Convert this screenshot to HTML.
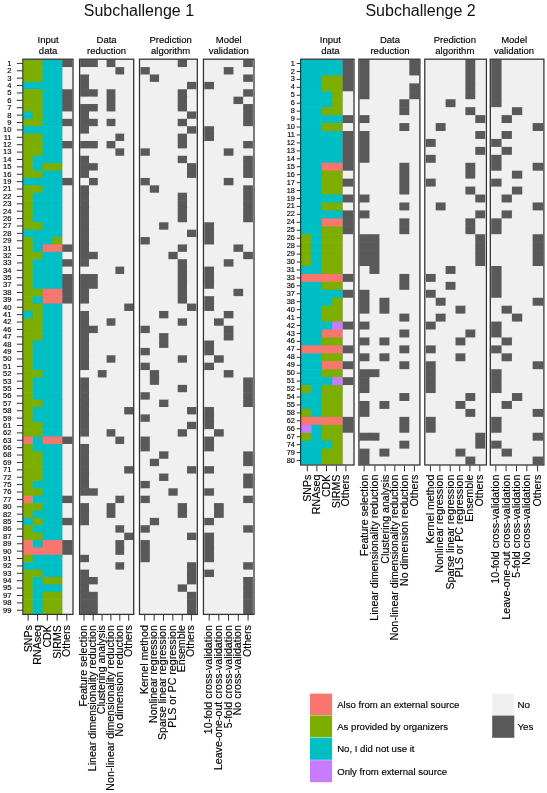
<!DOCTYPE html>
<html><head><meta charset="utf-8"><style>
html,body{margin:0;padding:0;background:#fff;}
svg{display:block;font-family:"Liberation Sans", sans-serif;will-change:transform;}
text{fill:#000;stroke:#000;stroke-width:0.15px;}
text.t{fill:#111;stroke:none;}
</style></head><body>
<svg width="547" height="793" viewBox="0 0 547 793">
<line x1="16.85" y1="63.40" x2="22.85" y2="63.40" stroke="#333333" stroke-width="1"/>
<text x="11.55" y="65.80" font-size="7.6" text-anchor="end">1</text>
<line x1="16.85" y1="70.78" x2="22.85" y2="70.78" stroke="#333333" stroke-width="1"/>
<text x="11.55" y="73.19" font-size="7.6" text-anchor="end">2</text>
<line x1="16.85" y1="78.17" x2="22.85" y2="78.17" stroke="#333333" stroke-width="1"/>
<text x="11.55" y="80.58" font-size="7.6" text-anchor="end">3</text>
<line x1="16.85" y1="85.56" x2="22.85" y2="85.56" stroke="#333333" stroke-width="1"/>
<text x="11.55" y="87.97" font-size="7.6" text-anchor="end">4</text>
<line x1="16.85" y1="92.95" x2="22.85" y2="92.95" stroke="#333333" stroke-width="1"/>
<text x="11.55" y="95.36" font-size="7.6" text-anchor="end">5</text>
<line x1="16.85" y1="100.34" x2="22.85" y2="100.34" stroke="#333333" stroke-width="1"/>
<text x="11.55" y="102.75" font-size="7.6" text-anchor="end">6</text>
<line x1="16.85" y1="107.73" x2="22.85" y2="107.73" stroke="#333333" stroke-width="1"/>
<text x="11.55" y="110.14" font-size="7.6" text-anchor="end">7</text>
<line x1="16.85" y1="115.12" x2="22.85" y2="115.12" stroke="#333333" stroke-width="1"/>
<text x="11.55" y="117.53" font-size="7.6" text-anchor="end">8</text>
<line x1="16.85" y1="122.52" x2="22.85" y2="122.52" stroke="#333333" stroke-width="1"/>
<text x="11.55" y="124.92" font-size="7.6" text-anchor="end">9</text>
<line x1="16.85" y1="129.91" x2="22.85" y2="129.91" stroke="#333333" stroke-width="1"/>
<text x="11.55" y="132.31" font-size="7.6" text-anchor="end">10</text>
<line x1="16.85" y1="137.30" x2="22.85" y2="137.30" stroke="#333333" stroke-width="1"/>
<text x="11.55" y="139.70" font-size="7.6" text-anchor="end">11</text>
<line x1="16.85" y1="144.69" x2="22.85" y2="144.69" stroke="#333333" stroke-width="1"/>
<text x="11.55" y="147.09" font-size="7.6" text-anchor="end">12</text>
<line x1="16.85" y1="152.07" x2="22.85" y2="152.07" stroke="#333333" stroke-width="1"/>
<text x="11.55" y="154.47" font-size="7.6" text-anchor="end">13</text>
<line x1="16.85" y1="159.47" x2="22.85" y2="159.47" stroke="#333333" stroke-width="1"/>
<text x="11.55" y="161.87" font-size="7.6" text-anchor="end">14</text>
<line x1="16.85" y1="166.86" x2="22.85" y2="166.86" stroke="#333333" stroke-width="1"/>
<text x="11.55" y="169.26" font-size="7.6" text-anchor="end">15</text>
<line x1="16.85" y1="174.25" x2="22.85" y2="174.25" stroke="#333333" stroke-width="1"/>
<text x="11.55" y="176.65" font-size="7.6" text-anchor="end">16</text>
<line x1="16.85" y1="181.63" x2="22.85" y2="181.63" stroke="#333333" stroke-width="1"/>
<text x="11.55" y="184.03" font-size="7.6" text-anchor="end">19</text>
<line x1="16.85" y1="189.02" x2="22.85" y2="189.02" stroke="#333333" stroke-width="1"/>
<text x="11.55" y="191.42" font-size="7.6" text-anchor="end">21</text>
<line x1="16.85" y1="196.42" x2="22.85" y2="196.42" stroke="#333333" stroke-width="1"/>
<text x="11.55" y="198.82" font-size="7.6" text-anchor="end">22</text>
<line x1="16.85" y1="203.81" x2="22.85" y2="203.81" stroke="#333333" stroke-width="1"/>
<text x="11.55" y="206.21" font-size="7.6" text-anchor="end">23</text>
<line x1="16.85" y1="211.19" x2="22.85" y2="211.19" stroke="#333333" stroke-width="1"/>
<text x="11.55" y="213.59" font-size="7.6" text-anchor="end">24</text>
<line x1="16.85" y1="218.58" x2="22.85" y2="218.58" stroke="#333333" stroke-width="1"/>
<text x="11.55" y="220.98" font-size="7.6" text-anchor="end">26</text>
<line x1="16.85" y1="225.98" x2="22.85" y2="225.98" stroke="#333333" stroke-width="1"/>
<text x="11.55" y="228.38" font-size="7.6" text-anchor="end">27</text>
<line x1="16.85" y1="233.37" x2="22.85" y2="233.37" stroke="#333333" stroke-width="1"/>
<text x="11.55" y="235.77" font-size="7.6" text-anchor="end">28</text>
<line x1="16.85" y1="240.75" x2="22.85" y2="240.75" stroke="#333333" stroke-width="1"/>
<text x="11.55" y="243.16" font-size="7.6" text-anchor="end">29</text>
<line x1="16.85" y1="248.14" x2="22.85" y2="248.14" stroke="#333333" stroke-width="1"/>
<text x="11.55" y="250.54" font-size="7.6" text-anchor="end">31</text>
<line x1="16.85" y1="255.53" x2="22.85" y2="255.53" stroke="#333333" stroke-width="1"/>
<text x="11.55" y="257.93" font-size="7.6" text-anchor="end">32</text>
<line x1="16.85" y1="262.93" x2="22.85" y2="262.93" stroke="#333333" stroke-width="1"/>
<text x="11.55" y="265.32" font-size="7.6" text-anchor="end">33</text>
<line x1="16.85" y1="270.31" x2="22.85" y2="270.31" stroke="#333333" stroke-width="1"/>
<text x="11.55" y="272.71" font-size="7.6" text-anchor="end">34</text>
<line x1="16.85" y1="277.70" x2="22.85" y2="277.70" stroke="#333333" stroke-width="1"/>
<text x="11.55" y="280.10" font-size="7.6" text-anchor="end">35</text>
<line x1="16.85" y1="285.09" x2="22.85" y2="285.09" stroke="#333333" stroke-width="1"/>
<text x="11.55" y="287.49" font-size="7.6" text-anchor="end">37</text>
<line x1="16.85" y1="292.49" x2="22.85" y2="292.49" stroke="#333333" stroke-width="1"/>
<text x="11.55" y="294.88" font-size="7.6" text-anchor="end">38</text>
<line x1="16.85" y1="299.88" x2="22.85" y2="299.88" stroke="#333333" stroke-width="1"/>
<text x="11.55" y="302.27" font-size="7.6" text-anchor="end">39</text>
<line x1="16.85" y1="307.26" x2="22.85" y2="307.26" stroke="#333333" stroke-width="1"/>
<text x="11.55" y="309.66" font-size="7.6" text-anchor="end">40</text>
<line x1="16.85" y1="314.65" x2="22.85" y2="314.65" stroke="#333333" stroke-width="1"/>
<text x="11.55" y="317.05" font-size="7.6" text-anchor="end">41</text>
<line x1="16.85" y1="322.04" x2="22.85" y2="322.04" stroke="#333333" stroke-width="1"/>
<text x="11.55" y="324.44" font-size="7.6" text-anchor="end">42</text>
<line x1="16.85" y1="329.44" x2="22.85" y2="329.44" stroke="#333333" stroke-width="1"/>
<text x="11.55" y="331.83" font-size="7.6" text-anchor="end">46</text>
<line x1="16.85" y1="336.82" x2="22.85" y2="336.82" stroke="#333333" stroke-width="1"/>
<text x="11.55" y="339.22" font-size="7.6" text-anchor="end">47</text>
<line x1="16.85" y1="344.21" x2="22.85" y2="344.21" stroke="#333333" stroke-width="1"/>
<text x="11.55" y="346.61" font-size="7.6" text-anchor="end">48</text>
<line x1="16.85" y1="351.60" x2="22.85" y2="351.60" stroke="#333333" stroke-width="1"/>
<text x="11.55" y="354.00" font-size="7.6" text-anchor="end">49</text>
<line x1="16.85" y1="358.99" x2="22.85" y2="358.99" stroke="#333333" stroke-width="1"/>
<text x="11.55" y="361.39" font-size="7.6" text-anchor="end">50</text>
<line x1="16.85" y1="366.38" x2="22.85" y2="366.38" stroke="#333333" stroke-width="1"/>
<text x="11.55" y="368.78" font-size="7.6" text-anchor="end">51</text>
<line x1="16.85" y1="373.77" x2="22.85" y2="373.77" stroke="#333333" stroke-width="1"/>
<text x="11.55" y="376.17" font-size="7.6" text-anchor="end">52</text>
<line x1="16.85" y1="381.16" x2="22.85" y2="381.16" stroke="#333333" stroke-width="1"/>
<text x="11.55" y="383.56" font-size="7.6" text-anchor="end">53</text>
<line x1="16.85" y1="388.55" x2="22.85" y2="388.55" stroke="#333333" stroke-width="1"/>
<text x="11.55" y="390.95" font-size="7.6" text-anchor="end">55</text>
<line x1="16.85" y1="395.94" x2="22.85" y2="395.94" stroke="#333333" stroke-width="1"/>
<text x="11.55" y="398.34" font-size="7.6" text-anchor="end">56</text>
<line x1="16.85" y1="403.33" x2="22.85" y2="403.33" stroke="#333333" stroke-width="1"/>
<text x="11.55" y="405.73" font-size="7.6" text-anchor="end">57</text>
<line x1="16.85" y1="410.72" x2="22.85" y2="410.72" stroke="#333333" stroke-width="1"/>
<text x="11.55" y="413.12" font-size="7.6" text-anchor="end">58</text>
<line x1="16.85" y1="418.11" x2="22.85" y2="418.11" stroke="#333333" stroke-width="1"/>
<text x="11.55" y="420.51" font-size="7.6" text-anchor="end">59</text>
<line x1="16.85" y1="425.50" x2="22.85" y2="425.50" stroke="#333333" stroke-width="1"/>
<text x="11.55" y="427.90" font-size="7.6" text-anchor="end">61</text>
<line x1="16.85" y1="432.89" x2="22.85" y2="432.89" stroke="#333333" stroke-width="1"/>
<text x="11.55" y="435.29" font-size="7.6" text-anchor="end">62</text>
<line x1="16.85" y1="440.28" x2="22.85" y2="440.28" stroke="#333333" stroke-width="1"/>
<text x="11.55" y="442.68" font-size="7.6" text-anchor="end">63</text>
<line x1="16.85" y1="447.67" x2="22.85" y2="447.67" stroke="#333333" stroke-width="1"/>
<text x="11.55" y="450.07" font-size="7.6" text-anchor="end">66</text>
<line x1="16.85" y1="455.06" x2="22.85" y2="455.06" stroke="#333333" stroke-width="1"/>
<text x="11.55" y="457.46" font-size="7.6" text-anchor="end">68</text>
<line x1="16.85" y1="462.45" x2="22.85" y2="462.45" stroke="#333333" stroke-width="1"/>
<text x="11.55" y="464.85" font-size="7.6" text-anchor="end">69</text>
<line x1="16.85" y1="469.84" x2="22.85" y2="469.84" stroke="#333333" stroke-width="1"/>
<text x="11.55" y="472.24" font-size="7.6" text-anchor="end">71</text>
<line x1="16.85" y1="477.23" x2="22.85" y2="477.23" stroke="#333333" stroke-width="1"/>
<text x="11.55" y="479.63" font-size="7.6" text-anchor="end">72</text>
<line x1="16.85" y1="484.62" x2="22.85" y2="484.62" stroke="#333333" stroke-width="1"/>
<text x="11.55" y="487.02" font-size="7.6" text-anchor="end">75</text>
<line x1="16.85" y1="492.01" x2="22.85" y2="492.01" stroke="#333333" stroke-width="1"/>
<text x="11.55" y="494.41" font-size="7.6" text-anchor="end">76</text>
<line x1="16.85" y1="499.40" x2="22.85" y2="499.40" stroke="#333333" stroke-width="1"/>
<text x="11.55" y="501.80" font-size="7.6" text-anchor="end">77</text>
<line x1="16.85" y1="506.79" x2="22.85" y2="506.79" stroke="#333333" stroke-width="1"/>
<text x="11.55" y="509.19" font-size="7.6" text-anchor="end">80</text>
<line x1="16.85" y1="514.18" x2="22.85" y2="514.18" stroke="#333333" stroke-width="1"/>
<text x="11.55" y="516.58" font-size="7.6" text-anchor="end">82</text>
<line x1="16.85" y1="521.58" x2="22.85" y2="521.58" stroke="#333333" stroke-width="1"/>
<text x="11.55" y="523.98" font-size="7.6" text-anchor="end">85</text>
<line x1="16.85" y1="528.97" x2="22.85" y2="528.97" stroke="#333333" stroke-width="1"/>
<text x="11.55" y="531.37" font-size="7.6" text-anchor="end">86</text>
<line x1="16.85" y1="536.36" x2="22.85" y2="536.36" stroke="#333333" stroke-width="1"/>
<text x="11.55" y="538.75" font-size="7.6" text-anchor="end">87</text>
<line x1="16.85" y1="543.75" x2="22.85" y2="543.75" stroke="#333333" stroke-width="1"/>
<text x="11.55" y="546.14" font-size="7.6" text-anchor="end">89</text>
<line x1="16.85" y1="551.13" x2="22.85" y2="551.13" stroke="#333333" stroke-width="1"/>
<text x="11.55" y="553.53" font-size="7.6" text-anchor="end">90</text>
<line x1="16.85" y1="558.52" x2="22.85" y2="558.52" stroke="#333333" stroke-width="1"/>
<text x="11.55" y="560.92" font-size="7.6" text-anchor="end">91</text>
<line x1="16.85" y1="565.91" x2="22.85" y2="565.91" stroke="#333333" stroke-width="1"/>
<text x="11.55" y="568.31" font-size="7.6" text-anchor="end">92</text>
<line x1="16.85" y1="573.31" x2="22.85" y2="573.31" stroke="#333333" stroke-width="1"/>
<text x="11.55" y="575.71" font-size="7.6" text-anchor="end">93</text>
<line x1="16.85" y1="580.70" x2="22.85" y2="580.70" stroke="#333333" stroke-width="1"/>
<text x="11.55" y="583.10" font-size="7.6" text-anchor="end">94</text>
<line x1="16.85" y1="588.09" x2="22.85" y2="588.09" stroke="#333333" stroke-width="1"/>
<text x="11.55" y="590.49" font-size="7.6" text-anchor="end">95</text>
<line x1="16.85" y1="595.48" x2="22.85" y2="595.48" stroke="#333333" stroke-width="1"/>
<text x="11.55" y="597.88" font-size="7.6" text-anchor="end">97</text>
<line x1="16.85" y1="602.87" x2="22.85" y2="602.87" stroke="#333333" stroke-width="1"/>
<text x="11.55" y="605.26" font-size="7.6" text-anchor="end">98</text>
<line x1="16.85" y1="610.25" x2="22.85" y2="610.25" stroke="#333333" stroke-width="1"/>
<text x="11.55" y="612.65" font-size="7.6" text-anchor="end">99</text>
<rect x="23.30" y="59.70" width="10.38" height="7.99" fill="#7CAE00"/>
<rect x="33.08" y="59.70" width="10.38" height="7.99" fill="#7CAE00"/>
<rect x="42.86" y="59.70" width="10.38" height="7.99" fill="#00BFC4"/>
<rect x="52.64" y="59.70" width="10.38" height="7.99" fill="#00BFC4"/>
<rect x="62.42" y="59.70" width="9.78" height="7.99" fill="#595959"/>
<rect x="23.30" y="67.09" width="10.38" height="7.99" fill="#7CAE00"/>
<rect x="33.08" y="67.09" width="10.38" height="7.99" fill="#7CAE00"/>
<rect x="42.86" y="67.09" width="10.38" height="7.99" fill="#00BFC4"/>
<rect x="52.64" y="67.09" width="10.38" height="7.99" fill="#00BFC4"/>
<rect x="62.42" y="67.09" width="9.78" height="7.99" fill="#F0F0F0"/>
<rect x="23.30" y="74.48" width="10.38" height="7.99" fill="#7CAE00"/>
<rect x="33.08" y="74.48" width="10.38" height="7.99" fill="#7CAE00"/>
<rect x="42.86" y="74.48" width="10.38" height="7.99" fill="#00BFC4"/>
<rect x="52.64" y="74.48" width="10.38" height="7.99" fill="#00BFC4"/>
<rect x="62.42" y="74.48" width="9.78" height="7.99" fill="#F0F0F0"/>
<rect x="23.30" y="81.87" width="10.38" height="7.99" fill="#00BFC4"/>
<rect x="33.08" y="81.87" width="10.38" height="7.99" fill="#00BFC4"/>
<rect x="42.86" y="81.87" width="10.38" height="7.99" fill="#00BFC4"/>
<rect x="52.64" y="81.87" width="10.38" height="7.99" fill="#00BFC4"/>
<rect x="62.42" y="81.87" width="9.78" height="7.99" fill="#F0F0F0"/>
<rect x="23.30" y="89.26" width="10.38" height="7.99" fill="#7CAE00"/>
<rect x="33.08" y="89.26" width="10.38" height="7.99" fill="#7CAE00"/>
<rect x="42.86" y="89.26" width="10.38" height="7.99" fill="#00BFC4"/>
<rect x="52.64" y="89.26" width="10.38" height="7.99" fill="#00BFC4"/>
<rect x="62.42" y="89.26" width="9.78" height="7.99" fill="#595959"/>
<rect x="23.30" y="96.65" width="10.38" height="7.99" fill="#7CAE00"/>
<rect x="33.08" y="96.65" width="10.38" height="7.99" fill="#7CAE00"/>
<rect x="42.86" y="96.65" width="10.38" height="7.99" fill="#00BFC4"/>
<rect x="52.64" y="96.65" width="10.38" height="7.99" fill="#00BFC4"/>
<rect x="62.42" y="96.65" width="9.78" height="7.99" fill="#595959"/>
<rect x="23.30" y="104.04" width="10.38" height="7.99" fill="#7CAE00"/>
<rect x="33.08" y="104.04" width="10.38" height="7.99" fill="#7CAE00"/>
<rect x="42.86" y="104.04" width="10.38" height="7.99" fill="#00BFC4"/>
<rect x="52.64" y="104.04" width="10.38" height="7.99" fill="#00BFC4"/>
<rect x="62.42" y="104.04" width="9.78" height="7.99" fill="#595959"/>
<rect x="23.30" y="111.43" width="10.38" height="7.99" fill="#00BFC4"/>
<rect x="33.08" y="111.43" width="10.38" height="7.99" fill="#7CAE00"/>
<rect x="42.86" y="111.43" width="10.38" height="7.99" fill="#00BFC4"/>
<rect x="52.64" y="111.43" width="10.38" height="7.99" fill="#00BFC4"/>
<rect x="62.42" y="111.43" width="9.78" height="7.99" fill="#F0F0F0"/>
<rect x="23.30" y="118.82" width="10.38" height="7.99" fill="#7CAE00"/>
<rect x="33.08" y="118.82" width="10.38" height="7.99" fill="#7CAE00"/>
<rect x="42.86" y="118.82" width="10.38" height="7.99" fill="#00BFC4"/>
<rect x="52.64" y="118.82" width="10.38" height="7.99" fill="#00BFC4"/>
<rect x="62.42" y="118.82" width="9.78" height="7.99" fill="#595959"/>
<rect x="23.30" y="126.21" width="10.38" height="7.99" fill="#00BFC4"/>
<rect x="33.08" y="126.21" width="10.38" height="7.99" fill="#00BFC4"/>
<rect x="42.86" y="126.21" width="10.38" height="7.99" fill="#00BFC4"/>
<rect x="52.64" y="126.21" width="10.38" height="7.99" fill="#00BFC4"/>
<rect x="62.42" y="126.21" width="9.78" height="7.99" fill="#F0F0F0"/>
<rect x="23.30" y="133.60" width="10.38" height="7.99" fill="#7CAE00"/>
<rect x="33.08" y="133.60" width="10.38" height="7.99" fill="#7CAE00"/>
<rect x="42.86" y="133.60" width="10.38" height="7.99" fill="#00BFC4"/>
<rect x="52.64" y="133.60" width="10.38" height="7.99" fill="#00BFC4"/>
<rect x="62.42" y="133.60" width="9.78" height="7.99" fill="#F0F0F0"/>
<rect x="23.30" y="140.99" width="10.38" height="7.99" fill="#7CAE00"/>
<rect x="33.08" y="140.99" width="10.38" height="7.99" fill="#7CAE00"/>
<rect x="42.86" y="140.99" width="10.38" height="7.99" fill="#00BFC4"/>
<rect x="52.64" y="140.99" width="10.38" height="7.99" fill="#00BFC4"/>
<rect x="62.42" y="140.99" width="9.78" height="7.99" fill="#595959"/>
<rect x="23.30" y="148.38" width="10.38" height="7.99" fill="#7CAE00"/>
<rect x="33.08" y="148.38" width="10.38" height="7.99" fill="#7CAE00"/>
<rect x="42.86" y="148.38" width="10.38" height="7.99" fill="#00BFC4"/>
<rect x="52.64" y="148.38" width="10.38" height="7.99" fill="#00BFC4"/>
<rect x="62.42" y="148.38" width="9.78" height="7.99" fill="#F0F0F0"/>
<rect x="23.30" y="155.77" width="10.38" height="7.99" fill="#7CAE00"/>
<rect x="33.08" y="155.77" width="10.38" height="7.99" fill="#00BFC4"/>
<rect x="42.86" y="155.77" width="10.38" height="7.99" fill="#00BFC4"/>
<rect x="52.64" y="155.77" width="10.38" height="7.99" fill="#00BFC4"/>
<rect x="62.42" y="155.77" width="9.78" height="7.99" fill="#F0F0F0"/>
<rect x="23.30" y="163.16" width="10.38" height="7.99" fill="#7CAE00"/>
<rect x="33.08" y="163.16" width="10.38" height="7.99" fill="#00BFC4"/>
<rect x="42.86" y="163.16" width="10.38" height="7.99" fill="#7CAE00"/>
<rect x="52.64" y="163.16" width="10.38" height="7.99" fill="#7CAE00"/>
<rect x="62.42" y="163.16" width="9.78" height="7.99" fill="#F0F0F0"/>
<rect x="23.30" y="170.55" width="10.38" height="7.99" fill="#7CAE00"/>
<rect x="33.08" y="170.55" width="10.38" height="7.99" fill="#7CAE00"/>
<rect x="42.86" y="170.55" width="10.38" height="7.99" fill="#00BFC4"/>
<rect x="52.64" y="170.55" width="10.38" height="7.99" fill="#00BFC4"/>
<rect x="62.42" y="170.55" width="9.78" height="7.99" fill="#F0F0F0"/>
<rect x="23.30" y="177.94" width="10.38" height="7.99" fill="#00BFC4"/>
<rect x="33.08" y="177.94" width="10.38" height="7.99" fill="#00BFC4"/>
<rect x="42.86" y="177.94" width="10.38" height="7.99" fill="#00BFC4"/>
<rect x="52.64" y="177.94" width="10.38" height="7.99" fill="#00BFC4"/>
<rect x="62.42" y="177.94" width="9.78" height="7.99" fill="#595959"/>
<rect x="23.30" y="185.33" width="10.38" height="7.99" fill="#7CAE00"/>
<rect x="33.08" y="185.33" width="10.38" height="7.99" fill="#7CAE00"/>
<rect x="42.86" y="185.33" width="10.38" height="7.99" fill="#00BFC4"/>
<rect x="52.64" y="185.33" width="10.38" height="7.99" fill="#00BFC4"/>
<rect x="62.42" y="185.33" width="9.78" height="7.99" fill="#F0F0F0"/>
<rect x="23.30" y="192.72" width="10.38" height="7.99" fill="#7CAE00"/>
<rect x="33.08" y="192.72" width="10.38" height="7.99" fill="#00BFC4"/>
<rect x="42.86" y="192.72" width="10.38" height="7.99" fill="#00BFC4"/>
<rect x="52.64" y="192.72" width="10.38" height="7.99" fill="#00BFC4"/>
<rect x="62.42" y="192.72" width="9.78" height="7.99" fill="#F0F0F0"/>
<rect x="23.30" y="200.11" width="10.38" height="7.99" fill="#7CAE00"/>
<rect x="33.08" y="200.11" width="10.38" height="7.99" fill="#00BFC4"/>
<rect x="42.86" y="200.11" width="10.38" height="7.99" fill="#00BFC4"/>
<rect x="52.64" y="200.11" width="10.38" height="7.99" fill="#00BFC4"/>
<rect x="62.42" y="200.11" width="9.78" height="7.99" fill="#F0F0F0"/>
<rect x="23.30" y="207.50" width="10.38" height="7.99" fill="#7CAE00"/>
<rect x="33.08" y="207.50" width="10.38" height="7.99" fill="#00BFC4"/>
<rect x="42.86" y="207.50" width="10.38" height="7.99" fill="#00BFC4"/>
<rect x="52.64" y="207.50" width="10.38" height="7.99" fill="#00BFC4"/>
<rect x="62.42" y="207.50" width="9.78" height="7.99" fill="#F0F0F0"/>
<rect x="23.30" y="214.89" width="10.38" height="7.99" fill="#7CAE00"/>
<rect x="33.08" y="214.89" width="10.38" height="7.99" fill="#00BFC4"/>
<rect x="42.86" y="214.89" width="10.38" height="7.99" fill="#00BFC4"/>
<rect x="52.64" y="214.89" width="10.38" height="7.99" fill="#00BFC4"/>
<rect x="62.42" y="214.89" width="9.78" height="7.99" fill="#F0F0F0"/>
<rect x="23.30" y="222.28" width="10.38" height="7.99" fill="#7CAE00"/>
<rect x="33.08" y="222.28" width="10.38" height="7.99" fill="#7CAE00"/>
<rect x="42.86" y="222.28" width="10.38" height="7.99" fill="#00BFC4"/>
<rect x="52.64" y="222.28" width="10.38" height="7.99" fill="#00BFC4"/>
<rect x="62.42" y="222.28" width="9.78" height="7.99" fill="#F0F0F0"/>
<rect x="23.30" y="229.67" width="10.38" height="7.99" fill="#00BFC4"/>
<rect x="33.08" y="229.67" width="10.38" height="7.99" fill="#00BFC4"/>
<rect x="42.86" y="229.67" width="10.38" height="7.99" fill="#00BFC4"/>
<rect x="52.64" y="229.67" width="10.38" height="7.99" fill="#00BFC4"/>
<rect x="62.42" y="229.67" width="9.78" height="7.99" fill="#F0F0F0"/>
<rect x="23.30" y="237.06" width="10.38" height="7.99" fill="#7CAE00"/>
<rect x="33.08" y="237.06" width="10.38" height="7.99" fill="#00BFC4"/>
<rect x="42.86" y="237.06" width="10.38" height="7.99" fill="#00BFC4"/>
<rect x="52.64" y="237.06" width="10.38" height="7.99" fill="#7CAE00"/>
<rect x="62.42" y="237.06" width="9.78" height="7.99" fill="#F0F0F0"/>
<rect x="23.30" y="244.45" width="10.38" height="7.99" fill="#7CAE00"/>
<rect x="33.08" y="244.45" width="10.38" height="7.99" fill="#00BFC4"/>
<rect x="42.86" y="244.45" width="10.38" height="7.99" fill="#F8766D"/>
<rect x="52.64" y="244.45" width="10.38" height="7.99" fill="#F8766D"/>
<rect x="62.42" y="244.45" width="9.78" height="7.99" fill="#595959"/>
<rect x="23.30" y="251.84" width="10.38" height="7.99" fill="#7CAE00"/>
<rect x="33.08" y="251.84" width="10.38" height="7.99" fill="#7CAE00"/>
<rect x="42.86" y="251.84" width="10.38" height="7.99" fill="#00BFC4"/>
<rect x="52.64" y="251.84" width="10.38" height="7.99" fill="#00BFC4"/>
<rect x="62.42" y="251.84" width="9.78" height="7.99" fill="#F0F0F0"/>
<rect x="23.30" y="259.23" width="10.38" height="7.99" fill="#7CAE00"/>
<rect x="33.08" y="259.23" width="10.38" height="7.99" fill="#00BFC4"/>
<rect x="42.86" y="259.23" width="10.38" height="7.99" fill="#00BFC4"/>
<rect x="52.64" y="259.23" width="10.38" height="7.99" fill="#00BFC4"/>
<rect x="62.42" y="259.23" width="9.78" height="7.99" fill="#595959"/>
<rect x="23.30" y="266.62" width="10.38" height="7.99" fill="#7CAE00"/>
<rect x="33.08" y="266.62" width="10.38" height="7.99" fill="#00BFC4"/>
<rect x="42.86" y="266.62" width="10.38" height="7.99" fill="#00BFC4"/>
<rect x="52.64" y="266.62" width="10.38" height="7.99" fill="#00BFC4"/>
<rect x="62.42" y="266.62" width="9.78" height="7.99" fill="#F0F0F0"/>
<rect x="23.30" y="274.01" width="10.38" height="7.99" fill="#7CAE00"/>
<rect x="33.08" y="274.01" width="10.38" height="7.99" fill="#00BFC4"/>
<rect x="42.86" y="274.01" width="10.38" height="7.99" fill="#00BFC4"/>
<rect x="52.64" y="274.01" width="10.38" height="7.99" fill="#00BFC4"/>
<rect x="62.42" y="274.01" width="9.78" height="7.99" fill="#595959"/>
<rect x="23.30" y="281.40" width="10.38" height="7.99" fill="#7CAE00"/>
<rect x="33.08" y="281.40" width="10.38" height="7.99" fill="#00BFC4"/>
<rect x="42.86" y="281.40" width="10.38" height="7.99" fill="#00BFC4"/>
<rect x="52.64" y="281.40" width="10.38" height="7.99" fill="#00BFC4"/>
<rect x="62.42" y="281.40" width="9.78" height="7.99" fill="#595959"/>
<rect x="23.30" y="288.79" width="10.38" height="7.99" fill="#7CAE00"/>
<rect x="33.08" y="288.79" width="10.38" height="7.99" fill="#7CAE00"/>
<rect x="42.86" y="288.79" width="10.38" height="7.99" fill="#F8766D"/>
<rect x="52.64" y="288.79" width="10.38" height="7.99" fill="#F8766D"/>
<rect x="62.42" y="288.79" width="9.78" height="7.99" fill="#595959"/>
<rect x="23.30" y="296.18" width="10.38" height="7.99" fill="#7CAE00"/>
<rect x="33.08" y="296.18" width="10.38" height="7.99" fill="#00BFC4"/>
<rect x="42.86" y="296.18" width="10.38" height="7.99" fill="#F8766D"/>
<rect x="52.64" y="296.18" width="10.38" height="7.99" fill="#F8766D"/>
<rect x="62.42" y="296.18" width="9.78" height="7.99" fill="#595959"/>
<rect x="23.30" y="303.57" width="10.38" height="7.99" fill="#7CAE00"/>
<rect x="33.08" y="303.57" width="10.38" height="7.99" fill="#7CAE00"/>
<rect x="42.86" y="303.57" width="10.38" height="7.99" fill="#00BFC4"/>
<rect x="52.64" y="303.57" width="10.38" height="7.99" fill="#00BFC4"/>
<rect x="62.42" y="303.57" width="9.78" height="7.99" fill="#F0F0F0"/>
<rect x="23.30" y="310.96" width="10.38" height="7.99" fill="#00BFC4"/>
<rect x="33.08" y="310.96" width="10.38" height="7.99" fill="#7CAE00"/>
<rect x="42.86" y="310.96" width="10.38" height="7.99" fill="#00BFC4"/>
<rect x="52.64" y="310.96" width="10.38" height="7.99" fill="#00BFC4"/>
<rect x="62.42" y="310.96" width="9.78" height="7.99" fill="#F0F0F0"/>
<rect x="23.30" y="318.35" width="10.38" height="7.99" fill="#7CAE00"/>
<rect x="33.08" y="318.35" width="10.38" height="7.99" fill="#7CAE00"/>
<rect x="42.86" y="318.35" width="10.38" height="7.99" fill="#00BFC4"/>
<rect x="52.64" y="318.35" width="10.38" height="7.99" fill="#00BFC4"/>
<rect x="62.42" y="318.35" width="9.78" height="7.99" fill="#F0F0F0"/>
<rect x="23.30" y="325.74" width="10.38" height="7.99" fill="#7CAE00"/>
<rect x="33.08" y="325.74" width="10.38" height="7.99" fill="#7CAE00"/>
<rect x="42.86" y="325.74" width="10.38" height="7.99" fill="#00BFC4"/>
<rect x="52.64" y="325.74" width="10.38" height="7.99" fill="#00BFC4"/>
<rect x="62.42" y="325.74" width="9.78" height="7.99" fill="#F0F0F0"/>
<rect x="23.30" y="333.13" width="10.38" height="7.99" fill="#7CAE00"/>
<rect x="33.08" y="333.13" width="10.38" height="7.99" fill="#7CAE00"/>
<rect x="42.86" y="333.13" width="10.38" height="7.99" fill="#00BFC4"/>
<rect x="52.64" y="333.13" width="10.38" height="7.99" fill="#00BFC4"/>
<rect x="62.42" y="333.13" width="9.78" height="7.99" fill="#F0F0F0"/>
<rect x="23.30" y="340.52" width="10.38" height="7.99" fill="#7CAE00"/>
<rect x="33.08" y="340.52" width="10.38" height="7.99" fill="#00BFC4"/>
<rect x="42.86" y="340.52" width="10.38" height="7.99" fill="#00BFC4"/>
<rect x="52.64" y="340.52" width="10.38" height="7.99" fill="#00BFC4"/>
<rect x="62.42" y="340.52" width="9.78" height="7.99" fill="#F0F0F0"/>
<rect x="23.30" y="347.91" width="10.38" height="7.99" fill="#7CAE00"/>
<rect x="33.08" y="347.91" width="10.38" height="7.99" fill="#00BFC4"/>
<rect x="42.86" y="347.91" width="10.38" height="7.99" fill="#00BFC4"/>
<rect x="52.64" y="347.91" width="10.38" height="7.99" fill="#00BFC4"/>
<rect x="62.42" y="347.91" width="9.78" height="7.99" fill="#F0F0F0"/>
<rect x="23.30" y="355.30" width="10.38" height="7.99" fill="#7CAE00"/>
<rect x="33.08" y="355.30" width="10.38" height="7.99" fill="#00BFC4"/>
<rect x="42.86" y="355.30" width="10.38" height="7.99" fill="#00BFC4"/>
<rect x="52.64" y="355.30" width="10.38" height="7.99" fill="#00BFC4"/>
<rect x="62.42" y="355.30" width="9.78" height="7.99" fill="#F0F0F0"/>
<rect x="23.30" y="362.69" width="10.38" height="7.99" fill="#7CAE00"/>
<rect x="33.08" y="362.69" width="10.38" height="7.99" fill="#00BFC4"/>
<rect x="42.86" y="362.69" width="10.38" height="7.99" fill="#00BFC4"/>
<rect x="52.64" y="362.69" width="10.38" height="7.99" fill="#00BFC4"/>
<rect x="62.42" y="362.69" width="9.78" height="7.99" fill="#F0F0F0"/>
<rect x="23.30" y="370.08" width="10.38" height="7.99" fill="#7CAE00"/>
<rect x="33.08" y="370.08" width="10.38" height="7.99" fill="#7CAE00"/>
<rect x="42.86" y="370.08" width="10.38" height="7.99" fill="#00BFC4"/>
<rect x="52.64" y="370.08" width="10.38" height="7.99" fill="#00BFC4"/>
<rect x="62.42" y="370.08" width="9.78" height="7.99" fill="#F0F0F0"/>
<rect x="23.30" y="377.47" width="10.38" height="7.99" fill="#7CAE00"/>
<rect x="33.08" y="377.47" width="10.38" height="7.99" fill="#00BFC4"/>
<rect x="42.86" y="377.47" width="10.38" height="7.99" fill="#00BFC4"/>
<rect x="52.64" y="377.47" width="10.38" height="7.99" fill="#00BFC4"/>
<rect x="62.42" y="377.47" width="9.78" height="7.99" fill="#F0F0F0"/>
<rect x="23.30" y="384.86" width="10.38" height="7.99" fill="#7CAE00"/>
<rect x="33.08" y="384.86" width="10.38" height="7.99" fill="#00BFC4"/>
<rect x="42.86" y="384.86" width="10.38" height="7.99" fill="#00BFC4"/>
<rect x="52.64" y="384.86" width="10.38" height="7.99" fill="#00BFC4"/>
<rect x="62.42" y="384.86" width="9.78" height="7.99" fill="#F0F0F0"/>
<rect x="23.30" y="392.25" width="10.38" height="7.99" fill="#7CAE00"/>
<rect x="33.08" y="392.25" width="10.38" height="7.99" fill="#00BFC4"/>
<rect x="42.86" y="392.25" width="10.38" height="7.99" fill="#00BFC4"/>
<rect x="52.64" y="392.25" width="10.38" height="7.99" fill="#00BFC4"/>
<rect x="62.42" y="392.25" width="9.78" height="7.99" fill="#F0F0F0"/>
<rect x="23.30" y="399.64" width="10.38" height="7.99" fill="#7CAE00"/>
<rect x="33.08" y="399.64" width="10.38" height="7.99" fill="#7CAE00"/>
<rect x="42.86" y="399.64" width="10.38" height="7.99" fill="#00BFC4"/>
<rect x="52.64" y="399.64" width="10.38" height="7.99" fill="#00BFC4"/>
<rect x="62.42" y="399.64" width="9.78" height="7.99" fill="#F0F0F0"/>
<rect x="23.30" y="407.03" width="10.38" height="7.99" fill="#7CAE00"/>
<rect x="33.08" y="407.03" width="10.38" height="7.99" fill="#00BFC4"/>
<rect x="42.86" y="407.03" width="10.38" height="7.99" fill="#00BFC4"/>
<rect x="52.64" y="407.03" width="10.38" height="7.99" fill="#00BFC4"/>
<rect x="62.42" y="407.03" width="9.78" height="7.99" fill="#F0F0F0"/>
<rect x="23.30" y="414.42" width="10.38" height="7.99" fill="#7CAE00"/>
<rect x="33.08" y="414.42" width="10.38" height="7.99" fill="#00BFC4"/>
<rect x="42.86" y="414.42" width="10.38" height="7.99" fill="#00BFC4"/>
<rect x="52.64" y="414.42" width="10.38" height="7.99" fill="#00BFC4"/>
<rect x="62.42" y="414.42" width="9.78" height="7.99" fill="#F0F0F0"/>
<rect x="23.30" y="421.81" width="10.38" height="7.99" fill="#7CAE00"/>
<rect x="33.08" y="421.81" width="10.38" height="7.99" fill="#7CAE00"/>
<rect x="42.86" y="421.81" width="10.38" height="7.99" fill="#00BFC4"/>
<rect x="52.64" y="421.81" width="10.38" height="7.99" fill="#00BFC4"/>
<rect x="62.42" y="421.81" width="9.78" height="7.99" fill="#F0F0F0"/>
<rect x="23.30" y="429.20" width="10.38" height="7.99" fill="#7CAE00"/>
<rect x="33.08" y="429.20" width="10.38" height="7.99" fill="#7CAE00"/>
<rect x="42.86" y="429.20" width="10.38" height="7.99" fill="#00BFC4"/>
<rect x="52.64" y="429.20" width="10.38" height="7.99" fill="#00BFC4"/>
<rect x="62.42" y="429.20" width="9.78" height="7.99" fill="#F0F0F0"/>
<rect x="23.30" y="436.59" width="10.38" height="7.99" fill="#F8766D"/>
<rect x="33.08" y="436.59" width="10.38" height="7.99" fill="#00BFC4"/>
<rect x="42.86" y="436.59" width="10.38" height="7.99" fill="#F8766D"/>
<rect x="52.64" y="436.59" width="10.38" height="7.99" fill="#F8766D"/>
<rect x="62.42" y="436.59" width="9.78" height="7.99" fill="#595959"/>
<rect x="23.30" y="443.98" width="10.38" height="7.99" fill="#7CAE00"/>
<rect x="33.08" y="443.98" width="10.38" height="7.99" fill="#00BFC4"/>
<rect x="42.86" y="443.98" width="10.38" height="7.99" fill="#00BFC4"/>
<rect x="52.64" y="443.98" width="10.38" height="7.99" fill="#00BFC4"/>
<rect x="62.42" y="443.98" width="9.78" height="7.99" fill="#F0F0F0"/>
<rect x="23.30" y="451.37" width="10.38" height="7.99" fill="#7CAE00"/>
<rect x="33.08" y="451.37" width="10.38" height="7.99" fill="#7CAE00"/>
<rect x="42.86" y="451.37" width="10.38" height="7.99" fill="#00BFC4"/>
<rect x="52.64" y="451.37" width="10.38" height="7.99" fill="#00BFC4"/>
<rect x="62.42" y="451.37" width="9.78" height="7.99" fill="#F0F0F0"/>
<rect x="23.30" y="458.76" width="10.38" height="7.99" fill="#7CAE00"/>
<rect x="33.08" y="458.76" width="10.38" height="7.99" fill="#7CAE00"/>
<rect x="42.86" y="458.76" width="10.38" height="7.99" fill="#00BFC4"/>
<rect x="52.64" y="458.76" width="10.38" height="7.99" fill="#00BFC4"/>
<rect x="62.42" y="458.76" width="9.78" height="7.99" fill="#F0F0F0"/>
<rect x="23.30" y="466.15" width="10.38" height="7.99" fill="#7CAE00"/>
<rect x="33.08" y="466.15" width="10.38" height="7.99" fill="#7CAE00"/>
<rect x="42.86" y="466.15" width="10.38" height="7.99" fill="#00BFC4"/>
<rect x="52.64" y="466.15" width="10.38" height="7.99" fill="#00BFC4"/>
<rect x="62.42" y="466.15" width="9.78" height="7.99" fill="#F0F0F0"/>
<rect x="23.30" y="473.54" width="10.38" height="7.99" fill="#7CAE00"/>
<rect x="33.08" y="473.54" width="10.38" height="7.99" fill="#7CAE00"/>
<rect x="42.86" y="473.54" width="10.38" height="7.99" fill="#00BFC4"/>
<rect x="52.64" y="473.54" width="10.38" height="7.99" fill="#00BFC4"/>
<rect x="62.42" y="473.54" width="9.78" height="7.99" fill="#F0F0F0"/>
<rect x="23.30" y="480.93" width="10.38" height="7.99" fill="#7CAE00"/>
<rect x="33.08" y="480.93" width="10.38" height="7.99" fill="#00BFC4"/>
<rect x="42.86" y="480.93" width="10.38" height="7.99" fill="#00BFC4"/>
<rect x="52.64" y="480.93" width="10.38" height="7.99" fill="#00BFC4"/>
<rect x="62.42" y="480.93" width="9.78" height="7.99" fill="#F0F0F0"/>
<rect x="23.30" y="488.32" width="10.38" height="7.99" fill="#7CAE00"/>
<rect x="33.08" y="488.32" width="10.38" height="7.99" fill="#7CAE00"/>
<rect x="42.86" y="488.32" width="10.38" height="7.99" fill="#00BFC4"/>
<rect x="52.64" y="488.32" width="10.38" height="7.99" fill="#00BFC4"/>
<rect x="62.42" y="488.32" width="9.78" height="7.99" fill="#F0F0F0"/>
<rect x="23.30" y="495.71" width="10.38" height="7.99" fill="#F8766D"/>
<rect x="33.08" y="495.71" width="10.38" height="7.99" fill="#00BFC4"/>
<rect x="42.86" y="495.71" width="10.38" height="7.99" fill="#00BFC4"/>
<rect x="52.64" y="495.71" width="10.38" height="7.99" fill="#00BFC4"/>
<rect x="62.42" y="495.71" width="9.78" height="7.99" fill="#595959"/>
<rect x="23.30" y="503.10" width="10.38" height="7.99" fill="#7CAE00"/>
<rect x="33.08" y="503.10" width="10.38" height="7.99" fill="#7CAE00"/>
<rect x="42.86" y="503.10" width="10.38" height="7.99" fill="#00BFC4"/>
<rect x="52.64" y="503.10" width="10.38" height="7.99" fill="#00BFC4"/>
<rect x="62.42" y="503.10" width="9.78" height="7.99" fill="#F0F0F0"/>
<rect x="23.30" y="510.49" width="10.38" height="7.99" fill="#7CAE00"/>
<rect x="33.08" y="510.49" width="10.38" height="7.99" fill="#00BFC4"/>
<rect x="42.86" y="510.49" width="10.38" height="7.99" fill="#00BFC4"/>
<rect x="52.64" y="510.49" width="10.38" height="7.99" fill="#00BFC4"/>
<rect x="62.42" y="510.49" width="9.78" height="7.99" fill="#F0F0F0"/>
<rect x="23.30" y="517.88" width="10.38" height="7.99" fill="#00BFC4"/>
<rect x="33.08" y="517.88" width="10.38" height="7.99" fill="#7CAE00"/>
<rect x="42.86" y="517.88" width="10.38" height="7.99" fill="#00BFC4"/>
<rect x="52.64" y="517.88" width="10.38" height="7.99" fill="#00BFC4"/>
<rect x="62.42" y="517.88" width="9.78" height="7.99" fill="#595959"/>
<rect x="23.30" y="525.27" width="10.38" height="7.99" fill="#7CAE00"/>
<rect x="33.08" y="525.27" width="10.38" height="7.99" fill="#00BFC4"/>
<rect x="42.86" y="525.27" width="10.38" height="7.99" fill="#00BFC4"/>
<rect x="52.64" y="525.27" width="10.38" height="7.99" fill="#00BFC4"/>
<rect x="62.42" y="525.27" width="9.78" height="7.99" fill="#F0F0F0"/>
<rect x="23.30" y="532.66" width="10.38" height="7.99" fill="#7CAE00"/>
<rect x="33.08" y="532.66" width="10.38" height="7.99" fill="#7CAE00"/>
<rect x="42.86" y="532.66" width="10.38" height="7.99" fill="#00BFC4"/>
<rect x="52.64" y="532.66" width="10.38" height="7.99" fill="#00BFC4"/>
<rect x="62.42" y="532.66" width="9.78" height="7.99" fill="#F0F0F0"/>
<rect x="23.30" y="540.05" width="10.38" height="7.99" fill="#F8766D"/>
<rect x="33.08" y="540.05" width="10.38" height="7.99" fill="#00BFC4"/>
<rect x="42.86" y="540.05" width="10.38" height="7.99" fill="#F8766D"/>
<rect x="52.64" y="540.05" width="10.38" height="7.99" fill="#F8766D"/>
<rect x="62.42" y="540.05" width="9.78" height="7.99" fill="#595959"/>
<rect x="23.30" y="547.44" width="10.38" height="7.99" fill="#F8766D"/>
<rect x="33.08" y="547.44" width="10.38" height="7.99" fill="#F8766D"/>
<rect x="42.86" y="547.44" width="10.38" height="7.99" fill="#F8766D"/>
<rect x="52.64" y="547.44" width="10.38" height="7.99" fill="#F8766D"/>
<rect x="62.42" y="547.44" width="9.78" height="7.99" fill="#595959"/>
<rect x="23.30" y="554.83" width="10.38" height="7.99" fill="#7CAE00"/>
<rect x="33.08" y="554.83" width="10.38" height="7.99" fill="#00BFC4"/>
<rect x="42.86" y="554.83" width="10.38" height="7.99" fill="#00BFC4"/>
<rect x="52.64" y="554.83" width="10.38" height="7.99" fill="#00BFC4"/>
<rect x="62.42" y="554.83" width="9.78" height="7.99" fill="#F0F0F0"/>
<rect x="23.30" y="562.22" width="10.38" height="7.99" fill="#00BFC4"/>
<rect x="33.08" y="562.22" width="10.38" height="7.99" fill="#00BFC4"/>
<rect x="42.86" y="562.22" width="10.38" height="7.99" fill="#00BFC4"/>
<rect x="52.64" y="562.22" width="10.38" height="7.99" fill="#00BFC4"/>
<rect x="62.42" y="562.22" width="9.78" height="7.99" fill="#F0F0F0"/>
<rect x="23.30" y="569.61" width="10.38" height="7.99" fill="#7CAE00"/>
<rect x="33.08" y="569.61" width="10.38" height="7.99" fill="#7CAE00"/>
<rect x="42.86" y="569.61" width="10.38" height="7.99" fill="#00BFC4"/>
<rect x="52.64" y="569.61" width="10.38" height="7.99" fill="#00BFC4"/>
<rect x="62.42" y="569.61" width="9.78" height="7.99" fill="#F0F0F0"/>
<rect x="23.30" y="577.00" width="10.38" height="7.99" fill="#7CAE00"/>
<rect x="33.08" y="577.00" width="10.38" height="7.99" fill="#00BFC4"/>
<rect x="42.86" y="577.00" width="10.38" height="7.99" fill="#7CAE00"/>
<rect x="52.64" y="577.00" width="10.38" height="7.99" fill="#7CAE00"/>
<rect x="62.42" y="577.00" width="9.78" height="7.99" fill="#F0F0F0"/>
<rect x="23.30" y="584.39" width="10.38" height="7.99" fill="#7CAE00"/>
<rect x="33.08" y="584.39" width="10.38" height="7.99" fill="#00BFC4"/>
<rect x="42.86" y="584.39" width="10.38" height="7.99" fill="#00BFC4"/>
<rect x="52.64" y="584.39" width="10.38" height="7.99" fill="#00BFC4"/>
<rect x="62.42" y="584.39" width="9.78" height="7.99" fill="#F0F0F0"/>
<rect x="23.30" y="591.78" width="10.38" height="7.99" fill="#7CAE00"/>
<rect x="33.08" y="591.78" width="10.38" height="7.99" fill="#00BFC4"/>
<rect x="42.86" y="591.78" width="10.38" height="7.99" fill="#7CAE00"/>
<rect x="52.64" y="591.78" width="10.38" height="7.99" fill="#7CAE00"/>
<rect x="62.42" y="591.78" width="9.78" height="7.99" fill="#F0F0F0"/>
<rect x="23.30" y="599.17" width="10.38" height="7.99" fill="#7CAE00"/>
<rect x="33.08" y="599.17" width="10.38" height="7.99" fill="#00BFC4"/>
<rect x="42.86" y="599.17" width="10.38" height="7.99" fill="#7CAE00"/>
<rect x="52.64" y="599.17" width="10.38" height="7.99" fill="#7CAE00"/>
<rect x="62.42" y="599.17" width="9.78" height="7.99" fill="#F0F0F0"/>
<rect x="23.30" y="606.56" width="10.38" height="7.39" fill="#7CAE00"/>
<rect x="33.08" y="606.56" width="10.38" height="7.39" fill="#00BFC4"/>
<rect x="42.86" y="606.56" width="10.38" height="7.39" fill="#7CAE00"/>
<rect x="52.64" y="606.56" width="10.38" height="7.39" fill="#7CAE00"/>
<rect x="62.42" y="606.56" width="9.78" height="7.39" fill="#F0F0F0"/>
<rect x="22.85" y="59.20" width="50.15" height="555.20" fill="none" stroke="#333333" stroke-width="1.3"/>
<line x1="28.10" y1="614.90" x2="28.10" y2="620.70" stroke="#333333" stroke-width="1"/>
<text x="31.80" y="625.20" font-size="10.6" text-anchor="end" transform="rotate(-90 31.80 625.20)">SNPs</text>
<line x1="37.60" y1="614.90" x2="37.60" y2="620.70" stroke="#333333" stroke-width="1"/>
<text x="41.30" y="625.20" font-size="10.6" text-anchor="end" transform="rotate(-90 41.30 625.20)">RNAseq</text>
<line x1="47.30" y1="614.90" x2="47.30" y2="620.70" stroke="#333333" stroke-width="1"/>
<text x="51.00" y="625.20" font-size="10.6" text-anchor="end" transform="rotate(-90 51.00 625.20)">CDK</text>
<line x1="57.20" y1="614.90" x2="57.20" y2="620.70" stroke="#333333" stroke-width="1"/>
<text x="60.90" y="625.20" font-size="10.6" text-anchor="end" transform="rotate(-90 60.90 625.20)">SIRMS</text>
<line x1="66.80" y1="614.90" x2="66.80" y2="620.70" stroke="#333333" stroke-width="1"/>
<text x="70.50" y="625.20" font-size="10.6" text-anchor="end" transform="rotate(-90 70.50 625.20)">Others</text>
<text x="48.10" y="43.00" font-size="9.5" text-anchor="middle">Input</text>
<text x="48.10" y="54.30" font-size="9.5" text-anchor="middle">data</text>
<rect x="80.20" y="59.70" width="9.40" height="7.99" fill="#595959"/>
<rect x="89.00" y="59.70" width="9.40" height="7.99" fill="#595959"/>
<rect x="97.80" y="59.70" width="9.40" height="7.99" fill="#F0F0F0"/>
<rect x="106.60" y="59.70" width="9.40" height="7.99" fill="#595959"/>
<rect x="115.40" y="59.70" width="9.40" height="7.99" fill="#F0F0F0"/>
<rect x="124.20" y="59.70" width="8.80" height="7.99" fill="#F0F0F0"/>
<rect x="80.20" y="67.09" width="9.40" height="7.99" fill="#F0F0F0"/>
<rect x="89.00" y="67.09" width="9.40" height="7.99" fill="#F0F0F0"/>
<rect x="97.80" y="67.09" width="9.40" height="7.99" fill="#F0F0F0"/>
<rect x="106.60" y="67.09" width="9.40" height="7.99" fill="#F0F0F0"/>
<rect x="115.40" y="67.09" width="9.40" height="7.99" fill="#595959"/>
<rect x="124.20" y="67.09" width="8.80" height="7.99" fill="#F0F0F0"/>
<rect x="80.20" y="74.48" width="9.40" height="7.99" fill="#595959"/>
<rect x="89.00" y="74.48" width="9.40" height="7.99" fill="#F0F0F0"/>
<rect x="97.80" y="74.48" width="9.40" height="7.99" fill="#F0F0F0"/>
<rect x="106.60" y="74.48" width="9.40" height="7.99" fill="#F0F0F0"/>
<rect x="115.40" y="74.48" width="9.40" height="7.99" fill="#F0F0F0"/>
<rect x="124.20" y="74.48" width="8.80" height="7.99" fill="#F0F0F0"/>
<rect x="80.20" y="81.87" width="9.40" height="7.99" fill="#595959"/>
<rect x="89.00" y="81.87" width="9.40" height="7.99" fill="#F0F0F0"/>
<rect x="97.80" y="81.87" width="9.40" height="7.99" fill="#F0F0F0"/>
<rect x="106.60" y="81.87" width="9.40" height="7.99" fill="#F0F0F0"/>
<rect x="115.40" y="81.87" width="9.40" height="7.99" fill="#F0F0F0"/>
<rect x="124.20" y="81.87" width="8.80" height="7.99" fill="#F0F0F0"/>
<rect x="80.20" y="89.26" width="9.40" height="7.99" fill="#595959"/>
<rect x="89.00" y="89.26" width="9.40" height="7.99" fill="#595959"/>
<rect x="97.80" y="89.26" width="9.40" height="7.99" fill="#F0F0F0"/>
<rect x="106.60" y="89.26" width="9.40" height="7.99" fill="#595959"/>
<rect x="115.40" y="89.26" width="9.40" height="7.99" fill="#F0F0F0"/>
<rect x="124.20" y="89.26" width="8.80" height="7.99" fill="#F0F0F0"/>
<rect x="80.20" y="96.65" width="9.40" height="7.99" fill="#F0F0F0"/>
<rect x="89.00" y="96.65" width="9.40" height="7.99" fill="#F0F0F0"/>
<rect x="97.80" y="96.65" width="9.40" height="7.99" fill="#F0F0F0"/>
<rect x="106.60" y="96.65" width="9.40" height="7.99" fill="#595959"/>
<rect x="115.40" y="96.65" width="9.40" height="7.99" fill="#F0F0F0"/>
<rect x="124.20" y="96.65" width="8.80" height="7.99" fill="#F0F0F0"/>
<rect x="80.20" y="104.04" width="9.40" height="7.99" fill="#595959"/>
<rect x="89.00" y="104.04" width="9.40" height="7.99" fill="#595959"/>
<rect x="97.80" y="104.04" width="9.40" height="7.99" fill="#F0F0F0"/>
<rect x="106.60" y="104.04" width="9.40" height="7.99" fill="#595959"/>
<rect x="115.40" y="104.04" width="9.40" height="7.99" fill="#F0F0F0"/>
<rect x="124.20" y="104.04" width="8.80" height="7.99" fill="#F0F0F0"/>
<rect x="80.20" y="111.43" width="9.40" height="7.99" fill="#595959"/>
<rect x="89.00" y="111.43" width="9.40" height="7.99" fill="#F0F0F0"/>
<rect x="97.80" y="111.43" width="9.40" height="7.99" fill="#F0F0F0"/>
<rect x="106.60" y="111.43" width="9.40" height="7.99" fill="#F0F0F0"/>
<rect x="115.40" y="111.43" width="9.40" height="7.99" fill="#F0F0F0"/>
<rect x="124.20" y="111.43" width="8.80" height="7.99" fill="#F0F0F0"/>
<rect x="80.20" y="118.82" width="9.40" height="7.99" fill="#595959"/>
<rect x="89.00" y="118.82" width="9.40" height="7.99" fill="#595959"/>
<rect x="97.80" y="118.82" width="9.40" height="7.99" fill="#F0F0F0"/>
<rect x="106.60" y="118.82" width="9.40" height="7.99" fill="#595959"/>
<rect x="115.40" y="118.82" width="9.40" height="7.99" fill="#F0F0F0"/>
<rect x="124.20" y="118.82" width="8.80" height="7.99" fill="#F0F0F0"/>
<rect x="80.20" y="126.21" width="9.40" height="7.99" fill="#595959"/>
<rect x="89.00" y="126.21" width="9.40" height="7.99" fill="#F0F0F0"/>
<rect x="97.80" y="126.21" width="9.40" height="7.99" fill="#F0F0F0"/>
<rect x="106.60" y="126.21" width="9.40" height="7.99" fill="#F0F0F0"/>
<rect x="115.40" y="126.21" width="9.40" height="7.99" fill="#F0F0F0"/>
<rect x="124.20" y="126.21" width="8.80" height="7.99" fill="#F0F0F0"/>
<rect x="80.20" y="133.60" width="9.40" height="7.99" fill="#F0F0F0"/>
<rect x="89.00" y="133.60" width="9.40" height="7.99" fill="#F0F0F0"/>
<rect x="97.80" y="133.60" width="9.40" height="7.99" fill="#F0F0F0"/>
<rect x="106.60" y="133.60" width="9.40" height="7.99" fill="#F0F0F0"/>
<rect x="115.40" y="133.60" width="9.40" height="7.99" fill="#595959"/>
<rect x="124.20" y="133.60" width="8.80" height="7.99" fill="#F0F0F0"/>
<rect x="80.20" y="140.99" width="9.40" height="7.99" fill="#595959"/>
<rect x="89.00" y="140.99" width="9.40" height="7.99" fill="#595959"/>
<rect x="97.80" y="140.99" width="9.40" height="7.99" fill="#F0F0F0"/>
<rect x="106.60" y="140.99" width="9.40" height="7.99" fill="#595959"/>
<rect x="115.40" y="140.99" width="9.40" height="7.99" fill="#F0F0F0"/>
<rect x="124.20" y="140.99" width="8.80" height="7.99" fill="#F0F0F0"/>
<rect x="80.20" y="148.38" width="9.40" height="7.99" fill="#F0F0F0"/>
<rect x="89.00" y="148.38" width="9.40" height="7.99" fill="#F0F0F0"/>
<rect x="97.80" y="148.38" width="9.40" height="7.99" fill="#F0F0F0"/>
<rect x="106.60" y="148.38" width="9.40" height="7.99" fill="#F0F0F0"/>
<rect x="115.40" y="148.38" width="9.40" height="7.99" fill="#595959"/>
<rect x="124.20" y="148.38" width="8.80" height="7.99" fill="#F0F0F0"/>
<rect x="80.20" y="155.77" width="9.40" height="7.99" fill="#595959"/>
<rect x="89.00" y="155.77" width="9.40" height="7.99" fill="#F0F0F0"/>
<rect x="97.80" y="155.77" width="9.40" height="7.99" fill="#F0F0F0"/>
<rect x="106.60" y="155.77" width="9.40" height="7.99" fill="#F0F0F0"/>
<rect x="115.40" y="155.77" width="9.40" height="7.99" fill="#F0F0F0"/>
<rect x="124.20" y="155.77" width="8.80" height="7.99" fill="#F0F0F0"/>
<rect x="80.20" y="163.16" width="9.40" height="7.99" fill="#595959"/>
<rect x="89.00" y="163.16" width="9.40" height="7.99" fill="#595959"/>
<rect x="97.80" y="163.16" width="9.40" height="7.99" fill="#F0F0F0"/>
<rect x="106.60" y="163.16" width="9.40" height="7.99" fill="#F0F0F0"/>
<rect x="115.40" y="163.16" width="9.40" height="7.99" fill="#F0F0F0"/>
<rect x="124.20" y="163.16" width="8.80" height="7.99" fill="#F0F0F0"/>
<rect x="80.20" y="170.55" width="9.40" height="7.99" fill="#595959"/>
<rect x="89.00" y="170.55" width="9.40" height="7.99" fill="#F0F0F0"/>
<rect x="97.80" y="170.55" width="9.40" height="7.99" fill="#F0F0F0"/>
<rect x="106.60" y="170.55" width="9.40" height="7.99" fill="#F0F0F0"/>
<rect x="115.40" y="170.55" width="9.40" height="7.99" fill="#F0F0F0"/>
<rect x="124.20" y="170.55" width="8.80" height="7.99" fill="#F0F0F0"/>
<rect x="80.20" y="177.94" width="9.40" height="7.99" fill="#F0F0F0"/>
<rect x="89.00" y="177.94" width="9.40" height="7.99" fill="#595959"/>
<rect x="97.80" y="177.94" width="9.40" height="7.99" fill="#F0F0F0"/>
<rect x="106.60" y="177.94" width="9.40" height="7.99" fill="#F0F0F0"/>
<rect x="115.40" y="177.94" width="9.40" height="7.99" fill="#F0F0F0"/>
<rect x="124.20" y="177.94" width="8.80" height="7.99" fill="#F0F0F0"/>
<rect x="80.20" y="185.33" width="9.40" height="7.99" fill="#595959"/>
<rect x="89.00" y="185.33" width="9.40" height="7.99" fill="#F0F0F0"/>
<rect x="97.80" y="185.33" width="9.40" height="7.99" fill="#F0F0F0"/>
<rect x="106.60" y="185.33" width="9.40" height="7.99" fill="#F0F0F0"/>
<rect x="115.40" y="185.33" width="9.40" height="7.99" fill="#F0F0F0"/>
<rect x="124.20" y="185.33" width="8.80" height="7.99" fill="#F0F0F0"/>
<rect x="80.20" y="192.72" width="9.40" height="7.99" fill="#595959"/>
<rect x="89.00" y="192.72" width="9.40" height="7.99" fill="#F0F0F0"/>
<rect x="97.80" y="192.72" width="9.40" height="7.99" fill="#F0F0F0"/>
<rect x="106.60" y="192.72" width="9.40" height="7.99" fill="#F0F0F0"/>
<rect x="115.40" y="192.72" width="9.40" height="7.99" fill="#F0F0F0"/>
<rect x="124.20" y="192.72" width="8.80" height="7.99" fill="#F0F0F0"/>
<rect x="80.20" y="200.11" width="9.40" height="7.99" fill="#595959"/>
<rect x="89.00" y="200.11" width="9.40" height="7.99" fill="#F0F0F0"/>
<rect x="97.80" y="200.11" width="9.40" height="7.99" fill="#F0F0F0"/>
<rect x="106.60" y="200.11" width="9.40" height="7.99" fill="#F0F0F0"/>
<rect x="115.40" y="200.11" width="9.40" height="7.99" fill="#F0F0F0"/>
<rect x="124.20" y="200.11" width="8.80" height="7.99" fill="#F0F0F0"/>
<rect x="80.20" y="207.50" width="9.40" height="7.99" fill="#595959"/>
<rect x="89.00" y="207.50" width="9.40" height="7.99" fill="#F0F0F0"/>
<rect x="97.80" y="207.50" width="9.40" height="7.99" fill="#F0F0F0"/>
<rect x="106.60" y="207.50" width="9.40" height="7.99" fill="#F0F0F0"/>
<rect x="115.40" y="207.50" width="9.40" height="7.99" fill="#F0F0F0"/>
<rect x="124.20" y="207.50" width="8.80" height="7.99" fill="#F0F0F0"/>
<rect x="80.20" y="214.89" width="9.40" height="7.99" fill="#595959"/>
<rect x="89.00" y="214.89" width="9.40" height="7.99" fill="#F0F0F0"/>
<rect x="97.80" y="214.89" width="9.40" height="7.99" fill="#F0F0F0"/>
<rect x="106.60" y="214.89" width="9.40" height="7.99" fill="#F0F0F0"/>
<rect x="115.40" y="214.89" width="9.40" height="7.99" fill="#F0F0F0"/>
<rect x="124.20" y="214.89" width="8.80" height="7.99" fill="#F0F0F0"/>
<rect x="80.20" y="222.28" width="9.40" height="7.99" fill="#595959"/>
<rect x="89.00" y="222.28" width="9.40" height="7.99" fill="#F0F0F0"/>
<rect x="97.80" y="222.28" width="9.40" height="7.99" fill="#F0F0F0"/>
<rect x="106.60" y="222.28" width="9.40" height="7.99" fill="#F0F0F0"/>
<rect x="115.40" y="222.28" width="9.40" height="7.99" fill="#F0F0F0"/>
<rect x="124.20" y="222.28" width="8.80" height="7.99" fill="#F0F0F0"/>
<rect x="80.20" y="229.67" width="9.40" height="7.99" fill="#595959"/>
<rect x="89.00" y="229.67" width="9.40" height="7.99" fill="#F0F0F0"/>
<rect x="97.80" y="229.67" width="9.40" height="7.99" fill="#F0F0F0"/>
<rect x="106.60" y="229.67" width="9.40" height="7.99" fill="#F0F0F0"/>
<rect x="115.40" y="229.67" width="9.40" height="7.99" fill="#F0F0F0"/>
<rect x="124.20" y="229.67" width="8.80" height="7.99" fill="#F0F0F0"/>
<rect x="80.20" y="237.06" width="9.40" height="7.99" fill="#595959"/>
<rect x="89.00" y="237.06" width="9.40" height="7.99" fill="#F0F0F0"/>
<rect x="97.80" y="237.06" width="9.40" height="7.99" fill="#F0F0F0"/>
<rect x="106.60" y="237.06" width="9.40" height="7.99" fill="#F0F0F0"/>
<rect x="115.40" y="237.06" width="9.40" height="7.99" fill="#F0F0F0"/>
<rect x="124.20" y="237.06" width="8.80" height="7.99" fill="#F0F0F0"/>
<rect x="80.20" y="244.45" width="9.40" height="7.99" fill="#595959"/>
<rect x="89.00" y="244.45" width="9.40" height="7.99" fill="#F0F0F0"/>
<rect x="97.80" y="244.45" width="9.40" height="7.99" fill="#F0F0F0"/>
<rect x="106.60" y="244.45" width="9.40" height="7.99" fill="#F0F0F0"/>
<rect x="115.40" y="244.45" width="9.40" height="7.99" fill="#F0F0F0"/>
<rect x="124.20" y="244.45" width="8.80" height="7.99" fill="#F0F0F0"/>
<rect x="80.20" y="251.84" width="9.40" height="7.99" fill="#595959"/>
<rect x="89.00" y="251.84" width="9.40" height="7.99" fill="#595959"/>
<rect x="97.80" y="251.84" width="9.40" height="7.99" fill="#F0F0F0"/>
<rect x="106.60" y="251.84" width="9.40" height="7.99" fill="#F0F0F0"/>
<rect x="115.40" y="251.84" width="9.40" height="7.99" fill="#F0F0F0"/>
<rect x="124.20" y="251.84" width="8.80" height="7.99" fill="#F0F0F0"/>
<rect x="80.20" y="259.23" width="9.40" height="7.99" fill="#595959"/>
<rect x="89.00" y="259.23" width="9.40" height="7.99" fill="#F0F0F0"/>
<rect x="97.80" y="259.23" width="9.40" height="7.99" fill="#F0F0F0"/>
<rect x="106.60" y="259.23" width="9.40" height="7.99" fill="#F0F0F0"/>
<rect x="115.40" y="259.23" width="9.40" height="7.99" fill="#F0F0F0"/>
<rect x="124.20" y="259.23" width="8.80" height="7.99" fill="#F0F0F0"/>
<rect x="80.20" y="266.62" width="9.40" height="7.99" fill="#F0F0F0"/>
<rect x="89.00" y="266.62" width="9.40" height="7.99" fill="#F0F0F0"/>
<rect x="97.80" y="266.62" width="9.40" height="7.99" fill="#F0F0F0"/>
<rect x="106.60" y="266.62" width="9.40" height="7.99" fill="#F0F0F0"/>
<rect x="115.40" y="266.62" width="9.40" height="7.99" fill="#595959"/>
<rect x="124.20" y="266.62" width="8.80" height="7.99" fill="#F0F0F0"/>
<rect x="80.20" y="274.01" width="9.40" height="7.99" fill="#595959"/>
<rect x="89.00" y="274.01" width="9.40" height="7.99" fill="#595959"/>
<rect x="97.80" y="274.01" width="9.40" height="7.99" fill="#F0F0F0"/>
<rect x="106.60" y="274.01" width="9.40" height="7.99" fill="#F0F0F0"/>
<rect x="115.40" y="274.01" width="9.40" height="7.99" fill="#F0F0F0"/>
<rect x="124.20" y="274.01" width="8.80" height="7.99" fill="#F0F0F0"/>
<rect x="80.20" y="281.40" width="9.40" height="7.99" fill="#595959"/>
<rect x="89.00" y="281.40" width="9.40" height="7.99" fill="#595959"/>
<rect x="97.80" y="281.40" width="9.40" height="7.99" fill="#F0F0F0"/>
<rect x="106.60" y="281.40" width="9.40" height="7.99" fill="#F0F0F0"/>
<rect x="115.40" y="281.40" width="9.40" height="7.99" fill="#F0F0F0"/>
<rect x="124.20" y="281.40" width="8.80" height="7.99" fill="#F0F0F0"/>
<rect x="80.20" y="288.79" width="9.40" height="7.99" fill="#595959"/>
<rect x="89.00" y="288.79" width="9.40" height="7.99" fill="#F0F0F0"/>
<rect x="97.80" y="288.79" width="9.40" height="7.99" fill="#F0F0F0"/>
<rect x="106.60" y="288.79" width="9.40" height="7.99" fill="#F0F0F0"/>
<rect x="115.40" y="288.79" width="9.40" height="7.99" fill="#F0F0F0"/>
<rect x="124.20" y="288.79" width="8.80" height="7.99" fill="#F0F0F0"/>
<rect x="80.20" y="296.18" width="9.40" height="7.99" fill="#595959"/>
<rect x="89.00" y="296.18" width="9.40" height="7.99" fill="#F0F0F0"/>
<rect x="97.80" y="296.18" width="9.40" height="7.99" fill="#F0F0F0"/>
<rect x="106.60" y="296.18" width="9.40" height="7.99" fill="#F0F0F0"/>
<rect x="115.40" y="296.18" width="9.40" height="7.99" fill="#F0F0F0"/>
<rect x="124.20" y="296.18" width="8.80" height="7.99" fill="#F0F0F0"/>
<rect x="80.20" y="303.57" width="9.40" height="7.99" fill="#F0F0F0"/>
<rect x="89.00" y="303.57" width="9.40" height="7.99" fill="#F0F0F0"/>
<rect x="97.80" y="303.57" width="9.40" height="7.99" fill="#F0F0F0"/>
<rect x="106.60" y="303.57" width="9.40" height="7.99" fill="#F0F0F0"/>
<rect x="115.40" y="303.57" width="9.40" height="7.99" fill="#F0F0F0"/>
<rect x="124.20" y="303.57" width="8.80" height="7.99" fill="#595959"/>
<rect x="80.20" y="310.96" width="9.40" height="7.99" fill="#595959"/>
<rect x="89.00" y="310.96" width="9.40" height="7.99" fill="#F0F0F0"/>
<rect x="97.80" y="310.96" width="9.40" height="7.99" fill="#F0F0F0"/>
<rect x="106.60" y="310.96" width="9.40" height="7.99" fill="#F0F0F0"/>
<rect x="115.40" y="310.96" width="9.40" height="7.99" fill="#F0F0F0"/>
<rect x="124.20" y="310.96" width="8.80" height="7.99" fill="#F0F0F0"/>
<rect x="80.20" y="318.35" width="9.40" height="7.99" fill="#595959"/>
<rect x="89.00" y="318.35" width="9.40" height="7.99" fill="#F0F0F0"/>
<rect x="97.80" y="318.35" width="9.40" height="7.99" fill="#F0F0F0"/>
<rect x="106.60" y="318.35" width="9.40" height="7.99" fill="#595959"/>
<rect x="115.40" y="318.35" width="9.40" height="7.99" fill="#F0F0F0"/>
<rect x="124.20" y="318.35" width="8.80" height="7.99" fill="#F0F0F0"/>
<rect x="80.20" y="325.74" width="9.40" height="7.99" fill="#595959"/>
<rect x="89.00" y="325.74" width="9.40" height="7.99" fill="#595959"/>
<rect x="97.80" y="325.74" width="9.40" height="7.99" fill="#F0F0F0"/>
<rect x="106.60" y="325.74" width="9.40" height="7.99" fill="#F0F0F0"/>
<rect x="115.40" y="325.74" width="9.40" height="7.99" fill="#F0F0F0"/>
<rect x="124.20" y="325.74" width="8.80" height="7.99" fill="#F0F0F0"/>
<rect x="80.20" y="333.13" width="9.40" height="7.99" fill="#595959"/>
<rect x="89.00" y="333.13" width="9.40" height="7.99" fill="#F0F0F0"/>
<rect x="97.80" y="333.13" width="9.40" height="7.99" fill="#F0F0F0"/>
<rect x="106.60" y="333.13" width="9.40" height="7.99" fill="#F0F0F0"/>
<rect x="115.40" y="333.13" width="9.40" height="7.99" fill="#F0F0F0"/>
<rect x="124.20" y="333.13" width="8.80" height="7.99" fill="#F0F0F0"/>
<rect x="80.20" y="340.52" width="9.40" height="7.99" fill="#595959"/>
<rect x="89.00" y="340.52" width="9.40" height="7.99" fill="#F0F0F0"/>
<rect x="97.80" y="340.52" width="9.40" height="7.99" fill="#F0F0F0"/>
<rect x="106.60" y="340.52" width="9.40" height="7.99" fill="#F0F0F0"/>
<rect x="115.40" y="340.52" width="9.40" height="7.99" fill="#F0F0F0"/>
<rect x="124.20" y="340.52" width="8.80" height="7.99" fill="#F0F0F0"/>
<rect x="80.20" y="347.91" width="9.40" height="7.99" fill="#595959"/>
<rect x="89.00" y="347.91" width="9.40" height="7.99" fill="#F0F0F0"/>
<rect x="97.80" y="347.91" width="9.40" height="7.99" fill="#F0F0F0"/>
<rect x="106.60" y="347.91" width="9.40" height="7.99" fill="#F0F0F0"/>
<rect x="115.40" y="347.91" width="9.40" height="7.99" fill="#F0F0F0"/>
<rect x="124.20" y="347.91" width="8.80" height="7.99" fill="#F0F0F0"/>
<rect x="80.20" y="355.30" width="9.40" height="7.99" fill="#595959"/>
<rect x="89.00" y="355.30" width="9.40" height="7.99" fill="#F0F0F0"/>
<rect x="97.80" y="355.30" width="9.40" height="7.99" fill="#F0F0F0"/>
<rect x="106.60" y="355.30" width="9.40" height="7.99" fill="#595959"/>
<rect x="115.40" y="355.30" width="9.40" height="7.99" fill="#F0F0F0"/>
<rect x="124.20" y="355.30" width="8.80" height="7.99" fill="#F0F0F0"/>
<rect x="80.20" y="362.69" width="9.40" height="7.99" fill="#595959"/>
<rect x="89.00" y="362.69" width="9.40" height="7.99" fill="#F0F0F0"/>
<rect x="97.80" y="362.69" width="9.40" height="7.99" fill="#F0F0F0"/>
<rect x="106.60" y="362.69" width="9.40" height="7.99" fill="#F0F0F0"/>
<rect x="115.40" y="362.69" width="9.40" height="7.99" fill="#F0F0F0"/>
<rect x="124.20" y="362.69" width="8.80" height="7.99" fill="#F0F0F0"/>
<rect x="80.20" y="370.08" width="9.40" height="7.99" fill="#F0F0F0"/>
<rect x="89.00" y="370.08" width="9.40" height="7.99" fill="#F0F0F0"/>
<rect x="97.80" y="370.08" width="9.40" height="7.99" fill="#595959"/>
<rect x="106.60" y="370.08" width="9.40" height="7.99" fill="#F0F0F0"/>
<rect x="115.40" y="370.08" width="9.40" height="7.99" fill="#F0F0F0"/>
<rect x="124.20" y="370.08" width="8.80" height="7.99" fill="#F0F0F0"/>
<rect x="80.20" y="377.47" width="9.40" height="7.99" fill="#595959"/>
<rect x="89.00" y="377.47" width="9.40" height="7.99" fill="#F0F0F0"/>
<rect x="97.80" y="377.47" width="9.40" height="7.99" fill="#F0F0F0"/>
<rect x="106.60" y="377.47" width="9.40" height="7.99" fill="#F0F0F0"/>
<rect x="115.40" y="377.47" width="9.40" height="7.99" fill="#F0F0F0"/>
<rect x="124.20" y="377.47" width="8.80" height="7.99" fill="#F0F0F0"/>
<rect x="80.20" y="384.86" width="9.40" height="7.99" fill="#595959"/>
<rect x="89.00" y="384.86" width="9.40" height="7.99" fill="#F0F0F0"/>
<rect x="97.80" y="384.86" width="9.40" height="7.99" fill="#F0F0F0"/>
<rect x="106.60" y="384.86" width="9.40" height="7.99" fill="#F0F0F0"/>
<rect x="115.40" y="384.86" width="9.40" height="7.99" fill="#F0F0F0"/>
<rect x="124.20" y="384.86" width="8.80" height="7.99" fill="#F0F0F0"/>
<rect x="80.20" y="392.25" width="9.40" height="7.99" fill="#595959"/>
<rect x="89.00" y="392.25" width="9.40" height="7.99" fill="#F0F0F0"/>
<rect x="97.80" y="392.25" width="9.40" height="7.99" fill="#F0F0F0"/>
<rect x="106.60" y="392.25" width="9.40" height="7.99" fill="#F0F0F0"/>
<rect x="115.40" y="392.25" width="9.40" height="7.99" fill="#F0F0F0"/>
<rect x="124.20" y="392.25" width="8.80" height="7.99" fill="#F0F0F0"/>
<rect x="80.20" y="399.64" width="9.40" height="7.99" fill="#595959"/>
<rect x="89.00" y="399.64" width="9.40" height="7.99" fill="#F0F0F0"/>
<rect x="97.80" y="399.64" width="9.40" height="7.99" fill="#F0F0F0"/>
<rect x="106.60" y="399.64" width="9.40" height="7.99" fill="#F0F0F0"/>
<rect x="115.40" y="399.64" width="9.40" height="7.99" fill="#F0F0F0"/>
<rect x="124.20" y="399.64" width="8.80" height="7.99" fill="#F0F0F0"/>
<rect x="80.20" y="407.03" width="9.40" height="7.99" fill="#595959"/>
<rect x="89.00" y="407.03" width="9.40" height="7.99" fill="#F0F0F0"/>
<rect x="97.80" y="407.03" width="9.40" height="7.99" fill="#F0F0F0"/>
<rect x="106.60" y="407.03" width="9.40" height="7.99" fill="#F0F0F0"/>
<rect x="115.40" y="407.03" width="9.40" height="7.99" fill="#F0F0F0"/>
<rect x="124.20" y="407.03" width="8.80" height="7.99" fill="#595959"/>
<rect x="80.20" y="414.42" width="9.40" height="7.99" fill="#595959"/>
<rect x="89.00" y="414.42" width="9.40" height="7.99" fill="#F0F0F0"/>
<rect x="97.80" y="414.42" width="9.40" height="7.99" fill="#F0F0F0"/>
<rect x="106.60" y="414.42" width="9.40" height="7.99" fill="#F0F0F0"/>
<rect x="115.40" y="414.42" width="9.40" height="7.99" fill="#F0F0F0"/>
<rect x="124.20" y="414.42" width="8.80" height="7.99" fill="#F0F0F0"/>
<rect x="80.20" y="421.81" width="9.40" height="7.99" fill="#595959"/>
<rect x="89.00" y="421.81" width="9.40" height="7.99" fill="#F0F0F0"/>
<rect x="97.80" y="421.81" width="9.40" height="7.99" fill="#F0F0F0"/>
<rect x="106.60" y="421.81" width="9.40" height="7.99" fill="#F0F0F0"/>
<rect x="115.40" y="421.81" width="9.40" height="7.99" fill="#F0F0F0"/>
<rect x="124.20" y="421.81" width="8.80" height="7.99" fill="#F0F0F0"/>
<rect x="80.20" y="429.20" width="9.40" height="7.99" fill="#595959"/>
<rect x="89.00" y="429.20" width="9.40" height="7.99" fill="#F0F0F0"/>
<rect x="97.80" y="429.20" width="9.40" height="7.99" fill="#F0F0F0"/>
<rect x="106.60" y="429.20" width="9.40" height="7.99" fill="#595959"/>
<rect x="115.40" y="429.20" width="9.40" height="7.99" fill="#F0F0F0"/>
<rect x="124.20" y="429.20" width="8.80" height="7.99" fill="#F0F0F0"/>
<rect x="80.20" y="436.59" width="9.40" height="7.99" fill="#F0F0F0"/>
<rect x="89.00" y="436.59" width="9.40" height="7.99" fill="#F0F0F0"/>
<rect x="97.80" y="436.59" width="9.40" height="7.99" fill="#F0F0F0"/>
<rect x="106.60" y="436.59" width="9.40" height="7.99" fill="#F0F0F0"/>
<rect x="115.40" y="436.59" width="9.40" height="7.99" fill="#595959"/>
<rect x="124.20" y="436.59" width="8.80" height="7.99" fill="#F0F0F0"/>
<rect x="80.20" y="443.98" width="9.40" height="7.99" fill="#595959"/>
<rect x="89.00" y="443.98" width="9.40" height="7.99" fill="#F0F0F0"/>
<rect x="97.80" y="443.98" width="9.40" height="7.99" fill="#F0F0F0"/>
<rect x="106.60" y="443.98" width="9.40" height="7.99" fill="#F0F0F0"/>
<rect x="115.40" y="443.98" width="9.40" height="7.99" fill="#F0F0F0"/>
<rect x="124.20" y="443.98" width="8.80" height="7.99" fill="#F0F0F0"/>
<rect x="80.20" y="451.37" width="9.40" height="7.99" fill="#595959"/>
<rect x="89.00" y="451.37" width="9.40" height="7.99" fill="#F0F0F0"/>
<rect x="97.80" y="451.37" width="9.40" height="7.99" fill="#F0F0F0"/>
<rect x="106.60" y="451.37" width="9.40" height="7.99" fill="#F0F0F0"/>
<rect x="115.40" y="451.37" width="9.40" height="7.99" fill="#F0F0F0"/>
<rect x="124.20" y="451.37" width="8.80" height="7.99" fill="#F0F0F0"/>
<rect x="80.20" y="458.76" width="9.40" height="7.99" fill="#595959"/>
<rect x="89.00" y="458.76" width="9.40" height="7.99" fill="#F0F0F0"/>
<rect x="97.80" y="458.76" width="9.40" height="7.99" fill="#F0F0F0"/>
<rect x="106.60" y="458.76" width="9.40" height="7.99" fill="#F0F0F0"/>
<rect x="115.40" y="458.76" width="9.40" height="7.99" fill="#F0F0F0"/>
<rect x="124.20" y="458.76" width="8.80" height="7.99" fill="#F0F0F0"/>
<rect x="80.20" y="466.15" width="9.40" height="7.99" fill="#595959"/>
<rect x="89.00" y="466.15" width="9.40" height="7.99" fill="#F0F0F0"/>
<rect x="97.80" y="466.15" width="9.40" height="7.99" fill="#F0F0F0"/>
<rect x="106.60" y="466.15" width="9.40" height="7.99" fill="#F0F0F0"/>
<rect x="115.40" y="466.15" width="9.40" height="7.99" fill="#F0F0F0"/>
<rect x="124.20" y="466.15" width="8.80" height="7.99" fill="#595959"/>
<rect x="80.20" y="473.54" width="9.40" height="7.99" fill="#595959"/>
<rect x="89.00" y="473.54" width="9.40" height="7.99" fill="#F0F0F0"/>
<rect x="97.80" y="473.54" width="9.40" height="7.99" fill="#F0F0F0"/>
<rect x="106.60" y="473.54" width="9.40" height="7.99" fill="#F0F0F0"/>
<rect x="115.40" y="473.54" width="9.40" height="7.99" fill="#F0F0F0"/>
<rect x="124.20" y="473.54" width="8.80" height="7.99" fill="#F0F0F0"/>
<rect x="80.20" y="480.93" width="9.40" height="7.99" fill="#595959"/>
<rect x="89.00" y="480.93" width="9.40" height="7.99" fill="#F0F0F0"/>
<rect x="97.80" y="480.93" width="9.40" height="7.99" fill="#F0F0F0"/>
<rect x="106.60" y="480.93" width="9.40" height="7.99" fill="#F0F0F0"/>
<rect x="115.40" y="480.93" width="9.40" height="7.99" fill="#F0F0F0"/>
<rect x="124.20" y="480.93" width="8.80" height="7.99" fill="#F0F0F0"/>
<rect x="80.20" y="488.32" width="9.40" height="7.99" fill="#595959"/>
<rect x="89.00" y="488.32" width="9.40" height="7.99" fill="#595959"/>
<rect x="97.80" y="488.32" width="9.40" height="7.99" fill="#F0F0F0"/>
<rect x="106.60" y="488.32" width="9.40" height="7.99" fill="#F0F0F0"/>
<rect x="115.40" y="488.32" width="9.40" height="7.99" fill="#F0F0F0"/>
<rect x="124.20" y="488.32" width="8.80" height="7.99" fill="#F0F0F0"/>
<rect x="80.20" y="495.71" width="9.40" height="7.99" fill="#F0F0F0"/>
<rect x="89.00" y="495.71" width="9.40" height="7.99" fill="#F0F0F0"/>
<rect x="97.80" y="495.71" width="9.40" height="7.99" fill="#F0F0F0"/>
<rect x="106.60" y="495.71" width="9.40" height="7.99" fill="#F0F0F0"/>
<rect x="115.40" y="495.71" width="9.40" height="7.99" fill="#595959"/>
<rect x="124.20" y="495.71" width="8.80" height="7.99" fill="#F0F0F0"/>
<rect x="80.20" y="503.10" width="9.40" height="7.99" fill="#595959"/>
<rect x="89.00" y="503.10" width="9.40" height="7.99" fill="#F0F0F0"/>
<rect x="97.80" y="503.10" width="9.40" height="7.99" fill="#F0F0F0"/>
<rect x="106.60" y="503.10" width="9.40" height="7.99" fill="#595959"/>
<rect x="115.40" y="503.10" width="9.40" height="7.99" fill="#F0F0F0"/>
<rect x="124.20" y="503.10" width="8.80" height="7.99" fill="#F0F0F0"/>
<rect x="80.20" y="510.49" width="9.40" height="7.99" fill="#595959"/>
<rect x="89.00" y="510.49" width="9.40" height="7.99" fill="#F0F0F0"/>
<rect x="97.80" y="510.49" width="9.40" height="7.99" fill="#F0F0F0"/>
<rect x="106.60" y="510.49" width="9.40" height="7.99" fill="#595959"/>
<rect x="115.40" y="510.49" width="9.40" height="7.99" fill="#F0F0F0"/>
<rect x="124.20" y="510.49" width="8.80" height="7.99" fill="#F0F0F0"/>
<rect x="80.20" y="517.88" width="9.40" height="7.99" fill="#595959"/>
<rect x="89.00" y="517.88" width="9.40" height="7.99" fill="#F0F0F0"/>
<rect x="97.80" y="517.88" width="9.40" height="7.99" fill="#F0F0F0"/>
<rect x="106.60" y="517.88" width="9.40" height="7.99" fill="#F0F0F0"/>
<rect x="115.40" y="517.88" width="9.40" height="7.99" fill="#F0F0F0"/>
<rect x="124.20" y="517.88" width="8.80" height="7.99" fill="#F0F0F0"/>
<rect x="80.20" y="525.27" width="9.40" height="7.99" fill="#F0F0F0"/>
<rect x="89.00" y="525.27" width="9.40" height="7.99" fill="#F0F0F0"/>
<rect x="97.80" y="525.27" width="9.40" height="7.99" fill="#F0F0F0"/>
<rect x="106.60" y="525.27" width="9.40" height="7.99" fill="#F0F0F0"/>
<rect x="115.40" y="525.27" width="9.40" height="7.99" fill="#595959"/>
<rect x="124.20" y="525.27" width="8.80" height="7.99" fill="#F0F0F0"/>
<rect x="80.20" y="532.66" width="9.40" height="7.99" fill="#F0F0F0"/>
<rect x="89.00" y="532.66" width="9.40" height="7.99" fill="#F0F0F0"/>
<rect x="97.80" y="532.66" width="9.40" height="7.99" fill="#F0F0F0"/>
<rect x="106.60" y="532.66" width="9.40" height="7.99" fill="#F0F0F0"/>
<rect x="115.40" y="532.66" width="9.40" height="7.99" fill="#F0F0F0"/>
<rect x="124.20" y="532.66" width="8.80" height="7.99" fill="#595959"/>
<rect x="80.20" y="540.05" width="9.40" height="7.99" fill="#F0F0F0"/>
<rect x="89.00" y="540.05" width="9.40" height="7.99" fill="#F0F0F0"/>
<rect x="97.80" y="540.05" width="9.40" height="7.99" fill="#F0F0F0"/>
<rect x="106.60" y="540.05" width="9.40" height="7.99" fill="#F0F0F0"/>
<rect x="115.40" y="540.05" width="9.40" height="7.99" fill="#595959"/>
<rect x="124.20" y="540.05" width="8.80" height="7.99" fill="#F0F0F0"/>
<rect x="80.20" y="547.44" width="9.40" height="7.99" fill="#F0F0F0"/>
<rect x="89.00" y="547.44" width="9.40" height="7.99" fill="#F0F0F0"/>
<rect x="97.80" y="547.44" width="9.40" height="7.99" fill="#F0F0F0"/>
<rect x="106.60" y="547.44" width="9.40" height="7.99" fill="#F0F0F0"/>
<rect x="115.40" y="547.44" width="9.40" height="7.99" fill="#595959"/>
<rect x="124.20" y="547.44" width="8.80" height="7.99" fill="#F0F0F0"/>
<rect x="80.20" y="554.83" width="9.40" height="7.99" fill="#595959"/>
<rect x="89.00" y="554.83" width="9.40" height="7.99" fill="#F0F0F0"/>
<rect x="97.80" y="554.83" width="9.40" height="7.99" fill="#F0F0F0"/>
<rect x="106.60" y="554.83" width="9.40" height="7.99" fill="#F0F0F0"/>
<rect x="115.40" y="554.83" width="9.40" height="7.99" fill="#F0F0F0"/>
<rect x="124.20" y="554.83" width="8.80" height="7.99" fill="#F0F0F0"/>
<rect x="80.20" y="562.22" width="9.40" height="7.99" fill="#F0F0F0"/>
<rect x="89.00" y="562.22" width="9.40" height="7.99" fill="#F0F0F0"/>
<rect x="97.80" y="562.22" width="9.40" height="7.99" fill="#F0F0F0"/>
<rect x="106.60" y="562.22" width="9.40" height="7.99" fill="#F0F0F0"/>
<rect x="115.40" y="562.22" width="9.40" height="7.99" fill="#595959"/>
<rect x="124.20" y="562.22" width="8.80" height="7.99" fill="#F0F0F0"/>
<rect x="80.20" y="569.61" width="9.40" height="7.99" fill="#595959"/>
<rect x="89.00" y="569.61" width="9.40" height="7.99" fill="#F0F0F0"/>
<rect x="97.80" y="569.61" width="9.40" height="7.99" fill="#F0F0F0"/>
<rect x="106.60" y="569.61" width="9.40" height="7.99" fill="#F0F0F0"/>
<rect x="115.40" y="569.61" width="9.40" height="7.99" fill="#F0F0F0"/>
<rect x="124.20" y="569.61" width="8.80" height="7.99" fill="#F0F0F0"/>
<rect x="80.20" y="577.00" width="9.40" height="7.99" fill="#595959"/>
<rect x="89.00" y="577.00" width="9.40" height="7.99" fill="#595959"/>
<rect x="97.80" y="577.00" width="9.40" height="7.99" fill="#F0F0F0"/>
<rect x="106.60" y="577.00" width="9.40" height="7.99" fill="#F0F0F0"/>
<rect x="115.40" y="577.00" width="9.40" height="7.99" fill="#F0F0F0"/>
<rect x="124.20" y="577.00" width="8.80" height="7.99" fill="#F0F0F0"/>
<rect x="80.20" y="584.39" width="9.40" height="7.99" fill="#595959"/>
<rect x="89.00" y="584.39" width="9.40" height="7.99" fill="#F0F0F0"/>
<rect x="97.80" y="584.39" width="9.40" height="7.99" fill="#F0F0F0"/>
<rect x="106.60" y="584.39" width="9.40" height="7.99" fill="#F0F0F0"/>
<rect x="115.40" y="584.39" width="9.40" height="7.99" fill="#F0F0F0"/>
<rect x="124.20" y="584.39" width="8.80" height="7.99" fill="#F0F0F0"/>
<rect x="80.20" y="591.78" width="9.40" height="7.99" fill="#595959"/>
<rect x="89.00" y="591.78" width="9.40" height="7.99" fill="#595959"/>
<rect x="97.80" y="591.78" width="9.40" height="7.99" fill="#F0F0F0"/>
<rect x="106.60" y="591.78" width="9.40" height="7.99" fill="#F0F0F0"/>
<rect x="115.40" y="591.78" width="9.40" height="7.99" fill="#F0F0F0"/>
<rect x="124.20" y="591.78" width="8.80" height="7.99" fill="#F0F0F0"/>
<rect x="80.20" y="599.17" width="9.40" height="7.99" fill="#595959"/>
<rect x="89.00" y="599.17" width="9.40" height="7.99" fill="#595959"/>
<rect x="97.80" y="599.17" width="9.40" height="7.99" fill="#F0F0F0"/>
<rect x="106.60" y="599.17" width="9.40" height="7.99" fill="#F0F0F0"/>
<rect x="115.40" y="599.17" width="9.40" height="7.99" fill="#F0F0F0"/>
<rect x="124.20" y="599.17" width="8.80" height="7.99" fill="#F0F0F0"/>
<rect x="80.20" y="606.56" width="9.40" height="7.39" fill="#595959"/>
<rect x="89.00" y="606.56" width="9.40" height="7.39" fill="#595959"/>
<rect x="97.80" y="606.56" width="9.40" height="7.39" fill="#F0F0F0"/>
<rect x="106.60" y="606.56" width="9.40" height="7.39" fill="#F0F0F0"/>
<rect x="115.40" y="606.56" width="9.40" height="7.39" fill="#F0F0F0"/>
<rect x="124.20" y="606.56" width="8.80" height="7.39" fill="#F0F0F0"/>
<rect x="79.60" y="59.20" width="54.10" height="555.20" fill="none" stroke="#333333" stroke-width="1.3"/>
<line x1="84.00" y1="614.90" x2="84.00" y2="620.70" stroke="#333333" stroke-width="1"/>
<text x="87.00" y="625.20" font-size="10.6" text-anchor="end" transform="rotate(-90 87.00 625.20)">Feature selection</text>
<line x1="93.20" y1="614.90" x2="93.20" y2="620.70" stroke="#333333" stroke-width="1"/>
<text x="96.20" y="625.20" font-size="10.6" text-anchor="end" transform="rotate(-90 96.20 625.20)">Linear dimensionality reduction</text>
<line x1="102.10" y1="614.90" x2="102.10" y2="620.70" stroke="#333333" stroke-width="1"/>
<text x="105.10" y="625.20" font-size="10.6" text-anchor="end" transform="rotate(-90 105.10 625.20)">Clustering analysis</text>
<line x1="110.90" y1="614.90" x2="110.90" y2="620.70" stroke="#333333" stroke-width="1"/>
<text x="113.90" y="625.20" font-size="10.6" text-anchor="end" transform="rotate(-90 113.90 625.20)">Non-linear dimensionality reduction</text>
<line x1="119.80" y1="614.90" x2="119.80" y2="620.70" stroke="#333333" stroke-width="1"/>
<text x="122.80" y="625.20" font-size="10.6" text-anchor="end" transform="rotate(-90 122.80 625.20)">No dimension reduction</text>
<line x1="128.70" y1="614.90" x2="128.70" y2="620.70" stroke="#333333" stroke-width="1"/>
<text x="131.70" y="625.20" font-size="10.6" text-anchor="end" transform="rotate(-90 131.70 625.20)">Others</text>
<text x="106.60" y="43.00" font-size="9.5" text-anchor="middle">Data</text>
<text x="106.60" y="54.30" font-size="9.5" text-anchor="middle">reduction</text>
<rect x="140.50" y="59.70" width="9.90" height="7.99" fill="#F0F0F0"/>
<rect x="149.80" y="59.70" width="9.90" height="7.99" fill="#F0F0F0"/>
<rect x="159.10" y="59.70" width="9.90" height="7.99" fill="#F0F0F0"/>
<rect x="168.40" y="59.70" width="9.90" height="7.99" fill="#F0F0F0"/>
<rect x="177.70" y="59.70" width="9.90" height="7.99" fill="#595959"/>
<rect x="187.00" y="59.70" width="9.30" height="7.99" fill="#F0F0F0"/>
<rect x="140.50" y="67.09" width="9.90" height="7.99" fill="#595959"/>
<rect x="149.80" y="67.09" width="9.90" height="7.99" fill="#F0F0F0"/>
<rect x="159.10" y="67.09" width="9.90" height="7.99" fill="#F0F0F0"/>
<rect x="168.40" y="67.09" width="9.90" height="7.99" fill="#F0F0F0"/>
<rect x="177.70" y="67.09" width="9.90" height="7.99" fill="#F0F0F0"/>
<rect x="187.00" y="67.09" width="9.30" height="7.99" fill="#F0F0F0"/>
<rect x="140.50" y="74.48" width="9.90" height="7.99" fill="#F0F0F0"/>
<rect x="149.80" y="74.48" width="9.90" height="7.99" fill="#595959"/>
<rect x="159.10" y="74.48" width="9.90" height="7.99" fill="#F0F0F0"/>
<rect x="168.40" y="74.48" width="9.90" height="7.99" fill="#F0F0F0"/>
<rect x="177.70" y="74.48" width="9.90" height="7.99" fill="#F0F0F0"/>
<rect x="187.00" y="74.48" width="9.30" height="7.99" fill="#F0F0F0"/>
<rect x="140.50" y="81.87" width="9.90" height="7.99" fill="#F0F0F0"/>
<rect x="149.80" y="81.87" width="9.90" height="7.99" fill="#F0F0F0"/>
<rect x="159.10" y="81.87" width="9.90" height="7.99" fill="#F0F0F0"/>
<rect x="168.40" y="81.87" width="9.90" height="7.99" fill="#F0F0F0"/>
<rect x="177.70" y="81.87" width="9.90" height="7.99" fill="#F0F0F0"/>
<rect x="187.00" y="81.87" width="9.30" height="7.99" fill="#595959"/>
<rect x="140.50" y="89.26" width="9.90" height="7.99" fill="#F0F0F0"/>
<rect x="149.80" y="89.26" width="9.90" height="7.99" fill="#F0F0F0"/>
<rect x="159.10" y="89.26" width="9.90" height="7.99" fill="#F0F0F0"/>
<rect x="168.40" y="89.26" width="9.90" height="7.99" fill="#F0F0F0"/>
<rect x="177.70" y="89.26" width="9.90" height="7.99" fill="#595959"/>
<rect x="187.00" y="89.26" width="9.30" height="7.99" fill="#F0F0F0"/>
<rect x="140.50" y="96.65" width="9.90" height="7.99" fill="#F0F0F0"/>
<rect x="149.80" y="96.65" width="9.90" height="7.99" fill="#F0F0F0"/>
<rect x="159.10" y="96.65" width="9.90" height="7.99" fill="#F0F0F0"/>
<rect x="168.40" y="96.65" width="9.90" height="7.99" fill="#F0F0F0"/>
<rect x="177.70" y="96.65" width="9.90" height="7.99" fill="#595959"/>
<rect x="187.00" y="96.65" width="9.30" height="7.99" fill="#F0F0F0"/>
<rect x="140.50" y="104.04" width="9.90" height="7.99" fill="#F0F0F0"/>
<rect x="149.80" y="104.04" width="9.90" height="7.99" fill="#F0F0F0"/>
<rect x="159.10" y="104.04" width="9.90" height="7.99" fill="#F0F0F0"/>
<rect x="168.40" y="104.04" width="9.90" height="7.99" fill="#F0F0F0"/>
<rect x="177.70" y="104.04" width="9.90" height="7.99" fill="#595959"/>
<rect x="187.00" y="104.04" width="9.30" height="7.99" fill="#F0F0F0"/>
<rect x="140.50" y="111.43" width="9.90" height="7.99" fill="#F0F0F0"/>
<rect x="149.80" y="111.43" width="9.90" height="7.99" fill="#F0F0F0"/>
<rect x="159.10" y="111.43" width="9.90" height="7.99" fill="#F0F0F0"/>
<rect x="168.40" y="111.43" width="9.90" height="7.99" fill="#F0F0F0"/>
<rect x="177.70" y="111.43" width="9.90" height="7.99" fill="#F0F0F0"/>
<rect x="187.00" y="111.43" width="9.30" height="7.99" fill="#595959"/>
<rect x="140.50" y="118.82" width="9.90" height="7.99" fill="#F0F0F0"/>
<rect x="149.80" y="118.82" width="9.90" height="7.99" fill="#F0F0F0"/>
<rect x="159.10" y="118.82" width="9.90" height="7.99" fill="#F0F0F0"/>
<rect x="168.40" y="118.82" width="9.90" height="7.99" fill="#F0F0F0"/>
<rect x="177.70" y="118.82" width="9.90" height="7.99" fill="#595959"/>
<rect x="187.00" y="118.82" width="9.30" height="7.99" fill="#F0F0F0"/>
<rect x="140.50" y="126.21" width="9.90" height="7.99" fill="#F0F0F0"/>
<rect x="149.80" y="126.21" width="9.90" height="7.99" fill="#F0F0F0"/>
<rect x="159.10" y="126.21" width="9.90" height="7.99" fill="#F0F0F0"/>
<rect x="168.40" y="126.21" width="9.90" height="7.99" fill="#F0F0F0"/>
<rect x="177.70" y="126.21" width="9.90" height="7.99" fill="#F0F0F0"/>
<rect x="187.00" y="126.21" width="9.30" height="7.99" fill="#595959"/>
<rect x="140.50" y="133.60" width="9.90" height="7.99" fill="#F0F0F0"/>
<rect x="149.80" y="133.60" width="9.90" height="7.99" fill="#F0F0F0"/>
<rect x="159.10" y="133.60" width="9.90" height="7.99" fill="#F0F0F0"/>
<rect x="168.40" y="133.60" width="9.90" height="7.99" fill="#F0F0F0"/>
<rect x="177.70" y="133.60" width="9.90" height="7.99" fill="#595959"/>
<rect x="187.00" y="133.60" width="9.30" height="7.99" fill="#F0F0F0"/>
<rect x="140.50" y="140.99" width="9.90" height="7.99" fill="#F0F0F0"/>
<rect x="149.80" y="140.99" width="9.90" height="7.99" fill="#F0F0F0"/>
<rect x="159.10" y="140.99" width="9.90" height="7.99" fill="#F0F0F0"/>
<rect x="168.40" y="140.99" width="9.90" height="7.99" fill="#F0F0F0"/>
<rect x="177.70" y="140.99" width="9.90" height="7.99" fill="#595959"/>
<rect x="187.00" y="140.99" width="9.30" height="7.99" fill="#F0F0F0"/>
<rect x="140.50" y="148.38" width="9.90" height="7.99" fill="#595959"/>
<rect x="149.80" y="148.38" width="9.90" height="7.99" fill="#F0F0F0"/>
<rect x="159.10" y="148.38" width="9.90" height="7.99" fill="#F0F0F0"/>
<rect x="168.40" y="148.38" width="9.90" height="7.99" fill="#F0F0F0"/>
<rect x="177.70" y="148.38" width="9.90" height="7.99" fill="#F0F0F0"/>
<rect x="187.00" y="148.38" width="9.30" height="7.99" fill="#F0F0F0"/>
<rect x="140.50" y="155.77" width="9.90" height="7.99" fill="#F0F0F0"/>
<rect x="149.80" y="155.77" width="9.90" height="7.99" fill="#F0F0F0"/>
<rect x="159.10" y="155.77" width="9.90" height="7.99" fill="#F0F0F0"/>
<rect x="168.40" y="155.77" width="9.90" height="7.99" fill="#F0F0F0"/>
<rect x="177.70" y="155.77" width="9.90" height="7.99" fill="#595959"/>
<rect x="187.00" y="155.77" width="9.30" height="7.99" fill="#F0F0F0"/>
<rect x="140.50" y="163.16" width="9.90" height="7.99" fill="#F0F0F0"/>
<rect x="149.80" y="163.16" width="9.90" height="7.99" fill="#F0F0F0"/>
<rect x="159.10" y="163.16" width="9.90" height="7.99" fill="#F0F0F0"/>
<rect x="168.40" y="163.16" width="9.90" height="7.99" fill="#F0F0F0"/>
<rect x="177.70" y="163.16" width="9.90" height="7.99" fill="#F0F0F0"/>
<rect x="187.00" y="163.16" width="9.30" height="7.99" fill="#595959"/>
<rect x="140.50" y="170.55" width="9.90" height="7.99" fill="#F0F0F0"/>
<rect x="149.80" y="170.55" width="9.90" height="7.99" fill="#F0F0F0"/>
<rect x="159.10" y="170.55" width="9.90" height="7.99" fill="#F0F0F0"/>
<rect x="168.40" y="170.55" width="9.90" height="7.99" fill="#F0F0F0"/>
<rect x="177.70" y="170.55" width="9.90" height="7.99" fill="#F0F0F0"/>
<rect x="187.00" y="170.55" width="9.30" height="7.99" fill="#595959"/>
<rect x="140.50" y="177.94" width="9.90" height="7.99" fill="#595959"/>
<rect x="149.80" y="177.94" width="9.90" height="7.99" fill="#F0F0F0"/>
<rect x="159.10" y="177.94" width="9.90" height="7.99" fill="#F0F0F0"/>
<rect x="168.40" y="177.94" width="9.90" height="7.99" fill="#F0F0F0"/>
<rect x="177.70" y="177.94" width="9.90" height="7.99" fill="#F0F0F0"/>
<rect x="187.00" y="177.94" width="9.30" height="7.99" fill="#F0F0F0"/>
<rect x="140.50" y="185.33" width="9.90" height="7.99" fill="#F0F0F0"/>
<rect x="149.80" y="185.33" width="9.90" height="7.99" fill="#595959"/>
<rect x="159.10" y="185.33" width="9.90" height="7.99" fill="#F0F0F0"/>
<rect x="168.40" y="185.33" width="9.90" height="7.99" fill="#F0F0F0"/>
<rect x="177.70" y="185.33" width="9.90" height="7.99" fill="#F0F0F0"/>
<rect x="187.00" y="185.33" width="9.30" height="7.99" fill="#F0F0F0"/>
<rect x="140.50" y="192.72" width="9.90" height="7.99" fill="#F0F0F0"/>
<rect x="149.80" y="192.72" width="9.90" height="7.99" fill="#F0F0F0"/>
<rect x="159.10" y="192.72" width="9.90" height="7.99" fill="#F0F0F0"/>
<rect x="168.40" y="192.72" width="9.90" height="7.99" fill="#F0F0F0"/>
<rect x="177.70" y="192.72" width="9.90" height="7.99" fill="#595959"/>
<rect x="187.00" y="192.72" width="9.30" height="7.99" fill="#F0F0F0"/>
<rect x="140.50" y="200.11" width="9.90" height="7.99" fill="#F0F0F0"/>
<rect x="149.80" y="200.11" width="9.90" height="7.99" fill="#F0F0F0"/>
<rect x="159.10" y="200.11" width="9.90" height="7.99" fill="#F0F0F0"/>
<rect x="168.40" y="200.11" width="9.90" height="7.99" fill="#F0F0F0"/>
<rect x="177.70" y="200.11" width="9.90" height="7.99" fill="#595959"/>
<rect x="187.00" y="200.11" width="9.30" height="7.99" fill="#F0F0F0"/>
<rect x="140.50" y="207.50" width="9.90" height="7.99" fill="#F0F0F0"/>
<rect x="149.80" y="207.50" width="9.90" height="7.99" fill="#F0F0F0"/>
<rect x="159.10" y="207.50" width="9.90" height="7.99" fill="#F0F0F0"/>
<rect x="168.40" y="207.50" width="9.90" height="7.99" fill="#F0F0F0"/>
<rect x="177.70" y="207.50" width="9.90" height="7.99" fill="#595959"/>
<rect x="187.00" y="207.50" width="9.30" height="7.99" fill="#F0F0F0"/>
<rect x="140.50" y="214.89" width="9.90" height="7.99" fill="#F0F0F0"/>
<rect x="149.80" y="214.89" width="9.90" height="7.99" fill="#F0F0F0"/>
<rect x="159.10" y="214.89" width="9.90" height="7.99" fill="#F0F0F0"/>
<rect x="168.40" y="214.89" width="9.90" height="7.99" fill="#F0F0F0"/>
<rect x="177.70" y="214.89" width="9.90" height="7.99" fill="#595959"/>
<rect x="187.00" y="214.89" width="9.30" height="7.99" fill="#F0F0F0"/>
<rect x="140.50" y="222.28" width="9.90" height="7.99" fill="#F0F0F0"/>
<rect x="149.80" y="222.28" width="9.90" height="7.99" fill="#F0F0F0"/>
<rect x="159.10" y="222.28" width="9.90" height="7.99" fill="#595959"/>
<rect x="168.40" y="222.28" width="9.90" height="7.99" fill="#F0F0F0"/>
<rect x="177.70" y="222.28" width="9.90" height="7.99" fill="#F0F0F0"/>
<rect x="187.00" y="222.28" width="9.30" height="7.99" fill="#F0F0F0"/>
<rect x="140.50" y="229.67" width="9.90" height="7.99" fill="#F0F0F0"/>
<rect x="149.80" y="229.67" width="9.90" height="7.99" fill="#F0F0F0"/>
<rect x="159.10" y="229.67" width="9.90" height="7.99" fill="#F0F0F0"/>
<rect x="168.40" y="229.67" width="9.90" height="7.99" fill="#F0F0F0"/>
<rect x="177.70" y="229.67" width="9.90" height="7.99" fill="#F0F0F0"/>
<rect x="187.00" y="229.67" width="9.30" height="7.99" fill="#595959"/>
<rect x="140.50" y="237.06" width="9.90" height="7.99" fill="#595959"/>
<rect x="149.80" y="237.06" width="9.90" height="7.99" fill="#F0F0F0"/>
<rect x="159.10" y="237.06" width="9.90" height="7.99" fill="#F0F0F0"/>
<rect x="168.40" y="237.06" width="9.90" height="7.99" fill="#F0F0F0"/>
<rect x="177.70" y="237.06" width="9.90" height="7.99" fill="#F0F0F0"/>
<rect x="187.00" y="237.06" width="9.30" height="7.99" fill="#F0F0F0"/>
<rect x="140.50" y="244.45" width="9.90" height="7.99" fill="#F0F0F0"/>
<rect x="149.80" y="244.45" width="9.90" height="7.99" fill="#F0F0F0"/>
<rect x="159.10" y="244.45" width="9.90" height="7.99" fill="#F0F0F0"/>
<rect x="168.40" y="244.45" width="9.90" height="7.99" fill="#F0F0F0"/>
<rect x="177.70" y="244.45" width="9.90" height="7.99" fill="#595959"/>
<rect x="187.00" y="244.45" width="9.30" height="7.99" fill="#F0F0F0"/>
<rect x="140.50" y="251.84" width="9.90" height="7.99" fill="#F0F0F0"/>
<rect x="149.80" y="251.84" width="9.90" height="7.99" fill="#F0F0F0"/>
<rect x="159.10" y="251.84" width="9.90" height="7.99" fill="#F0F0F0"/>
<rect x="168.40" y="251.84" width="9.90" height="7.99" fill="#595959"/>
<rect x="177.70" y="251.84" width="9.90" height="7.99" fill="#F0F0F0"/>
<rect x="187.00" y="251.84" width="9.30" height="7.99" fill="#F0F0F0"/>
<rect x="140.50" y="259.23" width="9.90" height="7.99" fill="#F0F0F0"/>
<rect x="149.80" y="259.23" width="9.90" height="7.99" fill="#F0F0F0"/>
<rect x="159.10" y="259.23" width="9.90" height="7.99" fill="#F0F0F0"/>
<rect x="168.40" y="259.23" width="9.90" height="7.99" fill="#F0F0F0"/>
<rect x="177.70" y="259.23" width="9.90" height="7.99" fill="#595959"/>
<rect x="187.00" y="259.23" width="9.30" height="7.99" fill="#F0F0F0"/>
<rect x="140.50" y="266.62" width="9.90" height="7.99" fill="#F0F0F0"/>
<rect x="149.80" y="266.62" width="9.90" height="7.99" fill="#F0F0F0"/>
<rect x="159.10" y="266.62" width="9.90" height="7.99" fill="#F0F0F0"/>
<rect x="168.40" y="266.62" width="9.90" height="7.99" fill="#F0F0F0"/>
<rect x="177.70" y="266.62" width="9.90" height="7.99" fill="#595959"/>
<rect x="187.00" y="266.62" width="9.30" height="7.99" fill="#F0F0F0"/>
<rect x="140.50" y="274.01" width="9.90" height="7.99" fill="#F0F0F0"/>
<rect x="149.80" y="274.01" width="9.90" height="7.99" fill="#F0F0F0"/>
<rect x="159.10" y="274.01" width="9.90" height="7.99" fill="#F0F0F0"/>
<rect x="168.40" y="274.01" width="9.90" height="7.99" fill="#F0F0F0"/>
<rect x="177.70" y="274.01" width="9.90" height="7.99" fill="#595959"/>
<rect x="187.00" y="274.01" width="9.30" height="7.99" fill="#F0F0F0"/>
<rect x="140.50" y="281.40" width="9.90" height="7.99" fill="#F0F0F0"/>
<rect x="149.80" y="281.40" width="9.90" height="7.99" fill="#F0F0F0"/>
<rect x="159.10" y="281.40" width="9.90" height="7.99" fill="#F0F0F0"/>
<rect x="168.40" y="281.40" width="9.90" height="7.99" fill="#F0F0F0"/>
<rect x="177.70" y="281.40" width="9.90" height="7.99" fill="#595959"/>
<rect x="187.00" y="281.40" width="9.30" height="7.99" fill="#F0F0F0"/>
<rect x="140.50" y="288.79" width="9.90" height="7.99" fill="#F0F0F0"/>
<rect x="149.80" y="288.79" width="9.90" height="7.99" fill="#F0F0F0"/>
<rect x="159.10" y="288.79" width="9.90" height="7.99" fill="#F0F0F0"/>
<rect x="168.40" y="288.79" width="9.90" height="7.99" fill="#F0F0F0"/>
<rect x="177.70" y="288.79" width="9.90" height="7.99" fill="#595959"/>
<rect x="187.00" y="288.79" width="9.30" height="7.99" fill="#F0F0F0"/>
<rect x="140.50" y="296.18" width="9.90" height="7.99" fill="#F0F0F0"/>
<rect x="149.80" y="296.18" width="9.90" height="7.99" fill="#F0F0F0"/>
<rect x="159.10" y="296.18" width="9.90" height="7.99" fill="#F0F0F0"/>
<rect x="168.40" y="296.18" width="9.90" height="7.99" fill="#F0F0F0"/>
<rect x="177.70" y="296.18" width="9.90" height="7.99" fill="#595959"/>
<rect x="187.00" y="296.18" width="9.30" height="7.99" fill="#F0F0F0"/>
<rect x="140.50" y="303.57" width="9.90" height="7.99" fill="#F0F0F0"/>
<rect x="149.80" y="303.57" width="9.90" height="7.99" fill="#F0F0F0"/>
<rect x="159.10" y="303.57" width="9.90" height="7.99" fill="#F0F0F0"/>
<rect x="168.40" y="303.57" width="9.90" height="7.99" fill="#F0F0F0"/>
<rect x="177.70" y="303.57" width="9.90" height="7.99" fill="#F0F0F0"/>
<rect x="187.00" y="303.57" width="9.30" height="7.99" fill="#595959"/>
<rect x="140.50" y="310.96" width="9.90" height="7.99" fill="#F0F0F0"/>
<rect x="149.80" y="310.96" width="9.90" height="7.99" fill="#F0F0F0"/>
<rect x="159.10" y="310.96" width="9.90" height="7.99" fill="#595959"/>
<rect x="168.40" y="310.96" width="9.90" height="7.99" fill="#F0F0F0"/>
<rect x="177.70" y="310.96" width="9.90" height="7.99" fill="#F0F0F0"/>
<rect x="187.00" y="310.96" width="9.30" height="7.99" fill="#F0F0F0"/>
<rect x="140.50" y="318.35" width="9.90" height="7.99" fill="#F0F0F0"/>
<rect x="149.80" y="318.35" width="9.90" height="7.99" fill="#F0F0F0"/>
<rect x="159.10" y="318.35" width="9.90" height="7.99" fill="#F0F0F0"/>
<rect x="168.40" y="318.35" width="9.90" height="7.99" fill="#F0F0F0"/>
<rect x="177.70" y="318.35" width="9.90" height="7.99" fill="#595959"/>
<rect x="187.00" y="318.35" width="9.30" height="7.99" fill="#F0F0F0"/>
<rect x="140.50" y="325.74" width="9.90" height="7.99" fill="#595959"/>
<rect x="149.80" y="325.74" width="9.90" height="7.99" fill="#F0F0F0"/>
<rect x="159.10" y="325.74" width="9.90" height="7.99" fill="#F0F0F0"/>
<rect x="168.40" y="325.74" width="9.90" height="7.99" fill="#F0F0F0"/>
<rect x="177.70" y="325.74" width="9.90" height="7.99" fill="#F0F0F0"/>
<rect x="187.00" y="325.74" width="9.30" height="7.99" fill="#F0F0F0"/>
<rect x="140.50" y="333.13" width="9.90" height="7.99" fill="#F0F0F0"/>
<rect x="149.80" y="333.13" width="9.90" height="7.99" fill="#F0F0F0"/>
<rect x="159.10" y="333.13" width="9.90" height="7.99" fill="#595959"/>
<rect x="168.40" y="333.13" width="9.90" height="7.99" fill="#F0F0F0"/>
<rect x="177.70" y="333.13" width="9.90" height="7.99" fill="#F0F0F0"/>
<rect x="187.00" y="333.13" width="9.30" height="7.99" fill="#F0F0F0"/>
<rect x="140.50" y="340.52" width="9.90" height="7.99" fill="#F0F0F0"/>
<rect x="149.80" y="340.52" width="9.90" height="7.99" fill="#F0F0F0"/>
<rect x="159.10" y="340.52" width="9.90" height="7.99" fill="#595959"/>
<rect x="168.40" y="340.52" width="9.90" height="7.99" fill="#F0F0F0"/>
<rect x="177.70" y="340.52" width="9.90" height="7.99" fill="#F0F0F0"/>
<rect x="187.00" y="340.52" width="9.30" height="7.99" fill="#F0F0F0"/>
<rect x="140.50" y="347.91" width="9.90" height="7.99" fill="#595959"/>
<rect x="149.80" y="347.91" width="9.90" height="7.99" fill="#F0F0F0"/>
<rect x="159.10" y="347.91" width="9.90" height="7.99" fill="#F0F0F0"/>
<rect x="168.40" y="347.91" width="9.90" height="7.99" fill="#F0F0F0"/>
<rect x="177.70" y="347.91" width="9.90" height="7.99" fill="#F0F0F0"/>
<rect x="187.00" y="347.91" width="9.30" height="7.99" fill="#F0F0F0"/>
<rect x="140.50" y="355.30" width="9.90" height="7.99" fill="#F0F0F0"/>
<rect x="149.80" y="355.30" width="9.90" height="7.99" fill="#F0F0F0"/>
<rect x="159.10" y="355.30" width="9.90" height="7.99" fill="#F0F0F0"/>
<rect x="168.40" y="355.30" width="9.90" height="7.99" fill="#F0F0F0"/>
<rect x="177.70" y="355.30" width="9.90" height="7.99" fill="#595959"/>
<rect x="187.00" y="355.30" width="9.30" height="7.99" fill="#F0F0F0"/>
<rect x="140.50" y="362.69" width="9.90" height="7.99" fill="#595959"/>
<rect x="149.80" y="362.69" width="9.90" height="7.99" fill="#F0F0F0"/>
<rect x="159.10" y="362.69" width="9.90" height="7.99" fill="#F0F0F0"/>
<rect x="168.40" y="362.69" width="9.90" height="7.99" fill="#F0F0F0"/>
<rect x="177.70" y="362.69" width="9.90" height="7.99" fill="#F0F0F0"/>
<rect x="187.00" y="362.69" width="9.30" height="7.99" fill="#F0F0F0"/>
<rect x="140.50" y="370.08" width="9.90" height="7.99" fill="#F0F0F0"/>
<rect x="149.80" y="370.08" width="9.90" height="7.99" fill="#595959"/>
<rect x="159.10" y="370.08" width="9.90" height="7.99" fill="#F0F0F0"/>
<rect x="168.40" y="370.08" width="9.90" height="7.99" fill="#F0F0F0"/>
<rect x="177.70" y="370.08" width="9.90" height="7.99" fill="#F0F0F0"/>
<rect x="187.00" y="370.08" width="9.30" height="7.99" fill="#F0F0F0"/>
<rect x="140.50" y="377.47" width="9.90" height="7.99" fill="#F0F0F0"/>
<rect x="149.80" y="377.47" width="9.90" height="7.99" fill="#595959"/>
<rect x="159.10" y="377.47" width="9.90" height="7.99" fill="#F0F0F0"/>
<rect x="168.40" y="377.47" width="9.90" height="7.99" fill="#F0F0F0"/>
<rect x="177.70" y="377.47" width="9.90" height="7.99" fill="#F0F0F0"/>
<rect x="187.00" y="377.47" width="9.30" height="7.99" fill="#F0F0F0"/>
<rect x="140.50" y="384.86" width="9.90" height="7.99" fill="#F0F0F0"/>
<rect x="149.80" y="384.86" width="9.90" height="7.99" fill="#F0F0F0"/>
<rect x="159.10" y="384.86" width="9.90" height="7.99" fill="#F0F0F0"/>
<rect x="168.40" y="384.86" width="9.90" height="7.99" fill="#F0F0F0"/>
<rect x="177.70" y="384.86" width="9.90" height="7.99" fill="#595959"/>
<rect x="187.00" y="384.86" width="9.30" height="7.99" fill="#F0F0F0"/>
<rect x="140.50" y="392.25" width="9.90" height="7.99" fill="#595959"/>
<rect x="149.80" y="392.25" width="9.90" height="7.99" fill="#F0F0F0"/>
<rect x="159.10" y="392.25" width="9.90" height="7.99" fill="#F0F0F0"/>
<rect x="168.40" y="392.25" width="9.90" height="7.99" fill="#F0F0F0"/>
<rect x="177.70" y="392.25" width="9.90" height="7.99" fill="#F0F0F0"/>
<rect x="187.00" y="392.25" width="9.30" height="7.99" fill="#F0F0F0"/>
<rect x="140.50" y="399.64" width="9.90" height="7.99" fill="#F0F0F0"/>
<rect x="149.80" y="399.64" width="9.90" height="7.99" fill="#F0F0F0"/>
<rect x="159.10" y="399.64" width="9.90" height="7.99" fill="#595959"/>
<rect x="168.40" y="399.64" width="9.90" height="7.99" fill="#F0F0F0"/>
<rect x="177.70" y="399.64" width="9.90" height="7.99" fill="#F0F0F0"/>
<rect x="187.00" y="399.64" width="9.30" height="7.99" fill="#F0F0F0"/>
<rect x="140.50" y="407.03" width="9.90" height="7.99" fill="#F0F0F0"/>
<rect x="149.80" y="407.03" width="9.90" height="7.99" fill="#F0F0F0"/>
<rect x="159.10" y="407.03" width="9.90" height="7.99" fill="#F0F0F0"/>
<rect x="168.40" y="407.03" width="9.90" height="7.99" fill="#F0F0F0"/>
<rect x="177.70" y="407.03" width="9.90" height="7.99" fill="#F0F0F0"/>
<rect x="187.00" y="407.03" width="9.30" height="7.99" fill="#595959"/>
<rect x="140.50" y="414.42" width="9.90" height="7.99" fill="#595959"/>
<rect x="149.80" y="414.42" width="9.90" height="7.99" fill="#F0F0F0"/>
<rect x="159.10" y="414.42" width="9.90" height="7.99" fill="#F0F0F0"/>
<rect x="168.40" y="414.42" width="9.90" height="7.99" fill="#F0F0F0"/>
<rect x="177.70" y="414.42" width="9.90" height="7.99" fill="#F0F0F0"/>
<rect x="187.00" y="414.42" width="9.30" height="7.99" fill="#F0F0F0"/>
<rect x="140.50" y="421.81" width="9.90" height="7.99" fill="#F0F0F0"/>
<rect x="149.80" y="421.81" width="9.90" height="7.99" fill="#F0F0F0"/>
<rect x="159.10" y="421.81" width="9.90" height="7.99" fill="#F0F0F0"/>
<rect x="168.40" y="421.81" width="9.90" height="7.99" fill="#F0F0F0"/>
<rect x="177.70" y="421.81" width="9.90" height="7.99" fill="#F0F0F0"/>
<rect x="187.00" y="421.81" width="9.30" height="7.99" fill="#595959"/>
<rect x="140.50" y="429.20" width="9.90" height="7.99" fill="#F0F0F0"/>
<rect x="149.80" y="429.20" width="9.90" height="7.99" fill="#F0F0F0"/>
<rect x="159.10" y="429.20" width="9.90" height="7.99" fill="#F0F0F0"/>
<rect x="168.40" y="429.20" width="9.90" height="7.99" fill="#F0F0F0"/>
<rect x="177.70" y="429.20" width="9.90" height="7.99" fill="#595959"/>
<rect x="187.00" y="429.20" width="9.30" height="7.99" fill="#F0F0F0"/>
<rect x="140.50" y="436.59" width="9.90" height="7.99" fill="#595959"/>
<rect x="149.80" y="436.59" width="9.90" height="7.99" fill="#F0F0F0"/>
<rect x="159.10" y="436.59" width="9.90" height="7.99" fill="#F0F0F0"/>
<rect x="168.40" y="436.59" width="9.90" height="7.99" fill="#F0F0F0"/>
<rect x="177.70" y="436.59" width="9.90" height="7.99" fill="#F0F0F0"/>
<rect x="187.00" y="436.59" width="9.30" height="7.99" fill="#F0F0F0"/>
<rect x="140.50" y="443.98" width="9.90" height="7.99" fill="#595959"/>
<rect x="149.80" y="443.98" width="9.90" height="7.99" fill="#F0F0F0"/>
<rect x="159.10" y="443.98" width="9.90" height="7.99" fill="#F0F0F0"/>
<rect x="168.40" y="443.98" width="9.90" height="7.99" fill="#F0F0F0"/>
<rect x="177.70" y="443.98" width="9.90" height="7.99" fill="#F0F0F0"/>
<rect x="187.00" y="443.98" width="9.30" height="7.99" fill="#F0F0F0"/>
<rect x="140.50" y="451.37" width="9.90" height="7.99" fill="#F0F0F0"/>
<rect x="149.80" y="451.37" width="9.90" height="7.99" fill="#F0F0F0"/>
<rect x="159.10" y="451.37" width="9.90" height="7.99" fill="#595959"/>
<rect x="168.40" y="451.37" width="9.90" height="7.99" fill="#F0F0F0"/>
<rect x="177.70" y="451.37" width="9.90" height="7.99" fill="#F0F0F0"/>
<rect x="187.00" y="451.37" width="9.30" height="7.99" fill="#F0F0F0"/>
<rect x="140.50" y="458.76" width="9.90" height="7.99" fill="#F0F0F0"/>
<rect x="149.80" y="458.76" width="9.90" height="7.99" fill="#595959"/>
<rect x="159.10" y="458.76" width="9.90" height="7.99" fill="#F0F0F0"/>
<rect x="168.40" y="458.76" width="9.90" height="7.99" fill="#F0F0F0"/>
<rect x="177.70" y="458.76" width="9.90" height="7.99" fill="#F0F0F0"/>
<rect x="187.00" y="458.76" width="9.30" height="7.99" fill="#F0F0F0"/>
<rect x="140.50" y="466.15" width="9.90" height="7.99" fill="#F0F0F0"/>
<rect x="149.80" y="466.15" width="9.90" height="7.99" fill="#F0F0F0"/>
<rect x="159.10" y="466.15" width="9.90" height="7.99" fill="#F0F0F0"/>
<rect x="168.40" y="466.15" width="9.90" height="7.99" fill="#F0F0F0"/>
<rect x="177.70" y="466.15" width="9.90" height="7.99" fill="#F0F0F0"/>
<rect x="187.00" y="466.15" width="9.30" height="7.99" fill="#595959"/>
<rect x="140.50" y="473.54" width="9.90" height="7.99" fill="#F0F0F0"/>
<rect x="149.80" y="473.54" width="9.90" height="7.99" fill="#F0F0F0"/>
<rect x="159.10" y="473.54" width="9.90" height="7.99" fill="#595959"/>
<rect x="168.40" y="473.54" width="9.90" height="7.99" fill="#F0F0F0"/>
<rect x="177.70" y="473.54" width="9.90" height="7.99" fill="#F0F0F0"/>
<rect x="187.00" y="473.54" width="9.30" height="7.99" fill="#F0F0F0"/>
<rect x="140.50" y="480.93" width="9.90" height="7.99" fill="#595959"/>
<rect x="149.80" y="480.93" width="9.90" height="7.99" fill="#F0F0F0"/>
<rect x="159.10" y="480.93" width="9.90" height="7.99" fill="#F0F0F0"/>
<rect x="168.40" y="480.93" width="9.90" height="7.99" fill="#F0F0F0"/>
<rect x="177.70" y="480.93" width="9.90" height="7.99" fill="#F0F0F0"/>
<rect x="187.00" y="480.93" width="9.30" height="7.99" fill="#F0F0F0"/>
<rect x="140.50" y="488.32" width="9.90" height="7.99" fill="#F0F0F0"/>
<rect x="149.80" y="488.32" width="9.90" height="7.99" fill="#F0F0F0"/>
<rect x="159.10" y="488.32" width="9.90" height="7.99" fill="#F0F0F0"/>
<rect x="168.40" y="488.32" width="9.90" height="7.99" fill="#595959"/>
<rect x="177.70" y="488.32" width="9.90" height="7.99" fill="#F0F0F0"/>
<rect x="187.00" y="488.32" width="9.30" height="7.99" fill="#F0F0F0"/>
<rect x="140.50" y="495.71" width="9.90" height="7.99" fill="#595959"/>
<rect x="149.80" y="495.71" width="9.90" height="7.99" fill="#F0F0F0"/>
<rect x="159.10" y="495.71" width="9.90" height="7.99" fill="#F0F0F0"/>
<rect x="168.40" y="495.71" width="9.90" height="7.99" fill="#F0F0F0"/>
<rect x="177.70" y="495.71" width="9.90" height="7.99" fill="#F0F0F0"/>
<rect x="187.00" y="495.71" width="9.30" height="7.99" fill="#F0F0F0"/>
<rect x="140.50" y="503.10" width="9.90" height="7.99" fill="#F0F0F0"/>
<rect x="149.80" y="503.10" width="9.90" height="7.99" fill="#F0F0F0"/>
<rect x="159.10" y="503.10" width="9.90" height="7.99" fill="#F0F0F0"/>
<rect x="168.40" y="503.10" width="9.90" height="7.99" fill="#F0F0F0"/>
<rect x="177.70" y="503.10" width="9.90" height="7.99" fill="#595959"/>
<rect x="187.00" y="503.10" width="9.30" height="7.99" fill="#F0F0F0"/>
<rect x="140.50" y="510.49" width="9.90" height="7.99" fill="#F0F0F0"/>
<rect x="149.80" y="510.49" width="9.90" height="7.99" fill="#F0F0F0"/>
<rect x="159.10" y="510.49" width="9.90" height="7.99" fill="#F0F0F0"/>
<rect x="168.40" y="510.49" width="9.90" height="7.99" fill="#F0F0F0"/>
<rect x="177.70" y="510.49" width="9.90" height="7.99" fill="#595959"/>
<rect x="187.00" y="510.49" width="9.30" height="7.99" fill="#F0F0F0"/>
<rect x="140.50" y="517.88" width="9.90" height="7.99" fill="#F0F0F0"/>
<rect x="149.80" y="517.88" width="9.90" height="7.99" fill="#595959"/>
<rect x="159.10" y="517.88" width="9.90" height="7.99" fill="#F0F0F0"/>
<rect x="168.40" y="517.88" width="9.90" height="7.99" fill="#F0F0F0"/>
<rect x="177.70" y="517.88" width="9.90" height="7.99" fill="#F0F0F0"/>
<rect x="187.00" y="517.88" width="9.30" height="7.99" fill="#F0F0F0"/>
<rect x="140.50" y="525.27" width="9.90" height="7.99" fill="#595959"/>
<rect x="149.80" y="525.27" width="9.90" height="7.99" fill="#F0F0F0"/>
<rect x="159.10" y="525.27" width="9.90" height="7.99" fill="#F0F0F0"/>
<rect x="168.40" y="525.27" width="9.90" height="7.99" fill="#F0F0F0"/>
<rect x="177.70" y="525.27" width="9.90" height="7.99" fill="#F0F0F0"/>
<rect x="187.00" y="525.27" width="9.30" height="7.99" fill="#F0F0F0"/>
<rect x="140.50" y="532.66" width="9.90" height="7.99" fill="#F0F0F0"/>
<rect x="149.80" y="532.66" width="9.90" height="7.99" fill="#F0F0F0"/>
<rect x="159.10" y="532.66" width="9.90" height="7.99" fill="#F0F0F0"/>
<rect x="168.40" y="532.66" width="9.90" height="7.99" fill="#F0F0F0"/>
<rect x="177.70" y="532.66" width="9.90" height="7.99" fill="#F0F0F0"/>
<rect x="187.00" y="532.66" width="9.30" height="7.99" fill="#595959"/>
<rect x="140.50" y="540.05" width="9.90" height="7.99" fill="#595959"/>
<rect x="149.80" y="540.05" width="9.90" height="7.99" fill="#F0F0F0"/>
<rect x="159.10" y="540.05" width="9.90" height="7.99" fill="#F0F0F0"/>
<rect x="168.40" y="540.05" width="9.90" height="7.99" fill="#F0F0F0"/>
<rect x="177.70" y="540.05" width="9.90" height="7.99" fill="#F0F0F0"/>
<rect x="187.00" y="540.05" width="9.30" height="7.99" fill="#F0F0F0"/>
<rect x="140.50" y="547.44" width="9.90" height="7.99" fill="#595959"/>
<rect x="149.80" y="547.44" width="9.90" height="7.99" fill="#F0F0F0"/>
<rect x="159.10" y="547.44" width="9.90" height="7.99" fill="#F0F0F0"/>
<rect x="168.40" y="547.44" width="9.90" height="7.99" fill="#F0F0F0"/>
<rect x="177.70" y="547.44" width="9.90" height="7.99" fill="#F0F0F0"/>
<rect x="187.00" y="547.44" width="9.30" height="7.99" fill="#F0F0F0"/>
<rect x="140.50" y="554.83" width="9.90" height="7.99" fill="#595959"/>
<rect x="149.80" y="554.83" width="9.90" height="7.99" fill="#F0F0F0"/>
<rect x="159.10" y="554.83" width="9.90" height="7.99" fill="#F0F0F0"/>
<rect x="168.40" y="554.83" width="9.90" height="7.99" fill="#F0F0F0"/>
<rect x="177.70" y="554.83" width="9.90" height="7.99" fill="#F0F0F0"/>
<rect x="187.00" y="554.83" width="9.30" height="7.99" fill="#F0F0F0"/>
<rect x="140.50" y="562.22" width="9.90" height="7.99" fill="#F0F0F0"/>
<rect x="149.80" y="562.22" width="9.90" height="7.99" fill="#F0F0F0"/>
<rect x="159.10" y="562.22" width="9.90" height="7.99" fill="#F0F0F0"/>
<rect x="168.40" y="562.22" width="9.90" height="7.99" fill="#F0F0F0"/>
<rect x="177.70" y="562.22" width="9.90" height="7.99" fill="#F0F0F0"/>
<rect x="187.00" y="562.22" width="9.30" height="7.99" fill="#595959"/>
<rect x="140.50" y="569.61" width="9.90" height="7.99" fill="#F0F0F0"/>
<rect x="149.80" y="569.61" width="9.90" height="7.99" fill="#F0F0F0"/>
<rect x="159.10" y="569.61" width="9.90" height="7.99" fill="#F0F0F0"/>
<rect x="168.40" y="569.61" width="9.90" height="7.99" fill="#F0F0F0"/>
<rect x="177.70" y="569.61" width="9.90" height="7.99" fill="#F0F0F0"/>
<rect x="187.00" y="569.61" width="9.30" height="7.99" fill="#595959"/>
<rect x="140.50" y="577.00" width="9.90" height="7.99" fill="#F0F0F0"/>
<rect x="149.80" y="577.00" width="9.90" height="7.99" fill="#F0F0F0"/>
<rect x="159.10" y="577.00" width="9.90" height="7.99" fill="#F0F0F0"/>
<rect x="168.40" y="577.00" width="9.90" height="7.99" fill="#F0F0F0"/>
<rect x="177.70" y="577.00" width="9.90" height="7.99" fill="#F0F0F0"/>
<rect x="187.00" y="577.00" width="9.30" height="7.99" fill="#595959"/>
<rect x="140.50" y="584.39" width="9.90" height="7.99" fill="#F0F0F0"/>
<rect x="149.80" y="584.39" width="9.90" height="7.99" fill="#F0F0F0"/>
<rect x="159.10" y="584.39" width="9.90" height="7.99" fill="#F0F0F0"/>
<rect x="168.40" y="584.39" width="9.90" height="7.99" fill="#F0F0F0"/>
<rect x="177.70" y="584.39" width="9.90" height="7.99" fill="#595959"/>
<rect x="187.00" y="584.39" width="9.30" height="7.99" fill="#F0F0F0"/>
<rect x="140.50" y="591.78" width="9.90" height="7.99" fill="#F0F0F0"/>
<rect x="149.80" y="591.78" width="9.90" height="7.99" fill="#F0F0F0"/>
<rect x="159.10" y="591.78" width="9.90" height="7.99" fill="#F0F0F0"/>
<rect x="168.40" y="591.78" width="9.90" height="7.99" fill="#F0F0F0"/>
<rect x="177.70" y="591.78" width="9.90" height="7.99" fill="#F0F0F0"/>
<rect x="187.00" y="591.78" width="9.30" height="7.99" fill="#595959"/>
<rect x="140.50" y="599.17" width="9.90" height="7.99" fill="#F0F0F0"/>
<rect x="149.80" y="599.17" width="9.90" height="7.99" fill="#F0F0F0"/>
<rect x="159.10" y="599.17" width="9.90" height="7.99" fill="#F0F0F0"/>
<rect x="168.40" y="599.17" width="9.90" height="7.99" fill="#F0F0F0"/>
<rect x="177.70" y="599.17" width="9.90" height="7.99" fill="#F0F0F0"/>
<rect x="187.00" y="599.17" width="9.30" height="7.99" fill="#595959"/>
<rect x="140.50" y="606.56" width="9.90" height="7.39" fill="#F0F0F0"/>
<rect x="149.80" y="606.56" width="9.90" height="7.39" fill="#F0F0F0"/>
<rect x="159.10" y="606.56" width="9.90" height="7.39" fill="#F0F0F0"/>
<rect x="168.40" y="606.56" width="9.90" height="7.39" fill="#F0F0F0"/>
<rect x="177.70" y="606.56" width="9.90" height="7.39" fill="#F0F0F0"/>
<rect x="187.00" y="606.56" width="9.30" height="7.39" fill="#595959"/>
<rect x="139.50" y="59.20" width="57.80" height="555.20" fill="none" stroke="#333333" stroke-width="1.3"/>
<line x1="144.70" y1="614.90" x2="144.70" y2="620.70" stroke="#333333" stroke-width="1"/>
<text x="147.70" y="625.20" font-size="10.6" text-anchor="end" transform="rotate(-90 147.70 625.20)">Kernel method</text>
<line x1="154.15" y1="614.90" x2="154.15" y2="620.70" stroke="#333333" stroke-width="1"/>
<text x="157.15" y="625.20" font-size="10.6" text-anchor="end" transform="rotate(-90 157.15 625.20)">Nonlinear regression</text>
<line x1="163.50" y1="614.90" x2="163.50" y2="620.70" stroke="#333333" stroke-width="1"/>
<text x="166.50" y="625.20" font-size="10.6" text-anchor="end" transform="rotate(-90 166.50 625.20)">Sparse linear regression</text>
<line x1="172.85" y1="614.90" x2="172.85" y2="620.70" stroke="#333333" stroke-width="1"/>
<text x="175.85" y="625.20" font-size="10.6" text-anchor="end" transform="rotate(-90 175.85 625.20)">PLS or PC regression</text>
<line x1="182.20" y1="614.90" x2="182.20" y2="620.70" stroke="#333333" stroke-width="1"/>
<text x="185.20" y="625.20" font-size="10.6" text-anchor="end" transform="rotate(-90 185.20 625.20)">Ensemble</text>
<line x1="191.40" y1="614.90" x2="191.40" y2="620.70" stroke="#333333" stroke-width="1"/>
<text x="194.40" y="625.20" font-size="10.6" text-anchor="end" transform="rotate(-90 194.40 625.20)">Others</text>
<text x="170.60" y="43.00" font-size="9.5" text-anchor="middle">Prediction</text>
<text x="170.60" y="54.30" font-size="9.5" text-anchor="middle">algorithm</text>
<rect x="204.30" y="59.70" width="10.32" height="7.99" fill="#F0F0F0"/>
<rect x="214.02" y="59.70" width="10.32" height="7.99" fill="#F0F0F0"/>
<rect x="223.74" y="59.70" width="10.32" height="7.99" fill="#F0F0F0"/>
<rect x="233.46" y="59.70" width="10.32" height="7.99" fill="#F0F0F0"/>
<rect x="243.18" y="59.70" width="9.72" height="7.99" fill="#595959"/>
<rect x="204.30" y="67.09" width="10.32" height="7.99" fill="#F0F0F0"/>
<rect x="214.02" y="67.09" width="10.32" height="7.99" fill="#F0F0F0"/>
<rect x="223.74" y="67.09" width="10.32" height="7.99" fill="#595959"/>
<rect x="233.46" y="67.09" width="10.32" height="7.99" fill="#F0F0F0"/>
<rect x="243.18" y="67.09" width="9.72" height="7.99" fill="#F0F0F0"/>
<rect x="204.30" y="74.48" width="10.32" height="7.99" fill="#F0F0F0"/>
<rect x="214.02" y="74.48" width="10.32" height="7.99" fill="#F0F0F0"/>
<rect x="223.74" y="74.48" width="10.32" height="7.99" fill="#F0F0F0"/>
<rect x="233.46" y="74.48" width="10.32" height="7.99" fill="#F0F0F0"/>
<rect x="243.18" y="74.48" width="9.72" height="7.99" fill="#595959"/>
<rect x="204.30" y="81.87" width="10.32" height="7.99" fill="#595959"/>
<rect x="214.02" y="81.87" width="10.32" height="7.99" fill="#F0F0F0"/>
<rect x="223.74" y="81.87" width="10.32" height="7.99" fill="#F0F0F0"/>
<rect x="233.46" y="81.87" width="10.32" height="7.99" fill="#F0F0F0"/>
<rect x="243.18" y="81.87" width="9.72" height="7.99" fill="#F0F0F0"/>
<rect x="204.30" y="89.26" width="10.32" height="7.99" fill="#F0F0F0"/>
<rect x="214.02" y="89.26" width="10.32" height="7.99" fill="#F0F0F0"/>
<rect x="223.74" y="89.26" width="10.32" height="7.99" fill="#F0F0F0"/>
<rect x="233.46" y="89.26" width="10.32" height="7.99" fill="#F0F0F0"/>
<rect x="243.18" y="89.26" width="9.72" height="7.99" fill="#595959"/>
<rect x="204.30" y="96.65" width="10.32" height="7.99" fill="#F0F0F0"/>
<rect x="214.02" y="96.65" width="10.32" height="7.99" fill="#F0F0F0"/>
<rect x="223.74" y="96.65" width="10.32" height="7.99" fill="#F0F0F0"/>
<rect x="233.46" y="96.65" width="10.32" height="7.99" fill="#595959"/>
<rect x="243.18" y="96.65" width="9.72" height="7.99" fill="#F0F0F0"/>
<rect x="204.30" y="104.04" width="10.32" height="7.99" fill="#F0F0F0"/>
<rect x="214.02" y="104.04" width="10.32" height="7.99" fill="#F0F0F0"/>
<rect x="223.74" y="104.04" width="10.32" height="7.99" fill="#F0F0F0"/>
<rect x="233.46" y="104.04" width="10.32" height="7.99" fill="#F0F0F0"/>
<rect x="243.18" y="104.04" width="9.72" height="7.99" fill="#595959"/>
<rect x="204.30" y="111.43" width="10.32" height="7.99" fill="#F0F0F0"/>
<rect x="214.02" y="111.43" width="10.32" height="7.99" fill="#F0F0F0"/>
<rect x="223.74" y="111.43" width="10.32" height="7.99" fill="#F0F0F0"/>
<rect x="233.46" y="111.43" width="10.32" height="7.99" fill="#F0F0F0"/>
<rect x="243.18" y="111.43" width="9.72" height="7.99" fill="#595959"/>
<rect x="204.30" y="118.82" width="10.32" height="7.99" fill="#F0F0F0"/>
<rect x="214.02" y="118.82" width="10.32" height="7.99" fill="#F0F0F0"/>
<rect x="223.74" y="118.82" width="10.32" height="7.99" fill="#F0F0F0"/>
<rect x="233.46" y="118.82" width="10.32" height="7.99" fill="#F0F0F0"/>
<rect x="243.18" y="118.82" width="9.72" height="7.99" fill="#595959"/>
<rect x="204.30" y="126.21" width="10.32" height="7.99" fill="#595959"/>
<rect x="214.02" y="126.21" width="10.32" height="7.99" fill="#F0F0F0"/>
<rect x="223.74" y="126.21" width="10.32" height="7.99" fill="#F0F0F0"/>
<rect x="233.46" y="126.21" width="10.32" height="7.99" fill="#F0F0F0"/>
<rect x="243.18" y="126.21" width="9.72" height="7.99" fill="#F0F0F0"/>
<rect x="204.30" y="133.60" width="10.32" height="7.99" fill="#595959"/>
<rect x="214.02" y="133.60" width="10.32" height="7.99" fill="#F0F0F0"/>
<rect x="223.74" y="133.60" width="10.32" height="7.99" fill="#F0F0F0"/>
<rect x="233.46" y="133.60" width="10.32" height="7.99" fill="#F0F0F0"/>
<rect x="243.18" y="133.60" width="9.72" height="7.99" fill="#F0F0F0"/>
<rect x="204.30" y="140.99" width="10.32" height="7.99" fill="#F0F0F0"/>
<rect x="214.02" y="140.99" width="10.32" height="7.99" fill="#F0F0F0"/>
<rect x="223.74" y="140.99" width="10.32" height="7.99" fill="#F0F0F0"/>
<rect x="233.46" y="140.99" width="10.32" height="7.99" fill="#F0F0F0"/>
<rect x="243.18" y="140.99" width="9.72" height="7.99" fill="#595959"/>
<rect x="204.30" y="148.38" width="10.32" height="7.99" fill="#F0F0F0"/>
<rect x="214.02" y="148.38" width="10.32" height="7.99" fill="#F0F0F0"/>
<rect x="223.74" y="148.38" width="10.32" height="7.99" fill="#595959"/>
<rect x="233.46" y="148.38" width="10.32" height="7.99" fill="#F0F0F0"/>
<rect x="243.18" y="148.38" width="9.72" height="7.99" fill="#F0F0F0"/>
<rect x="204.30" y="155.77" width="10.32" height="7.99" fill="#F0F0F0"/>
<rect x="214.02" y="155.77" width="10.32" height="7.99" fill="#F0F0F0"/>
<rect x="223.74" y="155.77" width="10.32" height="7.99" fill="#F0F0F0"/>
<rect x="233.46" y="155.77" width="10.32" height="7.99" fill="#F0F0F0"/>
<rect x="243.18" y="155.77" width="9.72" height="7.99" fill="#595959"/>
<rect x="204.30" y="163.16" width="10.32" height="7.99" fill="#F0F0F0"/>
<rect x="214.02" y="163.16" width="10.32" height="7.99" fill="#F0F0F0"/>
<rect x="223.74" y="163.16" width="10.32" height="7.99" fill="#F0F0F0"/>
<rect x="233.46" y="163.16" width="10.32" height="7.99" fill="#F0F0F0"/>
<rect x="243.18" y="163.16" width="9.72" height="7.99" fill="#595959"/>
<rect x="204.30" y="170.55" width="10.32" height="7.99" fill="#F0F0F0"/>
<rect x="214.02" y="170.55" width="10.32" height="7.99" fill="#F0F0F0"/>
<rect x="223.74" y="170.55" width="10.32" height="7.99" fill="#F0F0F0"/>
<rect x="233.46" y="170.55" width="10.32" height="7.99" fill="#F0F0F0"/>
<rect x="243.18" y="170.55" width="9.72" height="7.99" fill="#595959"/>
<rect x="204.30" y="177.94" width="10.32" height="7.99" fill="#F0F0F0"/>
<rect x="214.02" y="177.94" width="10.32" height="7.99" fill="#F0F0F0"/>
<rect x="223.74" y="177.94" width="10.32" height="7.99" fill="#595959"/>
<rect x="233.46" y="177.94" width="10.32" height="7.99" fill="#F0F0F0"/>
<rect x="243.18" y="177.94" width="9.72" height="7.99" fill="#F0F0F0"/>
<rect x="204.30" y="185.33" width="10.32" height="7.99" fill="#F0F0F0"/>
<rect x="214.02" y="185.33" width="10.32" height="7.99" fill="#F0F0F0"/>
<rect x="223.74" y="185.33" width="10.32" height="7.99" fill="#F0F0F0"/>
<rect x="233.46" y="185.33" width="10.32" height="7.99" fill="#F0F0F0"/>
<rect x="243.18" y="185.33" width="9.72" height="7.99" fill="#595959"/>
<rect x="204.30" y="192.72" width="10.32" height="7.99" fill="#F0F0F0"/>
<rect x="214.02" y="192.72" width="10.32" height="7.99" fill="#F0F0F0"/>
<rect x="223.74" y="192.72" width="10.32" height="7.99" fill="#F0F0F0"/>
<rect x="233.46" y="192.72" width="10.32" height="7.99" fill="#F0F0F0"/>
<rect x="243.18" y="192.72" width="9.72" height="7.99" fill="#595959"/>
<rect x="204.30" y="200.11" width="10.32" height="7.99" fill="#F0F0F0"/>
<rect x="214.02" y="200.11" width="10.32" height="7.99" fill="#F0F0F0"/>
<rect x="223.74" y="200.11" width="10.32" height="7.99" fill="#F0F0F0"/>
<rect x="233.46" y="200.11" width="10.32" height="7.99" fill="#F0F0F0"/>
<rect x="243.18" y="200.11" width="9.72" height="7.99" fill="#595959"/>
<rect x="204.30" y="207.50" width="10.32" height="7.99" fill="#F0F0F0"/>
<rect x="214.02" y="207.50" width="10.32" height="7.99" fill="#F0F0F0"/>
<rect x="223.74" y="207.50" width="10.32" height="7.99" fill="#F0F0F0"/>
<rect x="233.46" y="207.50" width="10.32" height="7.99" fill="#F0F0F0"/>
<rect x="243.18" y="207.50" width="9.72" height="7.99" fill="#595959"/>
<rect x="204.30" y="214.89" width="10.32" height="7.99" fill="#F0F0F0"/>
<rect x="214.02" y="214.89" width="10.32" height="7.99" fill="#F0F0F0"/>
<rect x="223.74" y="214.89" width="10.32" height="7.99" fill="#F0F0F0"/>
<rect x="233.46" y="214.89" width="10.32" height="7.99" fill="#F0F0F0"/>
<rect x="243.18" y="214.89" width="9.72" height="7.99" fill="#595959"/>
<rect x="204.30" y="222.28" width="10.32" height="7.99" fill="#595959"/>
<rect x="214.02" y="222.28" width="10.32" height="7.99" fill="#F0F0F0"/>
<rect x="223.74" y="222.28" width="10.32" height="7.99" fill="#F0F0F0"/>
<rect x="233.46" y="222.28" width="10.32" height="7.99" fill="#F0F0F0"/>
<rect x="243.18" y="222.28" width="9.72" height="7.99" fill="#F0F0F0"/>
<rect x="204.30" y="229.67" width="10.32" height="7.99" fill="#595959"/>
<rect x="214.02" y="229.67" width="10.32" height="7.99" fill="#F0F0F0"/>
<rect x="223.74" y="229.67" width="10.32" height="7.99" fill="#F0F0F0"/>
<rect x="233.46" y="229.67" width="10.32" height="7.99" fill="#F0F0F0"/>
<rect x="243.18" y="229.67" width="9.72" height="7.99" fill="#F0F0F0"/>
<rect x="204.30" y="237.06" width="10.32" height="7.99" fill="#595959"/>
<rect x="214.02" y="237.06" width="10.32" height="7.99" fill="#F0F0F0"/>
<rect x="223.74" y="237.06" width="10.32" height="7.99" fill="#F0F0F0"/>
<rect x="233.46" y="237.06" width="10.32" height="7.99" fill="#F0F0F0"/>
<rect x="243.18" y="237.06" width="9.72" height="7.99" fill="#F0F0F0"/>
<rect x="204.30" y="244.45" width="10.32" height="7.99" fill="#F0F0F0"/>
<rect x="214.02" y="244.45" width="10.32" height="7.99" fill="#F0F0F0"/>
<rect x="223.74" y="244.45" width="10.32" height="7.99" fill="#F0F0F0"/>
<rect x="233.46" y="244.45" width="10.32" height="7.99" fill="#595959"/>
<rect x="243.18" y="244.45" width="9.72" height="7.99" fill="#F0F0F0"/>
<rect x="204.30" y="251.84" width="10.32" height="7.99" fill="#F0F0F0"/>
<rect x="214.02" y="251.84" width="10.32" height="7.99" fill="#F0F0F0"/>
<rect x="223.74" y="251.84" width="10.32" height="7.99" fill="#F0F0F0"/>
<rect x="233.46" y="251.84" width="10.32" height="7.99" fill="#F0F0F0"/>
<rect x="243.18" y="251.84" width="9.72" height="7.99" fill="#595959"/>
<rect x="204.30" y="259.23" width="10.32" height="7.99" fill="#F0F0F0"/>
<rect x="214.02" y="259.23" width="10.32" height="7.99" fill="#F0F0F0"/>
<rect x="223.74" y="259.23" width="10.32" height="7.99" fill="#595959"/>
<rect x="233.46" y="259.23" width="10.32" height="7.99" fill="#F0F0F0"/>
<rect x="243.18" y="259.23" width="9.72" height="7.99" fill="#F0F0F0"/>
<rect x="204.30" y="266.62" width="10.32" height="7.99" fill="#595959"/>
<rect x="214.02" y="266.62" width="10.32" height="7.99" fill="#F0F0F0"/>
<rect x="223.74" y="266.62" width="10.32" height="7.99" fill="#F0F0F0"/>
<rect x="233.46" y="266.62" width="10.32" height="7.99" fill="#F0F0F0"/>
<rect x="243.18" y="266.62" width="9.72" height="7.99" fill="#F0F0F0"/>
<rect x="204.30" y="274.01" width="10.32" height="7.99" fill="#595959"/>
<rect x="214.02" y="274.01" width="10.32" height="7.99" fill="#F0F0F0"/>
<rect x="223.74" y="274.01" width="10.32" height="7.99" fill="#F0F0F0"/>
<rect x="233.46" y="274.01" width="10.32" height="7.99" fill="#F0F0F0"/>
<rect x="243.18" y="274.01" width="9.72" height="7.99" fill="#F0F0F0"/>
<rect x="204.30" y="281.40" width="10.32" height="7.99" fill="#595959"/>
<rect x="214.02" y="281.40" width="10.32" height="7.99" fill="#F0F0F0"/>
<rect x="223.74" y="281.40" width="10.32" height="7.99" fill="#F0F0F0"/>
<rect x="233.46" y="281.40" width="10.32" height="7.99" fill="#F0F0F0"/>
<rect x="243.18" y="281.40" width="9.72" height="7.99" fill="#F0F0F0"/>
<rect x="204.30" y="288.79" width="10.32" height="7.99" fill="#F0F0F0"/>
<rect x="214.02" y="288.79" width="10.32" height="7.99" fill="#F0F0F0"/>
<rect x="223.74" y="288.79" width="10.32" height="7.99" fill="#F0F0F0"/>
<rect x="233.46" y="288.79" width="10.32" height="7.99" fill="#595959"/>
<rect x="243.18" y="288.79" width="9.72" height="7.99" fill="#F0F0F0"/>
<rect x="204.30" y="296.18" width="10.32" height="7.99" fill="#595959"/>
<rect x="214.02" y="296.18" width="10.32" height="7.99" fill="#F0F0F0"/>
<rect x="223.74" y="296.18" width="10.32" height="7.99" fill="#F0F0F0"/>
<rect x="233.46" y="296.18" width="10.32" height="7.99" fill="#F0F0F0"/>
<rect x="243.18" y="296.18" width="9.72" height="7.99" fill="#F0F0F0"/>
<rect x="204.30" y="303.57" width="10.32" height="7.99" fill="#595959"/>
<rect x="214.02" y="303.57" width="10.32" height="7.99" fill="#F0F0F0"/>
<rect x="223.74" y="303.57" width="10.32" height="7.99" fill="#F0F0F0"/>
<rect x="233.46" y="303.57" width="10.32" height="7.99" fill="#F0F0F0"/>
<rect x="243.18" y="303.57" width="9.72" height="7.99" fill="#F0F0F0"/>
<rect x="204.30" y="310.96" width="10.32" height="7.99" fill="#F0F0F0"/>
<rect x="214.02" y="310.96" width="10.32" height="7.99" fill="#F0F0F0"/>
<rect x="223.74" y="310.96" width="10.32" height="7.99" fill="#595959"/>
<rect x="233.46" y="310.96" width="10.32" height="7.99" fill="#F0F0F0"/>
<rect x="243.18" y="310.96" width="9.72" height="7.99" fill="#F0F0F0"/>
<rect x="204.30" y="318.35" width="10.32" height="7.99" fill="#F0F0F0"/>
<rect x="214.02" y="318.35" width="10.32" height="7.99" fill="#595959"/>
<rect x="223.74" y="318.35" width="10.32" height="7.99" fill="#F0F0F0"/>
<rect x="233.46" y="318.35" width="10.32" height="7.99" fill="#F0F0F0"/>
<rect x="243.18" y="318.35" width="9.72" height="7.99" fill="#F0F0F0"/>
<rect x="204.30" y="325.74" width="10.32" height="7.99" fill="#F0F0F0"/>
<rect x="214.02" y="325.74" width="10.32" height="7.99" fill="#F0F0F0"/>
<rect x="223.74" y="325.74" width="10.32" height="7.99" fill="#595959"/>
<rect x="233.46" y="325.74" width="10.32" height="7.99" fill="#F0F0F0"/>
<rect x="243.18" y="325.74" width="9.72" height="7.99" fill="#F0F0F0"/>
<rect x="204.30" y="333.13" width="10.32" height="7.99" fill="#F0F0F0"/>
<rect x="214.02" y="333.13" width="10.32" height="7.99" fill="#F0F0F0"/>
<rect x="223.74" y="333.13" width="10.32" height="7.99" fill="#595959"/>
<rect x="233.46" y="333.13" width="10.32" height="7.99" fill="#F0F0F0"/>
<rect x="243.18" y="333.13" width="9.72" height="7.99" fill="#F0F0F0"/>
<rect x="204.30" y="340.52" width="10.32" height="7.99" fill="#595959"/>
<rect x="214.02" y="340.52" width="10.32" height="7.99" fill="#F0F0F0"/>
<rect x="223.74" y="340.52" width="10.32" height="7.99" fill="#F0F0F0"/>
<rect x="233.46" y="340.52" width="10.32" height="7.99" fill="#F0F0F0"/>
<rect x="243.18" y="340.52" width="9.72" height="7.99" fill="#F0F0F0"/>
<rect x="204.30" y="347.91" width="10.32" height="7.99" fill="#595959"/>
<rect x="214.02" y="347.91" width="10.32" height="7.99" fill="#F0F0F0"/>
<rect x="223.74" y="347.91" width="10.32" height="7.99" fill="#F0F0F0"/>
<rect x="233.46" y="347.91" width="10.32" height="7.99" fill="#F0F0F0"/>
<rect x="243.18" y="347.91" width="9.72" height="7.99" fill="#F0F0F0"/>
<rect x="204.30" y="355.30" width="10.32" height="7.99" fill="#F0F0F0"/>
<rect x="214.02" y="355.30" width="10.32" height="7.99" fill="#595959"/>
<rect x="223.74" y="355.30" width="10.32" height="7.99" fill="#F0F0F0"/>
<rect x="233.46" y="355.30" width="10.32" height="7.99" fill="#F0F0F0"/>
<rect x="243.18" y="355.30" width="9.72" height="7.99" fill="#F0F0F0"/>
<rect x="204.30" y="362.69" width="10.32" height="7.99" fill="#595959"/>
<rect x="214.02" y="362.69" width="10.32" height="7.99" fill="#F0F0F0"/>
<rect x="223.74" y="362.69" width="10.32" height="7.99" fill="#F0F0F0"/>
<rect x="233.46" y="362.69" width="10.32" height="7.99" fill="#F0F0F0"/>
<rect x="243.18" y="362.69" width="9.72" height="7.99" fill="#F0F0F0"/>
<rect x="204.30" y="370.08" width="10.32" height="7.99" fill="#F0F0F0"/>
<rect x="214.02" y="370.08" width="10.32" height="7.99" fill="#F0F0F0"/>
<rect x="223.74" y="370.08" width="10.32" height="7.99" fill="#595959"/>
<rect x="233.46" y="370.08" width="10.32" height="7.99" fill="#F0F0F0"/>
<rect x="243.18" y="370.08" width="9.72" height="7.99" fill="#F0F0F0"/>
<rect x="204.30" y="377.47" width="10.32" height="7.99" fill="#F0F0F0"/>
<rect x="214.02" y="377.47" width="10.32" height="7.99" fill="#F0F0F0"/>
<rect x="223.74" y="377.47" width="10.32" height="7.99" fill="#F0F0F0"/>
<rect x="233.46" y="377.47" width="10.32" height="7.99" fill="#F0F0F0"/>
<rect x="243.18" y="377.47" width="9.72" height="7.99" fill="#595959"/>
<rect x="204.30" y="384.86" width="10.32" height="7.99" fill="#F0F0F0"/>
<rect x="214.02" y="384.86" width="10.32" height="7.99" fill="#F0F0F0"/>
<rect x="223.74" y="384.86" width="10.32" height="7.99" fill="#F0F0F0"/>
<rect x="233.46" y="384.86" width="10.32" height="7.99" fill="#F0F0F0"/>
<rect x="243.18" y="384.86" width="9.72" height="7.99" fill="#595959"/>
<rect x="204.30" y="392.25" width="10.32" height="7.99" fill="#F0F0F0"/>
<rect x="214.02" y="392.25" width="10.32" height="7.99" fill="#F0F0F0"/>
<rect x="223.74" y="392.25" width="10.32" height="7.99" fill="#F0F0F0"/>
<rect x="233.46" y="392.25" width="10.32" height="7.99" fill="#F0F0F0"/>
<rect x="243.18" y="392.25" width="9.72" height="7.99" fill="#595959"/>
<rect x="204.30" y="399.64" width="10.32" height="7.99" fill="#F0F0F0"/>
<rect x="214.02" y="399.64" width="10.32" height="7.99" fill="#F0F0F0"/>
<rect x="223.74" y="399.64" width="10.32" height="7.99" fill="#F0F0F0"/>
<rect x="233.46" y="399.64" width="10.32" height="7.99" fill="#F0F0F0"/>
<rect x="243.18" y="399.64" width="9.72" height="7.99" fill="#595959"/>
<rect x="204.30" y="407.03" width="10.32" height="7.99" fill="#595959"/>
<rect x="214.02" y="407.03" width="10.32" height="7.99" fill="#F0F0F0"/>
<rect x="223.74" y="407.03" width="10.32" height="7.99" fill="#F0F0F0"/>
<rect x="233.46" y="407.03" width="10.32" height="7.99" fill="#F0F0F0"/>
<rect x="243.18" y="407.03" width="9.72" height="7.99" fill="#F0F0F0"/>
<rect x="204.30" y="414.42" width="10.32" height="7.99" fill="#595959"/>
<rect x="214.02" y="414.42" width="10.32" height="7.99" fill="#F0F0F0"/>
<rect x="223.74" y="414.42" width="10.32" height="7.99" fill="#F0F0F0"/>
<rect x="233.46" y="414.42" width="10.32" height="7.99" fill="#F0F0F0"/>
<rect x="243.18" y="414.42" width="9.72" height="7.99" fill="#F0F0F0"/>
<rect x="204.30" y="421.81" width="10.32" height="7.99" fill="#595959"/>
<rect x="214.02" y="421.81" width="10.32" height="7.99" fill="#F0F0F0"/>
<rect x="223.74" y="421.81" width="10.32" height="7.99" fill="#F0F0F0"/>
<rect x="233.46" y="421.81" width="10.32" height="7.99" fill="#F0F0F0"/>
<rect x="243.18" y="421.81" width="9.72" height="7.99" fill="#F0F0F0"/>
<rect x="204.30" y="429.20" width="10.32" height="7.99" fill="#F0F0F0"/>
<rect x="214.02" y="429.20" width="10.32" height="7.99" fill="#595959"/>
<rect x="223.74" y="429.20" width="10.32" height="7.99" fill="#F0F0F0"/>
<rect x="233.46" y="429.20" width="10.32" height="7.99" fill="#F0F0F0"/>
<rect x="243.18" y="429.20" width="9.72" height="7.99" fill="#F0F0F0"/>
<rect x="204.30" y="436.59" width="10.32" height="7.99" fill="#595959"/>
<rect x="214.02" y="436.59" width="10.32" height="7.99" fill="#F0F0F0"/>
<rect x="223.74" y="436.59" width="10.32" height="7.99" fill="#F0F0F0"/>
<rect x="233.46" y="436.59" width="10.32" height="7.99" fill="#F0F0F0"/>
<rect x="243.18" y="436.59" width="9.72" height="7.99" fill="#F0F0F0"/>
<rect x="204.30" y="443.98" width="10.32" height="7.99" fill="#595959"/>
<rect x="214.02" y="443.98" width="10.32" height="7.99" fill="#F0F0F0"/>
<rect x="223.74" y="443.98" width="10.32" height="7.99" fill="#F0F0F0"/>
<rect x="233.46" y="443.98" width="10.32" height="7.99" fill="#F0F0F0"/>
<rect x="243.18" y="443.98" width="9.72" height="7.99" fill="#F0F0F0"/>
<rect x="204.30" y="451.37" width="10.32" height="7.99" fill="#F0F0F0"/>
<rect x="214.02" y="451.37" width="10.32" height="7.99" fill="#F0F0F0"/>
<rect x="223.74" y="451.37" width="10.32" height="7.99" fill="#F0F0F0"/>
<rect x="233.46" y="451.37" width="10.32" height="7.99" fill="#F0F0F0"/>
<rect x="243.18" y="451.37" width="9.72" height="7.99" fill="#595959"/>
<rect x="204.30" y="458.76" width="10.32" height="7.99" fill="#F0F0F0"/>
<rect x="214.02" y="458.76" width="10.32" height="7.99" fill="#F0F0F0"/>
<rect x="223.74" y="458.76" width="10.32" height="7.99" fill="#F0F0F0"/>
<rect x="233.46" y="458.76" width="10.32" height="7.99" fill="#F0F0F0"/>
<rect x="243.18" y="458.76" width="9.72" height="7.99" fill="#595959"/>
<rect x="204.30" y="466.15" width="10.32" height="7.99" fill="#595959"/>
<rect x="214.02" y="466.15" width="10.32" height="7.99" fill="#F0F0F0"/>
<rect x="223.74" y="466.15" width="10.32" height="7.99" fill="#F0F0F0"/>
<rect x="233.46" y="466.15" width="10.32" height="7.99" fill="#F0F0F0"/>
<rect x="243.18" y="466.15" width="9.72" height="7.99" fill="#F0F0F0"/>
<rect x="204.30" y="473.54" width="10.32" height="7.99" fill="#F0F0F0"/>
<rect x="214.02" y="473.54" width="10.32" height="7.99" fill="#F0F0F0"/>
<rect x="223.74" y="473.54" width="10.32" height="7.99" fill="#F0F0F0"/>
<rect x="233.46" y="473.54" width="10.32" height="7.99" fill="#F0F0F0"/>
<rect x="243.18" y="473.54" width="9.72" height="7.99" fill="#595959"/>
<rect x="204.30" y="480.93" width="10.32" height="7.99" fill="#F0F0F0"/>
<rect x="214.02" y="480.93" width="10.32" height="7.99" fill="#F0F0F0"/>
<rect x="223.74" y="480.93" width="10.32" height="7.99" fill="#F0F0F0"/>
<rect x="233.46" y="480.93" width="10.32" height="7.99" fill="#F0F0F0"/>
<rect x="243.18" y="480.93" width="9.72" height="7.99" fill="#595959"/>
<rect x="204.30" y="488.32" width="10.32" height="7.99" fill="#595959"/>
<rect x="214.02" y="488.32" width="10.32" height="7.99" fill="#F0F0F0"/>
<rect x="223.74" y="488.32" width="10.32" height="7.99" fill="#F0F0F0"/>
<rect x="233.46" y="488.32" width="10.32" height="7.99" fill="#F0F0F0"/>
<rect x="243.18" y="488.32" width="9.72" height="7.99" fill="#F0F0F0"/>
<rect x="204.30" y="495.71" width="10.32" height="7.99" fill="#F0F0F0"/>
<rect x="214.02" y="495.71" width="10.32" height="7.99" fill="#F0F0F0"/>
<rect x="223.74" y="495.71" width="10.32" height="7.99" fill="#F0F0F0"/>
<rect x="233.46" y="495.71" width="10.32" height="7.99" fill="#F0F0F0"/>
<rect x="243.18" y="495.71" width="9.72" height="7.99" fill="#595959"/>
<rect x="204.30" y="503.10" width="10.32" height="7.99" fill="#F0F0F0"/>
<rect x="214.02" y="503.10" width="10.32" height="7.99" fill="#595959"/>
<rect x="223.74" y="503.10" width="10.32" height="7.99" fill="#F0F0F0"/>
<rect x="233.46" y="503.10" width="10.32" height="7.99" fill="#F0F0F0"/>
<rect x="243.18" y="503.10" width="9.72" height="7.99" fill="#F0F0F0"/>
<rect x="204.30" y="510.49" width="10.32" height="7.99" fill="#F0F0F0"/>
<rect x="214.02" y="510.49" width="10.32" height="7.99" fill="#595959"/>
<rect x="223.74" y="510.49" width="10.32" height="7.99" fill="#F0F0F0"/>
<rect x="233.46" y="510.49" width="10.32" height="7.99" fill="#F0F0F0"/>
<rect x="243.18" y="510.49" width="9.72" height="7.99" fill="#F0F0F0"/>
<rect x="204.30" y="517.88" width="10.32" height="7.99" fill="#595959"/>
<rect x="214.02" y="517.88" width="10.32" height="7.99" fill="#F0F0F0"/>
<rect x="223.74" y="517.88" width="10.32" height="7.99" fill="#F0F0F0"/>
<rect x="233.46" y="517.88" width="10.32" height="7.99" fill="#F0F0F0"/>
<rect x="243.18" y="517.88" width="9.72" height="7.99" fill="#F0F0F0"/>
<rect x="204.30" y="525.27" width="10.32" height="7.99" fill="#F0F0F0"/>
<rect x="214.02" y="525.27" width="10.32" height="7.99" fill="#F0F0F0"/>
<rect x="223.74" y="525.27" width="10.32" height="7.99" fill="#F0F0F0"/>
<rect x="233.46" y="525.27" width="10.32" height="7.99" fill="#F0F0F0"/>
<rect x="243.18" y="525.27" width="9.72" height="7.99" fill="#595959"/>
<rect x="204.30" y="532.66" width="10.32" height="7.99" fill="#595959"/>
<rect x="214.02" y="532.66" width="10.32" height="7.99" fill="#F0F0F0"/>
<rect x="223.74" y="532.66" width="10.32" height="7.99" fill="#F0F0F0"/>
<rect x="233.46" y="532.66" width="10.32" height="7.99" fill="#F0F0F0"/>
<rect x="243.18" y="532.66" width="9.72" height="7.99" fill="#F0F0F0"/>
<rect x="204.30" y="540.05" width="10.32" height="7.99" fill="#595959"/>
<rect x="214.02" y="540.05" width="10.32" height="7.99" fill="#F0F0F0"/>
<rect x="223.74" y="540.05" width="10.32" height="7.99" fill="#F0F0F0"/>
<rect x="233.46" y="540.05" width="10.32" height="7.99" fill="#F0F0F0"/>
<rect x="243.18" y="540.05" width="9.72" height="7.99" fill="#F0F0F0"/>
<rect x="204.30" y="547.44" width="10.32" height="7.99" fill="#595959"/>
<rect x="214.02" y="547.44" width="10.32" height="7.99" fill="#F0F0F0"/>
<rect x="223.74" y="547.44" width="10.32" height="7.99" fill="#F0F0F0"/>
<rect x="233.46" y="547.44" width="10.32" height="7.99" fill="#F0F0F0"/>
<rect x="243.18" y="547.44" width="9.72" height="7.99" fill="#F0F0F0"/>
<rect x="204.30" y="554.83" width="10.32" height="7.99" fill="#595959"/>
<rect x="214.02" y="554.83" width="10.32" height="7.99" fill="#F0F0F0"/>
<rect x="223.74" y="554.83" width="10.32" height="7.99" fill="#F0F0F0"/>
<rect x="233.46" y="554.83" width="10.32" height="7.99" fill="#F0F0F0"/>
<rect x="243.18" y="554.83" width="9.72" height="7.99" fill="#F0F0F0"/>
<rect x="204.30" y="562.22" width="10.32" height="7.99" fill="#F0F0F0"/>
<rect x="214.02" y="562.22" width="10.32" height="7.99" fill="#F0F0F0"/>
<rect x="223.74" y="562.22" width="10.32" height="7.99" fill="#F0F0F0"/>
<rect x="233.46" y="562.22" width="10.32" height="7.99" fill="#F0F0F0"/>
<rect x="243.18" y="562.22" width="9.72" height="7.99" fill="#595959"/>
<rect x="204.30" y="569.61" width="10.32" height="7.99" fill="#595959"/>
<rect x="214.02" y="569.61" width="10.32" height="7.99" fill="#F0F0F0"/>
<rect x="223.74" y="569.61" width="10.32" height="7.99" fill="#F0F0F0"/>
<rect x="233.46" y="569.61" width="10.32" height="7.99" fill="#F0F0F0"/>
<rect x="243.18" y="569.61" width="9.72" height="7.99" fill="#F0F0F0"/>
<rect x="204.30" y="577.00" width="10.32" height="7.99" fill="#F0F0F0"/>
<rect x="214.02" y="577.00" width="10.32" height="7.99" fill="#F0F0F0"/>
<rect x="223.74" y="577.00" width="10.32" height="7.99" fill="#F0F0F0"/>
<rect x="233.46" y="577.00" width="10.32" height="7.99" fill="#F0F0F0"/>
<rect x="243.18" y="577.00" width="9.72" height="7.99" fill="#595959"/>
<rect x="204.30" y="584.39" width="10.32" height="7.99" fill="#F0F0F0"/>
<rect x="214.02" y="584.39" width="10.32" height="7.99" fill="#F0F0F0"/>
<rect x="223.74" y="584.39" width="10.32" height="7.99" fill="#F0F0F0"/>
<rect x="233.46" y="584.39" width="10.32" height="7.99" fill="#F0F0F0"/>
<rect x="243.18" y="584.39" width="9.72" height="7.99" fill="#595959"/>
<rect x="204.30" y="591.78" width="10.32" height="7.99" fill="#F0F0F0"/>
<rect x="214.02" y="591.78" width="10.32" height="7.99" fill="#F0F0F0"/>
<rect x="223.74" y="591.78" width="10.32" height="7.99" fill="#F0F0F0"/>
<rect x="233.46" y="591.78" width="10.32" height="7.99" fill="#F0F0F0"/>
<rect x="243.18" y="591.78" width="9.72" height="7.99" fill="#595959"/>
<rect x="204.30" y="599.17" width="10.32" height="7.99" fill="#F0F0F0"/>
<rect x="214.02" y="599.17" width="10.32" height="7.99" fill="#F0F0F0"/>
<rect x="223.74" y="599.17" width="10.32" height="7.99" fill="#F0F0F0"/>
<rect x="233.46" y="599.17" width="10.32" height="7.99" fill="#F0F0F0"/>
<rect x="243.18" y="599.17" width="9.72" height="7.99" fill="#595959"/>
<rect x="204.30" y="606.56" width="10.32" height="7.39" fill="#F0F0F0"/>
<rect x="214.02" y="606.56" width="10.32" height="7.39" fill="#F0F0F0"/>
<rect x="223.74" y="606.56" width="10.32" height="7.39" fill="#F0F0F0"/>
<rect x="233.46" y="606.56" width="10.32" height="7.39" fill="#F0F0F0"/>
<rect x="243.18" y="606.56" width="9.72" height="7.39" fill="#595959"/>
<rect x="203.45" y="59.20" width="50.55" height="555.20" fill="none" stroke="#333333" stroke-width="1.3"/>
<line x1="209.20" y1="614.90" x2="209.20" y2="620.70" stroke="#333333" stroke-width="1"/>
<text x="212.40" y="625.20" font-size="10.6" text-anchor="end" transform="rotate(-90 212.40 625.20)">10-fold cross-validation</text>
<line x1="218.80" y1="614.90" x2="218.80" y2="620.70" stroke="#333333" stroke-width="1"/>
<text x="222.00" y="625.20" font-size="10.6" text-anchor="end" transform="rotate(-90 222.00 625.20)">Leave-one-out cross-validation</text>
<line x1="228.50" y1="614.90" x2="228.50" y2="620.70" stroke="#333333" stroke-width="1"/>
<text x="231.70" y="625.20" font-size="10.6" text-anchor="end" transform="rotate(-90 231.70 625.20)">5-fold cross-validation</text>
<line x1="238.30" y1="614.90" x2="238.30" y2="620.70" stroke="#333333" stroke-width="1"/>
<text x="241.50" y="625.20" font-size="10.6" text-anchor="end" transform="rotate(-90 241.50 625.20)">No cross-validation</text>
<line x1="248.05" y1="614.90" x2="248.05" y2="620.70" stroke="#333333" stroke-width="1"/>
<text x="251.25" y="625.20" font-size="10.6" text-anchor="end" transform="rotate(-90 251.25 625.20)">Others</text>
<text x="228.70" y="43.00" font-size="9.5" text-anchor="middle">Model</text>
<text x="228.70" y="54.30" font-size="9.5" text-anchor="middle">validation</text>
<text x="138.90" y="15.90" font-size="16" text-anchor="middle" class="t">Subchallenge 1</text>
<line x1="296.70" y1="63.52" x2="300.70" y2="63.52" stroke="#333333" stroke-width="1"/>
<text x="294.80" y="65.57" font-size="7.3" text-anchor="end">1</text>
<line x1="296.70" y1="71.46" x2="300.70" y2="71.46" stroke="#333333" stroke-width="1"/>
<text x="294.80" y="73.51" font-size="7.3" text-anchor="end">2</text>
<line x1="296.70" y1="79.40" x2="300.70" y2="79.40" stroke="#333333" stroke-width="1"/>
<text x="294.80" y="81.45" font-size="7.3" text-anchor="end">3</text>
<line x1="296.70" y1="87.34" x2="300.70" y2="87.34" stroke="#333333" stroke-width="1"/>
<text x="294.80" y="89.39" font-size="7.3" text-anchor="end">4</text>
<line x1="296.70" y1="95.28" x2="300.70" y2="95.28" stroke="#333333" stroke-width="1"/>
<text x="294.80" y="97.33" font-size="7.3" text-anchor="end">5</text>
<line x1="296.70" y1="103.22" x2="300.70" y2="103.22" stroke="#333333" stroke-width="1"/>
<text x="294.80" y="105.27" font-size="7.3" text-anchor="end">6</text>
<line x1="296.70" y1="111.16" x2="300.70" y2="111.16" stroke="#333333" stroke-width="1"/>
<text x="294.80" y="113.21" font-size="7.3" text-anchor="end">8</text>
<line x1="296.70" y1="119.10" x2="300.70" y2="119.10" stroke="#333333" stroke-width="1"/>
<text x="294.80" y="121.15" font-size="7.3" text-anchor="end">9</text>
<line x1="296.70" y1="127.04" x2="300.70" y2="127.04" stroke="#333333" stroke-width="1"/>
<text x="294.80" y="129.09" font-size="7.3" text-anchor="end">10</text>
<line x1="296.70" y1="134.98" x2="300.70" y2="134.98" stroke="#333333" stroke-width="1"/>
<text x="294.80" y="137.03" font-size="7.3" text-anchor="end">11</text>
<line x1="296.70" y1="142.92" x2="300.70" y2="142.92" stroke="#333333" stroke-width="1"/>
<text x="294.80" y="144.97" font-size="7.3" text-anchor="end">12</text>
<line x1="296.70" y1="150.86" x2="300.70" y2="150.86" stroke="#333333" stroke-width="1"/>
<text x="294.80" y="152.91" font-size="7.3" text-anchor="end">13</text>
<line x1="296.70" y1="158.80" x2="300.70" y2="158.80" stroke="#333333" stroke-width="1"/>
<text x="294.80" y="160.85" font-size="7.3" text-anchor="end">14</text>
<line x1="296.70" y1="166.74" x2="300.70" y2="166.74" stroke="#333333" stroke-width="1"/>
<text x="294.80" y="168.79" font-size="7.3" text-anchor="end">15</text>
<line x1="296.70" y1="174.68" x2="300.70" y2="174.68" stroke="#333333" stroke-width="1"/>
<text x="294.80" y="176.73" font-size="7.3" text-anchor="end">16</text>
<line x1="296.70" y1="182.62" x2="300.70" y2="182.62" stroke="#333333" stroke-width="1"/>
<text x="294.80" y="184.67" font-size="7.3" text-anchor="end">17</text>
<line x1="296.70" y1="190.56" x2="300.70" y2="190.56" stroke="#333333" stroke-width="1"/>
<text x="294.80" y="192.61" font-size="7.3" text-anchor="end">18</text>
<line x1="296.70" y1="198.50" x2="300.70" y2="198.50" stroke="#333333" stroke-width="1"/>
<text x="294.80" y="200.55" font-size="7.3" text-anchor="end">19</text>
<line x1="296.70" y1="206.44" x2="300.70" y2="206.44" stroke="#333333" stroke-width="1"/>
<text x="294.80" y="208.49" font-size="7.3" text-anchor="end">21</text>
<line x1="296.70" y1="214.38" x2="300.70" y2="214.38" stroke="#333333" stroke-width="1"/>
<text x="294.80" y="216.43" font-size="7.3" text-anchor="end">22</text>
<line x1="296.70" y1="222.32" x2="300.70" y2="222.32" stroke="#333333" stroke-width="1"/>
<text x="294.80" y="224.37" font-size="7.3" text-anchor="end">24</text>
<line x1="296.70" y1="230.26" x2="300.70" y2="230.26" stroke="#333333" stroke-width="1"/>
<text x="294.80" y="232.31" font-size="7.3" text-anchor="end">25</text>
<line x1="296.70" y1="238.20" x2="300.70" y2="238.20" stroke="#333333" stroke-width="1"/>
<text x="294.80" y="240.25" font-size="7.3" text-anchor="end">26</text>
<line x1="296.70" y1="246.14" x2="300.70" y2="246.14" stroke="#333333" stroke-width="1"/>
<text x="294.80" y="248.19" font-size="7.3" text-anchor="end">28</text>
<line x1="296.70" y1="254.08" x2="300.70" y2="254.08" stroke="#333333" stroke-width="1"/>
<text x="294.80" y="256.13" font-size="7.3" text-anchor="end">29</text>
<line x1="296.70" y1="262.02" x2="300.70" y2="262.02" stroke="#333333" stroke-width="1"/>
<text x="294.80" y="264.07" font-size="7.3" text-anchor="end">30</text>
<line x1="296.70" y1="269.97" x2="300.70" y2="269.97" stroke="#333333" stroke-width="1"/>
<text x="294.80" y="272.02" font-size="7.3" text-anchor="end">31</text>
<line x1="296.70" y1="277.91" x2="300.70" y2="277.91" stroke="#333333" stroke-width="1"/>
<text x="294.80" y="279.96" font-size="7.3" text-anchor="end">33</text>
<line x1="296.70" y1="285.85" x2="300.70" y2="285.85" stroke="#333333" stroke-width="1"/>
<text x="294.80" y="287.90" font-size="7.3" text-anchor="end">36</text>
<line x1="296.70" y1="293.79" x2="300.70" y2="293.79" stroke="#333333" stroke-width="1"/>
<text x="294.80" y="295.84" font-size="7.3" text-anchor="end">37</text>
<line x1="296.70" y1="301.73" x2="300.70" y2="301.73" stroke="#333333" stroke-width="1"/>
<text x="294.80" y="303.78" font-size="7.3" text-anchor="end">38</text>
<line x1="296.70" y1="309.67" x2="300.70" y2="309.67" stroke="#333333" stroke-width="1"/>
<text x="294.80" y="311.72" font-size="7.3" text-anchor="end">40</text>
<line x1="296.70" y1="317.61" x2="300.70" y2="317.61" stroke="#333333" stroke-width="1"/>
<text x="294.80" y="319.66" font-size="7.3" text-anchor="end">41</text>
<line x1="296.70" y1="325.55" x2="300.70" y2="325.55" stroke="#333333" stroke-width="1"/>
<text x="294.80" y="327.60" font-size="7.3" text-anchor="end">42</text>
<line x1="296.70" y1="333.49" x2="300.70" y2="333.49" stroke="#333333" stroke-width="1"/>
<text x="294.80" y="335.54" font-size="7.3" text-anchor="end">43</text>
<line x1="296.70" y1="341.43" x2="300.70" y2="341.43" stroke="#333333" stroke-width="1"/>
<text x="294.80" y="343.48" font-size="7.3" text-anchor="end">46</text>
<line x1="296.70" y1="349.37" x2="300.70" y2="349.37" stroke="#333333" stroke-width="1"/>
<text x="294.80" y="351.42" font-size="7.3" text-anchor="end">47</text>
<line x1="296.70" y1="357.31" x2="300.70" y2="357.31" stroke="#333333" stroke-width="1"/>
<text x="294.80" y="359.36" font-size="7.3" text-anchor="end">48</text>
<line x1="296.70" y1="365.25" x2="300.70" y2="365.25" stroke="#333333" stroke-width="1"/>
<text x="294.80" y="367.30" font-size="7.3" text-anchor="end">49</text>
<line x1="296.70" y1="373.19" x2="300.70" y2="373.19" stroke="#333333" stroke-width="1"/>
<text x="294.80" y="375.24" font-size="7.3" text-anchor="end">50</text>
<line x1="296.70" y1="381.13" x2="300.70" y2="381.13" stroke="#333333" stroke-width="1"/>
<text x="294.80" y="383.18" font-size="7.3" text-anchor="end">51</text>
<line x1="296.70" y1="389.07" x2="300.70" y2="389.07" stroke="#333333" stroke-width="1"/>
<text x="294.80" y="391.12" font-size="7.3" text-anchor="end">52</text>
<line x1="296.70" y1="397.01" x2="300.70" y2="397.01" stroke="#333333" stroke-width="1"/>
<text x="294.80" y="399.06" font-size="7.3" text-anchor="end">54</text>
<line x1="296.70" y1="404.95" x2="300.70" y2="404.95" stroke="#333333" stroke-width="1"/>
<text x="294.80" y="407.00" font-size="7.3" text-anchor="end">55</text>
<line x1="296.70" y1="412.89" x2="300.70" y2="412.89" stroke="#333333" stroke-width="1"/>
<text x="294.80" y="414.94" font-size="7.3" text-anchor="end">58</text>
<line x1="296.70" y1="420.83" x2="300.70" y2="420.83" stroke="#333333" stroke-width="1"/>
<text x="294.80" y="422.88" font-size="7.3" text-anchor="end">62</text>
<line x1="296.70" y1="428.77" x2="300.70" y2="428.77" stroke="#333333" stroke-width="1"/>
<text x="294.80" y="430.82" font-size="7.3" text-anchor="end">66</text>
<line x1="296.70" y1="436.71" x2="300.70" y2="436.71" stroke="#333333" stroke-width="1"/>
<text x="294.80" y="438.76" font-size="7.3" text-anchor="end">67</text>
<line x1="296.70" y1="444.65" x2="300.70" y2="444.65" stroke="#333333" stroke-width="1"/>
<text x="294.80" y="446.70" font-size="7.3" text-anchor="end">74</text>
<line x1="296.70" y1="452.59" x2="300.70" y2="452.59" stroke="#333333" stroke-width="1"/>
<text x="294.80" y="454.64" font-size="7.3" text-anchor="end">79</text>
<line x1="296.70" y1="460.53" x2="300.70" y2="460.53" stroke="#333333" stroke-width="1"/>
<text x="294.80" y="462.58" font-size="7.3" text-anchor="end">80</text>
<rect x="301.10" y="59.55" width="11.02" height="8.54" fill="#00BFC4"/>
<rect x="311.52" y="59.55" width="11.02" height="8.54" fill="#00BFC4"/>
<rect x="321.94" y="59.55" width="11.02" height="8.54" fill="#00BFC4"/>
<rect x="332.36" y="59.55" width="11.02" height="8.54" fill="#00BFC4"/>
<rect x="342.78" y="59.55" width="10.42" height="8.54" fill="#595959"/>
<rect x="301.10" y="67.49" width="11.02" height="8.54" fill="#00BFC4"/>
<rect x="311.52" y="67.49" width="11.02" height="8.54" fill="#00BFC4"/>
<rect x="321.94" y="67.49" width="11.02" height="8.54" fill="#00BFC4"/>
<rect x="332.36" y="67.49" width="11.02" height="8.54" fill="#00BFC4"/>
<rect x="342.78" y="67.49" width="10.42" height="8.54" fill="#595959"/>
<rect x="301.10" y="75.43" width="11.02" height="8.54" fill="#00BFC4"/>
<rect x="311.52" y="75.43" width="11.02" height="8.54" fill="#00BFC4"/>
<rect x="321.94" y="75.43" width="11.02" height="8.54" fill="#7CAE00"/>
<rect x="332.36" y="75.43" width="11.02" height="8.54" fill="#7CAE00"/>
<rect x="342.78" y="75.43" width="10.42" height="8.54" fill="#595959"/>
<rect x="301.10" y="83.37" width="11.02" height="8.54" fill="#00BFC4"/>
<rect x="311.52" y="83.37" width="11.02" height="8.54" fill="#00BFC4"/>
<rect x="321.94" y="83.37" width="11.02" height="8.54" fill="#7CAE00"/>
<rect x="332.36" y="83.37" width="11.02" height="8.54" fill="#7CAE00"/>
<rect x="342.78" y="83.37" width="10.42" height="8.54" fill="#595959"/>
<rect x="301.10" y="91.31" width="11.02" height="8.54" fill="#00BFC4"/>
<rect x="311.52" y="91.31" width="11.02" height="8.54" fill="#00BFC4"/>
<rect x="321.94" y="91.31" width="11.02" height="8.54" fill="#00BFC4"/>
<rect x="332.36" y="91.31" width="11.02" height="8.54" fill="#7CAE00"/>
<rect x="342.78" y="91.31" width="10.42" height="8.54" fill="#F0F0F0"/>
<rect x="301.10" y="99.25" width="11.02" height="8.54" fill="#00BFC4"/>
<rect x="311.52" y="99.25" width="11.02" height="8.54" fill="#00BFC4"/>
<rect x="321.94" y="99.25" width="11.02" height="8.54" fill="#00BFC4"/>
<rect x="332.36" y="99.25" width="11.02" height="8.54" fill="#7CAE00"/>
<rect x="342.78" y="99.25" width="10.42" height="8.54" fill="#F0F0F0"/>
<rect x="301.10" y="107.19" width="11.02" height="8.54" fill="#00BFC4"/>
<rect x="311.52" y="107.19" width="11.02" height="8.54" fill="#00BFC4"/>
<rect x="321.94" y="107.19" width="11.02" height="8.54" fill="#7CAE00"/>
<rect x="332.36" y="107.19" width="11.02" height="8.54" fill="#7CAE00"/>
<rect x="342.78" y="107.19" width="10.42" height="8.54" fill="#F0F0F0"/>
<rect x="301.10" y="115.13" width="11.02" height="8.54" fill="#00BFC4"/>
<rect x="311.52" y="115.13" width="11.02" height="8.54" fill="#00BFC4"/>
<rect x="321.94" y="115.13" width="11.02" height="8.54" fill="#00BFC4"/>
<rect x="332.36" y="115.13" width="11.02" height="8.54" fill="#00BFC4"/>
<rect x="342.78" y="115.13" width="10.42" height="8.54" fill="#595959"/>
<rect x="301.10" y="123.07" width="11.02" height="8.54" fill="#00BFC4"/>
<rect x="311.52" y="123.07" width="11.02" height="8.54" fill="#00BFC4"/>
<rect x="321.94" y="123.07" width="11.02" height="8.54" fill="#7CAE00"/>
<rect x="332.36" y="123.07" width="11.02" height="8.54" fill="#7CAE00"/>
<rect x="342.78" y="123.07" width="10.42" height="8.54" fill="#F0F0F0"/>
<rect x="301.10" y="131.01" width="11.02" height="8.54" fill="#00BFC4"/>
<rect x="311.52" y="131.01" width="11.02" height="8.54" fill="#00BFC4"/>
<rect x="321.94" y="131.01" width="11.02" height="8.54" fill="#00BFC4"/>
<rect x="332.36" y="131.01" width="11.02" height="8.54" fill="#00BFC4"/>
<rect x="342.78" y="131.01" width="10.42" height="8.54" fill="#595959"/>
<rect x="301.10" y="138.95" width="11.02" height="8.54" fill="#00BFC4"/>
<rect x="311.52" y="138.95" width="11.02" height="8.54" fill="#00BFC4"/>
<rect x="321.94" y="138.95" width="11.02" height="8.54" fill="#00BFC4"/>
<rect x="332.36" y="138.95" width="11.02" height="8.54" fill="#00BFC4"/>
<rect x="342.78" y="138.95" width="10.42" height="8.54" fill="#595959"/>
<rect x="301.10" y="146.89" width="11.02" height="8.54" fill="#00BFC4"/>
<rect x="311.52" y="146.89" width="11.02" height="8.54" fill="#00BFC4"/>
<rect x="321.94" y="146.89" width="11.02" height="8.54" fill="#00BFC4"/>
<rect x="332.36" y="146.89" width="11.02" height="8.54" fill="#00BFC4"/>
<rect x="342.78" y="146.89" width="10.42" height="8.54" fill="#595959"/>
<rect x="301.10" y="154.83" width="11.02" height="8.54" fill="#00BFC4"/>
<rect x="311.52" y="154.83" width="11.02" height="8.54" fill="#00BFC4"/>
<rect x="321.94" y="154.83" width="11.02" height="8.54" fill="#00BFC4"/>
<rect x="332.36" y="154.83" width="11.02" height="8.54" fill="#00BFC4"/>
<rect x="342.78" y="154.83" width="10.42" height="8.54" fill="#595959"/>
<rect x="301.10" y="162.77" width="11.02" height="8.54" fill="#00BFC4"/>
<rect x="311.52" y="162.77" width="11.02" height="8.54" fill="#00BFC4"/>
<rect x="321.94" y="162.77" width="11.02" height="8.54" fill="#F8766D"/>
<rect x="332.36" y="162.77" width="11.02" height="8.54" fill="#F8766D"/>
<rect x="342.78" y="162.77" width="10.42" height="8.54" fill="#595959"/>
<rect x="301.10" y="170.71" width="11.02" height="8.54" fill="#00BFC4"/>
<rect x="311.52" y="170.71" width="11.02" height="8.54" fill="#00BFC4"/>
<rect x="321.94" y="170.71" width="11.02" height="8.54" fill="#7CAE00"/>
<rect x="332.36" y="170.71" width="11.02" height="8.54" fill="#7CAE00"/>
<rect x="342.78" y="170.71" width="10.42" height="8.54" fill="#F0F0F0"/>
<rect x="301.10" y="178.65" width="11.02" height="8.54" fill="#00BFC4"/>
<rect x="311.52" y="178.65" width="11.02" height="8.54" fill="#00BFC4"/>
<rect x="321.94" y="178.65" width="11.02" height="8.54" fill="#7CAE00"/>
<rect x="332.36" y="178.65" width="11.02" height="8.54" fill="#7CAE00"/>
<rect x="342.78" y="178.65" width="10.42" height="8.54" fill="#595959"/>
<rect x="301.10" y="186.59" width="11.02" height="8.54" fill="#00BFC4"/>
<rect x="311.52" y="186.59" width="11.02" height="8.54" fill="#00BFC4"/>
<rect x="321.94" y="186.59" width="11.02" height="8.54" fill="#7CAE00"/>
<rect x="332.36" y="186.59" width="11.02" height="8.54" fill="#7CAE00"/>
<rect x="342.78" y="186.59" width="10.42" height="8.54" fill="#F0F0F0"/>
<rect x="301.10" y="194.53" width="11.02" height="8.54" fill="#00BFC4"/>
<rect x="311.52" y="194.53" width="11.02" height="8.54" fill="#00BFC4"/>
<rect x="321.94" y="194.53" width="11.02" height="8.54" fill="#00BFC4"/>
<rect x="332.36" y="194.53" width="11.02" height="8.54" fill="#00BFC4"/>
<rect x="342.78" y="194.53" width="10.42" height="8.54" fill="#595959"/>
<rect x="301.10" y="202.47" width="11.02" height="8.54" fill="#00BFC4"/>
<rect x="311.52" y="202.47" width="11.02" height="8.54" fill="#00BFC4"/>
<rect x="321.94" y="202.47" width="11.02" height="8.54" fill="#7CAE00"/>
<rect x="332.36" y="202.47" width="11.02" height="8.54" fill="#7CAE00"/>
<rect x="342.78" y="202.47" width="10.42" height="8.54" fill="#F0F0F0"/>
<rect x="301.10" y="210.41" width="11.02" height="8.54" fill="#00BFC4"/>
<rect x="311.52" y="210.41" width="11.02" height="8.54" fill="#00BFC4"/>
<rect x="321.94" y="210.41" width="11.02" height="8.54" fill="#00BFC4"/>
<rect x="332.36" y="210.41" width="11.02" height="8.54" fill="#00BFC4"/>
<rect x="342.78" y="210.41" width="10.42" height="8.54" fill="#595959"/>
<rect x="301.10" y="218.35" width="11.02" height="8.54" fill="#00BFC4"/>
<rect x="311.52" y="218.35" width="11.02" height="8.54" fill="#00BFC4"/>
<rect x="321.94" y="218.35" width="11.02" height="8.54" fill="#F8766D"/>
<rect x="332.36" y="218.35" width="11.02" height="8.54" fill="#F8766D"/>
<rect x="342.78" y="218.35" width="10.42" height="8.54" fill="#595959"/>
<rect x="301.10" y="226.29" width="11.02" height="8.54" fill="#00BFC4"/>
<rect x="311.52" y="226.29" width="11.02" height="8.54" fill="#00BFC4"/>
<rect x="321.94" y="226.29" width="11.02" height="8.54" fill="#7CAE00"/>
<rect x="332.36" y="226.29" width="11.02" height="8.54" fill="#7CAE00"/>
<rect x="342.78" y="226.29" width="10.42" height="8.54" fill="#595959"/>
<rect x="301.10" y="234.23" width="11.02" height="8.54" fill="#7CAE00"/>
<rect x="311.52" y="234.23" width="11.02" height="8.54" fill="#00BFC4"/>
<rect x="321.94" y="234.23" width="11.02" height="8.54" fill="#7CAE00"/>
<rect x="332.36" y="234.23" width="11.02" height="8.54" fill="#7CAE00"/>
<rect x="342.78" y="234.23" width="10.42" height="8.54" fill="#F0F0F0"/>
<rect x="301.10" y="242.17" width="11.02" height="8.54" fill="#7CAE00"/>
<rect x="311.52" y="242.17" width="11.02" height="8.54" fill="#00BFC4"/>
<rect x="321.94" y="242.17" width="11.02" height="8.54" fill="#7CAE00"/>
<rect x="332.36" y="242.17" width="11.02" height="8.54" fill="#7CAE00"/>
<rect x="342.78" y="242.17" width="10.42" height="8.54" fill="#F0F0F0"/>
<rect x="301.10" y="250.11" width="11.02" height="8.54" fill="#7CAE00"/>
<rect x="311.52" y="250.11" width="11.02" height="8.54" fill="#00BFC4"/>
<rect x="321.94" y="250.11" width="11.02" height="8.54" fill="#7CAE00"/>
<rect x="332.36" y="250.11" width="11.02" height="8.54" fill="#7CAE00"/>
<rect x="342.78" y="250.11" width="10.42" height="8.54" fill="#F0F0F0"/>
<rect x="301.10" y="258.05" width="11.02" height="8.54" fill="#7CAE00"/>
<rect x="311.52" y="258.05" width="11.02" height="8.54" fill="#00BFC4"/>
<rect x="321.94" y="258.05" width="11.02" height="8.54" fill="#7CAE00"/>
<rect x="332.36" y="258.05" width="11.02" height="8.54" fill="#7CAE00"/>
<rect x="342.78" y="258.05" width="10.42" height="8.54" fill="#F0F0F0"/>
<rect x="301.10" y="266.00" width="11.02" height="8.54" fill="#00BFC4"/>
<rect x="311.52" y="266.00" width="11.02" height="8.54" fill="#00BFC4"/>
<rect x="321.94" y="266.00" width="11.02" height="8.54" fill="#7CAE00"/>
<rect x="332.36" y="266.00" width="11.02" height="8.54" fill="#7CAE00"/>
<rect x="342.78" y="266.00" width="10.42" height="8.54" fill="#F0F0F0"/>
<rect x="301.10" y="273.94" width="11.02" height="8.54" fill="#F8766D"/>
<rect x="311.52" y="273.94" width="11.02" height="8.54" fill="#F8766D"/>
<rect x="321.94" y="273.94" width="11.02" height="8.54" fill="#F8766D"/>
<rect x="332.36" y="273.94" width="11.02" height="8.54" fill="#F8766D"/>
<rect x="342.78" y="273.94" width="10.42" height="8.54" fill="#595959"/>
<rect x="301.10" y="281.88" width="11.02" height="8.54" fill="#00BFC4"/>
<rect x="311.52" y="281.88" width="11.02" height="8.54" fill="#00BFC4"/>
<rect x="321.94" y="281.88" width="11.02" height="8.54" fill="#7CAE00"/>
<rect x="332.36" y="281.88" width="11.02" height="8.54" fill="#7CAE00"/>
<rect x="342.78" y="281.88" width="10.42" height="8.54" fill="#F0F0F0"/>
<rect x="301.10" y="289.82" width="11.02" height="8.54" fill="#00BFC4"/>
<rect x="311.52" y="289.82" width="11.02" height="8.54" fill="#00BFC4"/>
<rect x="321.94" y="289.82" width="11.02" height="8.54" fill="#00BFC4"/>
<rect x="332.36" y="289.82" width="11.02" height="8.54" fill="#00BFC4"/>
<rect x="342.78" y="289.82" width="10.42" height="8.54" fill="#595959"/>
<rect x="301.10" y="297.76" width="11.02" height="8.54" fill="#00BFC4"/>
<rect x="311.52" y="297.76" width="11.02" height="8.54" fill="#00BFC4"/>
<rect x="321.94" y="297.76" width="11.02" height="8.54" fill="#00BFC4"/>
<rect x="332.36" y="297.76" width="11.02" height="8.54" fill="#7CAE00"/>
<rect x="342.78" y="297.76" width="10.42" height="8.54" fill="#F0F0F0"/>
<rect x="301.10" y="305.70" width="11.02" height="8.54" fill="#00BFC4"/>
<rect x="311.52" y="305.70" width="11.02" height="8.54" fill="#00BFC4"/>
<rect x="321.94" y="305.70" width="11.02" height="8.54" fill="#7CAE00"/>
<rect x="332.36" y="305.70" width="11.02" height="8.54" fill="#7CAE00"/>
<rect x="342.78" y="305.70" width="10.42" height="8.54" fill="#F0F0F0"/>
<rect x="301.10" y="313.64" width="11.02" height="8.54" fill="#00BFC4"/>
<rect x="311.52" y="313.64" width="11.02" height="8.54" fill="#00BFC4"/>
<rect x="321.94" y="313.64" width="11.02" height="8.54" fill="#7CAE00"/>
<rect x="332.36" y="313.64" width="11.02" height="8.54" fill="#7CAE00"/>
<rect x="342.78" y="313.64" width="10.42" height="8.54" fill="#F0F0F0"/>
<rect x="301.10" y="321.58" width="11.02" height="8.54" fill="#00BFC4"/>
<rect x="311.52" y="321.58" width="11.02" height="8.54" fill="#00BFC4"/>
<rect x="321.94" y="321.58" width="11.02" height="8.54" fill="#00BFC4"/>
<rect x="332.36" y="321.58" width="11.02" height="8.54" fill="#C77CFF"/>
<rect x="342.78" y="321.58" width="10.42" height="8.54" fill="#595959"/>
<rect x="301.10" y="329.52" width="11.02" height="8.54" fill="#00BFC4"/>
<rect x="311.52" y="329.52" width="11.02" height="8.54" fill="#00BFC4"/>
<rect x="321.94" y="329.52" width="11.02" height="8.54" fill="#F8766D"/>
<rect x="332.36" y="329.52" width="11.02" height="8.54" fill="#F8766D"/>
<rect x="342.78" y="329.52" width="10.42" height="8.54" fill="#F0F0F0"/>
<rect x="301.10" y="337.46" width="11.02" height="8.54" fill="#00BFC4"/>
<rect x="311.52" y="337.46" width="11.02" height="8.54" fill="#00BFC4"/>
<rect x="321.94" y="337.46" width="11.02" height="8.54" fill="#7CAE00"/>
<rect x="332.36" y="337.46" width="11.02" height="8.54" fill="#7CAE00"/>
<rect x="342.78" y="337.46" width="10.42" height="8.54" fill="#F0F0F0"/>
<rect x="301.10" y="345.40" width="11.02" height="8.54" fill="#F8766D"/>
<rect x="311.52" y="345.40" width="11.02" height="8.54" fill="#F8766D"/>
<rect x="321.94" y="345.40" width="11.02" height="8.54" fill="#F8766D"/>
<rect x="332.36" y="345.40" width="11.02" height="8.54" fill="#F8766D"/>
<rect x="342.78" y="345.40" width="10.42" height="8.54" fill="#595959"/>
<rect x="301.10" y="353.34" width="11.02" height="8.54" fill="#00BFC4"/>
<rect x="311.52" y="353.34" width="11.02" height="8.54" fill="#00BFC4"/>
<rect x="321.94" y="353.34" width="11.02" height="8.54" fill="#7CAE00"/>
<rect x="332.36" y="353.34" width="11.02" height="8.54" fill="#7CAE00"/>
<rect x="342.78" y="353.34" width="10.42" height="8.54" fill="#F0F0F0"/>
<rect x="301.10" y="361.28" width="11.02" height="8.54" fill="#00BFC4"/>
<rect x="311.52" y="361.28" width="11.02" height="8.54" fill="#00BFC4"/>
<rect x="321.94" y="361.28" width="11.02" height="8.54" fill="#F8766D"/>
<rect x="332.36" y="361.28" width="11.02" height="8.54" fill="#F8766D"/>
<rect x="342.78" y="361.28" width="10.42" height="8.54" fill="#595959"/>
<rect x="301.10" y="369.22" width="11.02" height="8.54" fill="#00BFC4"/>
<rect x="311.52" y="369.22" width="11.02" height="8.54" fill="#00BFC4"/>
<rect x="321.94" y="369.22" width="11.02" height="8.54" fill="#7CAE00"/>
<rect x="332.36" y="369.22" width="11.02" height="8.54" fill="#7CAE00"/>
<rect x="342.78" y="369.22" width="10.42" height="8.54" fill="#F0F0F0"/>
<rect x="301.10" y="377.16" width="11.02" height="8.54" fill="#00BFC4"/>
<rect x="311.52" y="377.16" width="11.02" height="8.54" fill="#00BFC4"/>
<rect x="321.94" y="377.16" width="11.02" height="8.54" fill="#00BFC4"/>
<rect x="332.36" y="377.16" width="11.02" height="8.54" fill="#C77CFF"/>
<rect x="342.78" y="377.16" width="10.42" height="8.54" fill="#595959"/>
<rect x="301.10" y="385.10" width="11.02" height="8.54" fill="#7CAE00"/>
<rect x="311.52" y="385.10" width="11.02" height="8.54" fill="#00BFC4"/>
<rect x="321.94" y="385.10" width="11.02" height="8.54" fill="#7CAE00"/>
<rect x="332.36" y="385.10" width="11.02" height="8.54" fill="#7CAE00"/>
<rect x="342.78" y="385.10" width="10.42" height="8.54" fill="#F0F0F0"/>
<rect x="301.10" y="393.04" width="11.02" height="8.54" fill="#00BFC4"/>
<rect x="311.52" y="393.04" width="11.02" height="8.54" fill="#00BFC4"/>
<rect x="321.94" y="393.04" width="11.02" height="8.54" fill="#7CAE00"/>
<rect x="332.36" y="393.04" width="11.02" height="8.54" fill="#7CAE00"/>
<rect x="342.78" y="393.04" width="10.42" height="8.54" fill="#F0F0F0"/>
<rect x="301.10" y="400.98" width="11.02" height="8.54" fill="#00BFC4"/>
<rect x="311.52" y="400.98" width="11.02" height="8.54" fill="#00BFC4"/>
<rect x="321.94" y="400.98" width="11.02" height="8.54" fill="#7CAE00"/>
<rect x="332.36" y="400.98" width="11.02" height="8.54" fill="#7CAE00"/>
<rect x="342.78" y="400.98" width="10.42" height="8.54" fill="#F0F0F0"/>
<rect x="301.10" y="408.92" width="11.02" height="8.54" fill="#7CAE00"/>
<rect x="311.52" y="408.92" width="11.02" height="8.54" fill="#00BFC4"/>
<rect x="321.94" y="408.92" width="11.02" height="8.54" fill="#7CAE00"/>
<rect x="332.36" y="408.92" width="11.02" height="8.54" fill="#7CAE00"/>
<rect x="342.78" y="408.92" width="10.42" height="8.54" fill="#F0F0F0"/>
<rect x="301.10" y="416.86" width="11.02" height="8.54" fill="#F8766D"/>
<rect x="311.52" y="416.86" width="11.02" height="8.54" fill="#F8766D"/>
<rect x="321.94" y="416.86" width="11.02" height="8.54" fill="#F8766D"/>
<rect x="332.36" y="416.86" width="11.02" height="8.54" fill="#F8766D"/>
<rect x="342.78" y="416.86" width="10.42" height="8.54" fill="#595959"/>
<rect x="301.10" y="424.80" width="11.02" height="8.54" fill="#C77CFF"/>
<rect x="311.52" y="424.80" width="11.02" height="8.54" fill="#00BFC4"/>
<rect x="321.94" y="424.80" width="11.02" height="8.54" fill="#7CAE00"/>
<rect x="332.36" y="424.80" width="11.02" height="8.54" fill="#7CAE00"/>
<rect x="342.78" y="424.80" width="10.42" height="8.54" fill="#595959"/>
<rect x="301.10" y="432.74" width="11.02" height="8.54" fill="#7CAE00"/>
<rect x="311.52" y="432.74" width="11.02" height="8.54" fill="#00BFC4"/>
<rect x="321.94" y="432.74" width="11.02" height="8.54" fill="#7CAE00"/>
<rect x="332.36" y="432.74" width="11.02" height="8.54" fill="#7CAE00"/>
<rect x="342.78" y="432.74" width="10.42" height="8.54" fill="#F0F0F0"/>
<rect x="301.10" y="440.68" width="11.02" height="8.54" fill="#00BFC4"/>
<rect x="311.52" y="440.68" width="11.02" height="8.54" fill="#00BFC4"/>
<rect x="321.94" y="440.68" width="11.02" height="8.54" fill="#00BFC4"/>
<rect x="332.36" y="440.68" width="11.02" height="8.54" fill="#7CAE00"/>
<rect x="342.78" y="440.68" width="10.42" height="8.54" fill="#F0F0F0"/>
<rect x="301.10" y="448.62" width="11.02" height="8.54" fill="#00BFC4"/>
<rect x="311.52" y="448.62" width="11.02" height="8.54" fill="#00BFC4"/>
<rect x="321.94" y="448.62" width="11.02" height="8.54" fill="#7CAE00"/>
<rect x="332.36" y="448.62" width="11.02" height="8.54" fill="#7CAE00"/>
<rect x="342.78" y="448.62" width="10.42" height="8.54" fill="#F0F0F0"/>
<rect x="301.10" y="456.56" width="11.02" height="7.94" fill="#00BFC4"/>
<rect x="311.52" y="456.56" width="11.02" height="7.94" fill="#00BFC4"/>
<rect x="321.94" y="456.56" width="11.02" height="7.94" fill="#7CAE00"/>
<rect x="332.36" y="456.56" width="11.02" height="7.94" fill="#7CAE00"/>
<rect x="342.78" y="456.56" width="10.42" height="7.94" fill="#F0F0F0"/>
<rect x="300.70" y="59.20" width="53.30" height="405.80" fill="none" stroke="#333333" stroke-width="1.3"/>
<line x1="307.30" y1="465.50" x2="307.30" y2="471.30" stroke="#333333" stroke-width="1"/>
<text x="310.80" y="474.70" font-size="10.6" text-anchor="end" transform="rotate(-90 310.80 474.70)">SNPs</text>
<line x1="316.90" y1="465.50" x2="316.90" y2="471.30" stroke="#333333" stroke-width="1"/>
<text x="320.40" y="474.70" font-size="10.6" text-anchor="end" transform="rotate(-90 320.40 474.70)">RNAseq</text>
<line x1="326.50" y1="465.50" x2="326.50" y2="471.30" stroke="#333333" stroke-width="1"/>
<text x="330.00" y="474.70" font-size="10.6" text-anchor="end" transform="rotate(-90 330.00 474.70)">CDK</text>
<line x1="336.40" y1="465.50" x2="336.40" y2="471.30" stroke="#333333" stroke-width="1"/>
<text x="339.90" y="474.70" font-size="10.6" text-anchor="end" transform="rotate(-90 339.90 474.70)">SIRMS</text>
<line x1="345.90" y1="465.50" x2="345.90" y2="471.30" stroke="#333333" stroke-width="1"/>
<text x="349.40" y="474.70" font-size="10.6" text-anchor="end" transform="rotate(-90 349.40 474.70)">Others</text>
<text x="330.40" y="43.00" font-size="9.5" text-anchor="middle">Input</text>
<text x="330.40" y="54.30" font-size="9.5" text-anchor="middle">data</text>
<rect x="359.50" y="59.55" width="10.57" height="8.54" fill="#595959"/>
<rect x="369.47" y="59.55" width="10.57" height="8.54" fill="#F0F0F0"/>
<rect x="379.43" y="59.55" width="10.57" height="8.54" fill="#F0F0F0"/>
<rect x="389.40" y="59.55" width="10.57" height="8.54" fill="#F0F0F0"/>
<rect x="399.37" y="59.55" width="10.57" height="8.54" fill="#F0F0F0"/>
<rect x="409.33" y="59.55" width="9.97" height="8.54" fill="#595959"/>
<rect x="359.50" y="67.49" width="10.57" height="8.54" fill="#595959"/>
<rect x="369.47" y="67.49" width="10.57" height="8.54" fill="#F0F0F0"/>
<rect x="379.43" y="67.49" width="10.57" height="8.54" fill="#F0F0F0"/>
<rect x="389.40" y="67.49" width="10.57" height="8.54" fill="#F0F0F0"/>
<rect x="399.37" y="67.49" width="10.57" height="8.54" fill="#F0F0F0"/>
<rect x="409.33" y="67.49" width="9.97" height="8.54" fill="#595959"/>
<rect x="359.50" y="75.43" width="10.57" height="8.54" fill="#595959"/>
<rect x="369.47" y="75.43" width="10.57" height="8.54" fill="#F0F0F0"/>
<rect x="379.43" y="75.43" width="10.57" height="8.54" fill="#F0F0F0"/>
<rect x="389.40" y="75.43" width="10.57" height="8.54" fill="#F0F0F0"/>
<rect x="399.37" y="75.43" width="10.57" height="8.54" fill="#F0F0F0"/>
<rect x="409.33" y="75.43" width="9.97" height="8.54" fill="#F0F0F0"/>
<rect x="359.50" y="83.37" width="10.57" height="8.54" fill="#595959"/>
<rect x="369.47" y="83.37" width="10.57" height="8.54" fill="#F0F0F0"/>
<rect x="379.43" y="83.37" width="10.57" height="8.54" fill="#F0F0F0"/>
<rect x="389.40" y="83.37" width="10.57" height="8.54" fill="#F0F0F0"/>
<rect x="399.37" y="83.37" width="10.57" height="8.54" fill="#F0F0F0"/>
<rect x="409.33" y="83.37" width="9.97" height="8.54" fill="#595959"/>
<rect x="359.50" y="91.31" width="10.57" height="8.54" fill="#595959"/>
<rect x="369.47" y="91.31" width="10.57" height="8.54" fill="#F0F0F0"/>
<rect x="379.43" y="91.31" width="10.57" height="8.54" fill="#F0F0F0"/>
<rect x="389.40" y="91.31" width="10.57" height="8.54" fill="#F0F0F0"/>
<rect x="399.37" y="91.31" width="10.57" height="8.54" fill="#F0F0F0"/>
<rect x="409.33" y="91.31" width="9.97" height="8.54" fill="#595959"/>
<rect x="359.50" y="99.25" width="10.57" height="8.54" fill="#F0F0F0"/>
<rect x="369.47" y="99.25" width="10.57" height="8.54" fill="#F0F0F0"/>
<rect x="379.43" y="99.25" width="10.57" height="8.54" fill="#F0F0F0"/>
<rect x="389.40" y="99.25" width="10.57" height="8.54" fill="#F0F0F0"/>
<rect x="399.37" y="99.25" width="10.57" height="8.54" fill="#595959"/>
<rect x="409.33" y="99.25" width="9.97" height="8.54" fill="#F0F0F0"/>
<rect x="359.50" y="107.19" width="10.57" height="8.54" fill="#F0F0F0"/>
<rect x="369.47" y="107.19" width="10.57" height="8.54" fill="#F0F0F0"/>
<rect x="379.43" y="107.19" width="10.57" height="8.54" fill="#F0F0F0"/>
<rect x="389.40" y="107.19" width="10.57" height="8.54" fill="#F0F0F0"/>
<rect x="399.37" y="107.19" width="10.57" height="8.54" fill="#595959"/>
<rect x="409.33" y="107.19" width="9.97" height="8.54" fill="#F0F0F0"/>
<rect x="359.50" y="115.13" width="10.57" height="8.54" fill="#595959"/>
<rect x="369.47" y="115.13" width="10.57" height="8.54" fill="#F0F0F0"/>
<rect x="379.43" y="115.13" width="10.57" height="8.54" fill="#F0F0F0"/>
<rect x="389.40" y="115.13" width="10.57" height="8.54" fill="#F0F0F0"/>
<rect x="399.37" y="115.13" width="10.57" height="8.54" fill="#F0F0F0"/>
<rect x="409.33" y="115.13" width="9.97" height="8.54" fill="#F0F0F0"/>
<rect x="359.50" y="123.07" width="10.57" height="8.54" fill="#F0F0F0"/>
<rect x="369.47" y="123.07" width="10.57" height="8.54" fill="#F0F0F0"/>
<rect x="379.43" y="123.07" width="10.57" height="8.54" fill="#F0F0F0"/>
<rect x="389.40" y="123.07" width="10.57" height="8.54" fill="#F0F0F0"/>
<rect x="399.37" y="123.07" width="10.57" height="8.54" fill="#595959"/>
<rect x="409.33" y="123.07" width="9.97" height="8.54" fill="#F0F0F0"/>
<rect x="359.50" y="131.01" width="10.57" height="8.54" fill="#595959"/>
<rect x="369.47" y="131.01" width="10.57" height="8.54" fill="#F0F0F0"/>
<rect x="379.43" y="131.01" width="10.57" height="8.54" fill="#F0F0F0"/>
<rect x="389.40" y="131.01" width="10.57" height="8.54" fill="#F0F0F0"/>
<rect x="399.37" y="131.01" width="10.57" height="8.54" fill="#F0F0F0"/>
<rect x="409.33" y="131.01" width="9.97" height="8.54" fill="#F0F0F0"/>
<rect x="359.50" y="138.95" width="10.57" height="8.54" fill="#595959"/>
<rect x="369.47" y="138.95" width="10.57" height="8.54" fill="#F0F0F0"/>
<rect x="379.43" y="138.95" width="10.57" height="8.54" fill="#F0F0F0"/>
<rect x="389.40" y="138.95" width="10.57" height="8.54" fill="#F0F0F0"/>
<rect x="399.37" y="138.95" width="10.57" height="8.54" fill="#F0F0F0"/>
<rect x="409.33" y="138.95" width="9.97" height="8.54" fill="#F0F0F0"/>
<rect x="359.50" y="146.89" width="10.57" height="8.54" fill="#595959"/>
<rect x="369.47" y="146.89" width="10.57" height="8.54" fill="#F0F0F0"/>
<rect x="379.43" y="146.89" width="10.57" height="8.54" fill="#F0F0F0"/>
<rect x="389.40" y="146.89" width="10.57" height="8.54" fill="#F0F0F0"/>
<rect x="399.37" y="146.89" width="10.57" height="8.54" fill="#F0F0F0"/>
<rect x="409.33" y="146.89" width="9.97" height="8.54" fill="#F0F0F0"/>
<rect x="359.50" y="154.83" width="10.57" height="8.54" fill="#595959"/>
<rect x="369.47" y="154.83" width="10.57" height="8.54" fill="#F0F0F0"/>
<rect x="379.43" y="154.83" width="10.57" height="8.54" fill="#F0F0F0"/>
<rect x="389.40" y="154.83" width="10.57" height="8.54" fill="#F0F0F0"/>
<rect x="399.37" y="154.83" width="10.57" height="8.54" fill="#F0F0F0"/>
<rect x="409.33" y="154.83" width="9.97" height="8.54" fill="#F0F0F0"/>
<rect x="359.50" y="162.77" width="10.57" height="8.54" fill="#F0F0F0"/>
<rect x="369.47" y="162.77" width="10.57" height="8.54" fill="#F0F0F0"/>
<rect x="379.43" y="162.77" width="10.57" height="8.54" fill="#F0F0F0"/>
<rect x="389.40" y="162.77" width="10.57" height="8.54" fill="#F0F0F0"/>
<rect x="399.37" y="162.77" width="10.57" height="8.54" fill="#595959"/>
<rect x="409.33" y="162.77" width="9.97" height="8.54" fill="#F0F0F0"/>
<rect x="359.50" y="170.71" width="10.57" height="8.54" fill="#F0F0F0"/>
<rect x="369.47" y="170.71" width="10.57" height="8.54" fill="#F0F0F0"/>
<rect x="379.43" y="170.71" width="10.57" height="8.54" fill="#F0F0F0"/>
<rect x="389.40" y="170.71" width="10.57" height="8.54" fill="#F0F0F0"/>
<rect x="399.37" y="170.71" width="10.57" height="8.54" fill="#595959"/>
<rect x="409.33" y="170.71" width="9.97" height="8.54" fill="#F0F0F0"/>
<rect x="359.50" y="178.65" width="10.57" height="8.54" fill="#F0F0F0"/>
<rect x="369.47" y="178.65" width="10.57" height="8.54" fill="#F0F0F0"/>
<rect x="379.43" y="178.65" width="10.57" height="8.54" fill="#F0F0F0"/>
<rect x="389.40" y="178.65" width="10.57" height="8.54" fill="#F0F0F0"/>
<rect x="399.37" y="178.65" width="10.57" height="8.54" fill="#595959"/>
<rect x="409.33" y="178.65" width="9.97" height="8.54" fill="#F0F0F0"/>
<rect x="359.50" y="186.59" width="10.57" height="8.54" fill="#F0F0F0"/>
<rect x="369.47" y="186.59" width="10.57" height="8.54" fill="#F0F0F0"/>
<rect x="379.43" y="186.59" width="10.57" height="8.54" fill="#F0F0F0"/>
<rect x="389.40" y="186.59" width="10.57" height="8.54" fill="#F0F0F0"/>
<rect x="399.37" y="186.59" width="10.57" height="8.54" fill="#595959"/>
<rect x="409.33" y="186.59" width="9.97" height="8.54" fill="#F0F0F0"/>
<rect x="359.50" y="194.53" width="10.57" height="8.54" fill="#595959"/>
<rect x="369.47" y="194.53" width="10.57" height="8.54" fill="#F0F0F0"/>
<rect x="379.43" y="194.53" width="10.57" height="8.54" fill="#F0F0F0"/>
<rect x="389.40" y="194.53" width="10.57" height="8.54" fill="#F0F0F0"/>
<rect x="399.37" y="194.53" width="10.57" height="8.54" fill="#F0F0F0"/>
<rect x="409.33" y="194.53" width="9.97" height="8.54" fill="#F0F0F0"/>
<rect x="359.50" y="202.47" width="10.57" height="8.54" fill="#F0F0F0"/>
<rect x="369.47" y="202.47" width="10.57" height="8.54" fill="#F0F0F0"/>
<rect x="379.43" y="202.47" width="10.57" height="8.54" fill="#F0F0F0"/>
<rect x="389.40" y="202.47" width="10.57" height="8.54" fill="#F0F0F0"/>
<rect x="399.37" y="202.47" width="10.57" height="8.54" fill="#595959"/>
<rect x="409.33" y="202.47" width="9.97" height="8.54" fill="#F0F0F0"/>
<rect x="359.50" y="210.41" width="10.57" height="8.54" fill="#595959"/>
<rect x="369.47" y="210.41" width="10.57" height="8.54" fill="#F0F0F0"/>
<rect x="379.43" y="210.41" width="10.57" height="8.54" fill="#F0F0F0"/>
<rect x="389.40" y="210.41" width="10.57" height="8.54" fill="#F0F0F0"/>
<rect x="399.37" y="210.41" width="10.57" height="8.54" fill="#F0F0F0"/>
<rect x="409.33" y="210.41" width="9.97" height="8.54" fill="#F0F0F0"/>
<rect x="359.50" y="218.35" width="10.57" height="8.54" fill="#F0F0F0"/>
<rect x="369.47" y="218.35" width="10.57" height="8.54" fill="#F0F0F0"/>
<rect x="379.43" y="218.35" width="10.57" height="8.54" fill="#F0F0F0"/>
<rect x="389.40" y="218.35" width="10.57" height="8.54" fill="#F0F0F0"/>
<rect x="399.37" y="218.35" width="10.57" height="8.54" fill="#595959"/>
<rect x="409.33" y="218.35" width="9.97" height="8.54" fill="#F0F0F0"/>
<rect x="359.50" y="226.29" width="10.57" height="8.54" fill="#F0F0F0"/>
<rect x="369.47" y="226.29" width="10.57" height="8.54" fill="#F0F0F0"/>
<rect x="379.43" y="226.29" width="10.57" height="8.54" fill="#F0F0F0"/>
<rect x="389.40" y="226.29" width="10.57" height="8.54" fill="#F0F0F0"/>
<rect x="399.37" y="226.29" width="10.57" height="8.54" fill="#595959"/>
<rect x="409.33" y="226.29" width="9.97" height="8.54" fill="#F0F0F0"/>
<rect x="359.50" y="234.23" width="10.57" height="8.54" fill="#595959"/>
<rect x="369.47" y="234.23" width="10.57" height="8.54" fill="#595959"/>
<rect x="379.43" y="234.23" width="10.57" height="8.54" fill="#F0F0F0"/>
<rect x="389.40" y="234.23" width="10.57" height="8.54" fill="#F0F0F0"/>
<rect x="399.37" y="234.23" width="10.57" height="8.54" fill="#F0F0F0"/>
<rect x="409.33" y="234.23" width="9.97" height="8.54" fill="#F0F0F0"/>
<rect x="359.50" y="242.17" width="10.57" height="8.54" fill="#595959"/>
<rect x="369.47" y="242.17" width="10.57" height="8.54" fill="#595959"/>
<rect x="379.43" y="242.17" width="10.57" height="8.54" fill="#F0F0F0"/>
<rect x="389.40" y="242.17" width="10.57" height="8.54" fill="#F0F0F0"/>
<rect x="399.37" y="242.17" width="10.57" height="8.54" fill="#F0F0F0"/>
<rect x="409.33" y="242.17" width="9.97" height="8.54" fill="#F0F0F0"/>
<rect x="359.50" y="250.11" width="10.57" height="8.54" fill="#595959"/>
<rect x="369.47" y="250.11" width="10.57" height="8.54" fill="#595959"/>
<rect x="379.43" y="250.11" width="10.57" height="8.54" fill="#F0F0F0"/>
<rect x="389.40" y="250.11" width="10.57" height="8.54" fill="#F0F0F0"/>
<rect x="399.37" y="250.11" width="10.57" height="8.54" fill="#F0F0F0"/>
<rect x="409.33" y="250.11" width="9.97" height="8.54" fill="#F0F0F0"/>
<rect x="359.50" y="258.05" width="10.57" height="8.54" fill="#595959"/>
<rect x="369.47" y="258.05" width="10.57" height="8.54" fill="#595959"/>
<rect x="379.43" y="258.05" width="10.57" height="8.54" fill="#F0F0F0"/>
<rect x="389.40" y="258.05" width="10.57" height="8.54" fill="#F0F0F0"/>
<rect x="399.37" y="258.05" width="10.57" height="8.54" fill="#F0F0F0"/>
<rect x="409.33" y="258.05" width="9.97" height="8.54" fill="#F0F0F0"/>
<rect x="359.50" y="266.00" width="10.57" height="8.54" fill="#F0F0F0"/>
<rect x="369.47" y="266.00" width="10.57" height="8.54" fill="#595959"/>
<rect x="379.43" y="266.00" width="10.57" height="8.54" fill="#F0F0F0"/>
<rect x="389.40" y="266.00" width="10.57" height="8.54" fill="#F0F0F0"/>
<rect x="399.37" y="266.00" width="10.57" height="8.54" fill="#F0F0F0"/>
<rect x="409.33" y="266.00" width="9.97" height="8.54" fill="#F0F0F0"/>
<rect x="359.50" y="273.94" width="10.57" height="8.54" fill="#F0F0F0"/>
<rect x="369.47" y="273.94" width="10.57" height="8.54" fill="#F0F0F0"/>
<rect x="379.43" y="273.94" width="10.57" height="8.54" fill="#F0F0F0"/>
<rect x="389.40" y="273.94" width="10.57" height="8.54" fill="#F0F0F0"/>
<rect x="399.37" y="273.94" width="10.57" height="8.54" fill="#595959"/>
<rect x="409.33" y="273.94" width="9.97" height="8.54" fill="#F0F0F0"/>
<rect x="359.50" y="281.88" width="10.57" height="8.54" fill="#F0F0F0"/>
<rect x="369.47" y="281.88" width="10.57" height="8.54" fill="#F0F0F0"/>
<rect x="379.43" y="281.88" width="10.57" height="8.54" fill="#F0F0F0"/>
<rect x="389.40" y="281.88" width="10.57" height="8.54" fill="#F0F0F0"/>
<rect x="399.37" y="281.88" width="10.57" height="8.54" fill="#595959"/>
<rect x="409.33" y="281.88" width="9.97" height="8.54" fill="#F0F0F0"/>
<rect x="359.50" y="289.82" width="10.57" height="8.54" fill="#595959"/>
<rect x="369.47" y="289.82" width="10.57" height="8.54" fill="#F0F0F0"/>
<rect x="379.43" y="289.82" width="10.57" height="8.54" fill="#F0F0F0"/>
<rect x="389.40" y="289.82" width="10.57" height="8.54" fill="#F0F0F0"/>
<rect x="399.37" y="289.82" width="10.57" height="8.54" fill="#F0F0F0"/>
<rect x="409.33" y="289.82" width="9.97" height="8.54" fill="#F0F0F0"/>
<rect x="359.50" y="297.76" width="10.57" height="8.54" fill="#595959"/>
<rect x="369.47" y="297.76" width="10.57" height="8.54" fill="#F0F0F0"/>
<rect x="379.43" y="297.76" width="10.57" height="8.54" fill="#595959"/>
<rect x="389.40" y="297.76" width="10.57" height="8.54" fill="#F0F0F0"/>
<rect x="399.37" y="297.76" width="10.57" height="8.54" fill="#F0F0F0"/>
<rect x="409.33" y="297.76" width="9.97" height="8.54" fill="#F0F0F0"/>
<rect x="359.50" y="305.70" width="10.57" height="8.54" fill="#595959"/>
<rect x="369.47" y="305.70" width="10.57" height="8.54" fill="#F0F0F0"/>
<rect x="379.43" y="305.70" width="10.57" height="8.54" fill="#595959"/>
<rect x="389.40" y="305.70" width="10.57" height="8.54" fill="#F0F0F0"/>
<rect x="399.37" y="305.70" width="10.57" height="8.54" fill="#F0F0F0"/>
<rect x="409.33" y="305.70" width="9.97" height="8.54" fill="#F0F0F0"/>
<rect x="359.50" y="313.64" width="10.57" height="8.54" fill="#F0F0F0"/>
<rect x="369.47" y="313.64" width="10.57" height="8.54" fill="#F0F0F0"/>
<rect x="379.43" y="313.64" width="10.57" height="8.54" fill="#F0F0F0"/>
<rect x="389.40" y="313.64" width="10.57" height="8.54" fill="#F0F0F0"/>
<rect x="399.37" y="313.64" width="10.57" height="8.54" fill="#595959"/>
<rect x="409.33" y="313.64" width="9.97" height="8.54" fill="#F0F0F0"/>
<rect x="359.50" y="321.58" width="10.57" height="8.54" fill="#595959"/>
<rect x="369.47" y="321.58" width="10.57" height="8.54" fill="#F0F0F0"/>
<rect x="379.43" y="321.58" width="10.57" height="8.54" fill="#F0F0F0"/>
<rect x="389.40" y="321.58" width="10.57" height="8.54" fill="#F0F0F0"/>
<rect x="399.37" y="321.58" width="10.57" height="8.54" fill="#F0F0F0"/>
<rect x="409.33" y="321.58" width="9.97" height="8.54" fill="#F0F0F0"/>
<rect x="359.50" y="329.52" width="10.57" height="8.54" fill="#F0F0F0"/>
<rect x="369.47" y="329.52" width="10.57" height="8.54" fill="#F0F0F0"/>
<rect x="379.43" y="329.52" width="10.57" height="8.54" fill="#F0F0F0"/>
<rect x="389.40" y="329.52" width="10.57" height="8.54" fill="#F0F0F0"/>
<rect x="399.37" y="329.52" width="10.57" height="8.54" fill="#595959"/>
<rect x="409.33" y="329.52" width="9.97" height="8.54" fill="#F0F0F0"/>
<rect x="359.50" y="337.46" width="10.57" height="8.54" fill="#595959"/>
<rect x="369.47" y="337.46" width="10.57" height="8.54" fill="#F0F0F0"/>
<rect x="379.43" y="337.46" width="10.57" height="8.54" fill="#595959"/>
<rect x="389.40" y="337.46" width="10.57" height="8.54" fill="#F0F0F0"/>
<rect x="399.37" y="337.46" width="10.57" height="8.54" fill="#F0F0F0"/>
<rect x="409.33" y="337.46" width="9.97" height="8.54" fill="#F0F0F0"/>
<rect x="359.50" y="345.40" width="10.57" height="8.54" fill="#F0F0F0"/>
<rect x="369.47" y="345.40" width="10.57" height="8.54" fill="#F0F0F0"/>
<rect x="379.43" y="345.40" width="10.57" height="8.54" fill="#F0F0F0"/>
<rect x="389.40" y="345.40" width="10.57" height="8.54" fill="#F0F0F0"/>
<rect x="399.37" y="345.40" width="10.57" height="8.54" fill="#595959"/>
<rect x="409.33" y="345.40" width="9.97" height="8.54" fill="#F0F0F0"/>
<rect x="359.50" y="353.34" width="10.57" height="8.54" fill="#595959"/>
<rect x="369.47" y="353.34" width="10.57" height="8.54" fill="#F0F0F0"/>
<rect x="379.43" y="353.34" width="10.57" height="8.54" fill="#595959"/>
<rect x="389.40" y="353.34" width="10.57" height="8.54" fill="#F0F0F0"/>
<rect x="399.37" y="353.34" width="10.57" height="8.54" fill="#F0F0F0"/>
<rect x="409.33" y="353.34" width="9.97" height="8.54" fill="#F0F0F0"/>
<rect x="359.50" y="361.28" width="10.57" height="8.54" fill="#F0F0F0"/>
<rect x="369.47" y="361.28" width="10.57" height="8.54" fill="#F0F0F0"/>
<rect x="379.43" y="361.28" width="10.57" height="8.54" fill="#F0F0F0"/>
<rect x="389.40" y="361.28" width="10.57" height="8.54" fill="#F0F0F0"/>
<rect x="399.37" y="361.28" width="10.57" height="8.54" fill="#595959"/>
<rect x="409.33" y="361.28" width="9.97" height="8.54" fill="#F0F0F0"/>
<rect x="359.50" y="369.22" width="10.57" height="8.54" fill="#595959"/>
<rect x="369.47" y="369.22" width="10.57" height="8.54" fill="#595959"/>
<rect x="379.43" y="369.22" width="10.57" height="8.54" fill="#F0F0F0"/>
<rect x="389.40" y="369.22" width="10.57" height="8.54" fill="#F0F0F0"/>
<rect x="399.37" y="369.22" width="10.57" height="8.54" fill="#F0F0F0"/>
<rect x="409.33" y="369.22" width="9.97" height="8.54" fill="#F0F0F0"/>
<rect x="359.50" y="377.16" width="10.57" height="8.54" fill="#595959"/>
<rect x="369.47" y="377.16" width="10.57" height="8.54" fill="#F0F0F0"/>
<rect x="379.43" y="377.16" width="10.57" height="8.54" fill="#F0F0F0"/>
<rect x="389.40" y="377.16" width="10.57" height="8.54" fill="#F0F0F0"/>
<rect x="399.37" y="377.16" width="10.57" height="8.54" fill="#F0F0F0"/>
<rect x="409.33" y="377.16" width="9.97" height="8.54" fill="#F0F0F0"/>
<rect x="359.50" y="385.10" width="10.57" height="8.54" fill="#595959"/>
<rect x="369.47" y="385.10" width="10.57" height="8.54" fill="#F0F0F0"/>
<rect x="379.43" y="385.10" width="10.57" height="8.54" fill="#F0F0F0"/>
<rect x="389.40" y="385.10" width="10.57" height="8.54" fill="#F0F0F0"/>
<rect x="399.37" y="385.10" width="10.57" height="8.54" fill="#F0F0F0"/>
<rect x="409.33" y="385.10" width="9.97" height="8.54" fill="#F0F0F0"/>
<rect x="359.50" y="393.04" width="10.57" height="8.54" fill="#F0F0F0"/>
<rect x="369.47" y="393.04" width="10.57" height="8.54" fill="#F0F0F0"/>
<rect x="379.43" y="393.04" width="10.57" height="8.54" fill="#F0F0F0"/>
<rect x="389.40" y="393.04" width="10.57" height="8.54" fill="#F0F0F0"/>
<rect x="399.37" y="393.04" width="10.57" height="8.54" fill="#595959"/>
<rect x="409.33" y="393.04" width="9.97" height="8.54" fill="#F0F0F0"/>
<rect x="359.50" y="400.98" width="10.57" height="8.54" fill="#595959"/>
<rect x="369.47" y="400.98" width="10.57" height="8.54" fill="#F0F0F0"/>
<rect x="379.43" y="400.98" width="10.57" height="8.54" fill="#595959"/>
<rect x="389.40" y="400.98" width="10.57" height="8.54" fill="#F0F0F0"/>
<rect x="399.37" y="400.98" width="10.57" height="8.54" fill="#F0F0F0"/>
<rect x="409.33" y="400.98" width="9.97" height="8.54" fill="#F0F0F0"/>
<rect x="359.50" y="408.92" width="10.57" height="8.54" fill="#595959"/>
<rect x="369.47" y="408.92" width="10.57" height="8.54" fill="#F0F0F0"/>
<rect x="379.43" y="408.92" width="10.57" height="8.54" fill="#F0F0F0"/>
<rect x="389.40" y="408.92" width="10.57" height="8.54" fill="#F0F0F0"/>
<rect x="399.37" y="408.92" width="10.57" height="8.54" fill="#F0F0F0"/>
<rect x="409.33" y="408.92" width="9.97" height="8.54" fill="#F0F0F0"/>
<rect x="359.50" y="416.86" width="10.57" height="8.54" fill="#F0F0F0"/>
<rect x="369.47" y="416.86" width="10.57" height="8.54" fill="#F0F0F0"/>
<rect x="379.43" y="416.86" width="10.57" height="8.54" fill="#F0F0F0"/>
<rect x="389.40" y="416.86" width="10.57" height="8.54" fill="#F0F0F0"/>
<rect x="399.37" y="416.86" width="10.57" height="8.54" fill="#595959"/>
<rect x="409.33" y="416.86" width="9.97" height="8.54" fill="#F0F0F0"/>
<rect x="359.50" y="424.80" width="10.57" height="8.54" fill="#F0F0F0"/>
<rect x="369.47" y="424.80" width="10.57" height="8.54" fill="#F0F0F0"/>
<rect x="379.43" y="424.80" width="10.57" height="8.54" fill="#F0F0F0"/>
<rect x="389.40" y="424.80" width="10.57" height="8.54" fill="#F0F0F0"/>
<rect x="399.37" y="424.80" width="10.57" height="8.54" fill="#595959"/>
<rect x="409.33" y="424.80" width="9.97" height="8.54" fill="#F0F0F0"/>
<rect x="359.50" y="432.74" width="10.57" height="8.54" fill="#595959"/>
<rect x="369.47" y="432.74" width="10.57" height="8.54" fill="#595959"/>
<rect x="379.43" y="432.74" width="10.57" height="8.54" fill="#F0F0F0"/>
<rect x="389.40" y="432.74" width="10.57" height="8.54" fill="#F0F0F0"/>
<rect x="399.37" y="432.74" width="10.57" height="8.54" fill="#F0F0F0"/>
<rect x="409.33" y="432.74" width="9.97" height="8.54" fill="#F0F0F0"/>
<rect x="359.50" y="440.68" width="10.57" height="8.54" fill="#F0F0F0"/>
<rect x="369.47" y="440.68" width="10.57" height="8.54" fill="#F0F0F0"/>
<rect x="379.43" y="440.68" width="10.57" height="8.54" fill="#F0F0F0"/>
<rect x="389.40" y="440.68" width="10.57" height="8.54" fill="#F0F0F0"/>
<rect x="399.37" y="440.68" width="10.57" height="8.54" fill="#595959"/>
<rect x="409.33" y="440.68" width="9.97" height="8.54" fill="#F0F0F0"/>
<rect x="359.50" y="448.62" width="10.57" height="8.54" fill="#595959"/>
<rect x="369.47" y="448.62" width="10.57" height="8.54" fill="#F0F0F0"/>
<rect x="379.43" y="448.62" width="10.57" height="8.54" fill="#595959"/>
<rect x="389.40" y="448.62" width="10.57" height="8.54" fill="#F0F0F0"/>
<rect x="399.37" y="448.62" width="10.57" height="8.54" fill="#F0F0F0"/>
<rect x="409.33" y="448.62" width="9.97" height="8.54" fill="#F0F0F0"/>
<rect x="359.50" y="456.56" width="10.57" height="7.94" fill="#595959"/>
<rect x="369.47" y="456.56" width="10.57" height="7.94" fill="#F0F0F0"/>
<rect x="379.43" y="456.56" width="10.57" height="7.94" fill="#F0F0F0"/>
<rect x="389.40" y="456.56" width="10.57" height="7.94" fill="#F0F0F0"/>
<rect x="399.37" y="456.56" width="10.57" height="7.94" fill="#F0F0F0"/>
<rect x="409.33" y="456.56" width="9.97" height="7.94" fill="#F0F0F0"/>
<rect x="358.90" y="59.20" width="61.00" height="405.80" fill="none" stroke="#333333" stroke-width="1.3"/>
<line x1="364.10" y1="465.50" x2="364.10" y2="471.30" stroke="#333333" stroke-width="1"/>
<text x="367.60" y="474.70" font-size="10.6" text-anchor="end" transform="rotate(-90 367.60 474.70)">Feature selection</text>
<line x1="374.95" y1="465.50" x2="374.95" y2="471.30" stroke="#333333" stroke-width="1"/>
<text x="378.45" y="474.70" font-size="10.6" text-anchor="end" transform="rotate(-90 378.45 474.70)">Linear dimensionality reduction</text>
<line x1="385.10" y1="465.50" x2="385.10" y2="471.30" stroke="#333333" stroke-width="1"/>
<text x="388.60" y="474.70" font-size="10.6" text-anchor="end" transform="rotate(-90 388.60 474.70)">Clustering analysis</text>
<line x1="394.80" y1="465.50" x2="394.80" y2="471.30" stroke="#333333" stroke-width="1"/>
<text x="398.30" y="474.70" font-size="10.6" text-anchor="end" transform="rotate(-90 398.30 474.70)">Non-linear dimensionality reduction</text>
<line x1="404.50" y1="465.50" x2="404.50" y2="471.30" stroke="#333333" stroke-width="1"/>
<text x="408.00" y="474.70" font-size="10.6" text-anchor="end" transform="rotate(-90 408.00 474.70)">No dimension reduction</text>
<line x1="414.40" y1="465.50" x2="414.40" y2="471.30" stroke="#333333" stroke-width="1"/>
<text x="417.90" y="474.70" font-size="10.6" text-anchor="end" transform="rotate(-90 417.90 474.70)">Others</text>
<text x="390.00" y="43.00" font-size="9.5" text-anchor="middle">Data</text>
<text x="390.00" y="54.30" font-size="9.5" text-anchor="middle">reduction</text>
<rect x="425.80" y="59.55" width="10.50" height="8.54" fill="#F0F0F0"/>
<rect x="435.70" y="59.55" width="10.50" height="8.54" fill="#F0F0F0"/>
<rect x="445.60" y="59.55" width="10.50" height="8.54" fill="#F0F0F0"/>
<rect x="455.50" y="59.55" width="10.50" height="8.54" fill="#F0F0F0"/>
<rect x="465.40" y="59.55" width="10.50" height="8.54" fill="#595959"/>
<rect x="475.30" y="59.55" width="9.90" height="8.54" fill="#F0F0F0"/>
<rect x="425.80" y="67.49" width="10.50" height="8.54" fill="#F0F0F0"/>
<rect x="435.70" y="67.49" width="10.50" height="8.54" fill="#F0F0F0"/>
<rect x="445.60" y="67.49" width="10.50" height="8.54" fill="#F0F0F0"/>
<rect x="455.50" y="67.49" width="10.50" height="8.54" fill="#F0F0F0"/>
<rect x="465.40" y="67.49" width="10.50" height="8.54" fill="#595959"/>
<rect x="475.30" y="67.49" width="9.90" height="8.54" fill="#F0F0F0"/>
<rect x="425.80" y="75.43" width="10.50" height="8.54" fill="#F0F0F0"/>
<rect x="435.70" y="75.43" width="10.50" height="8.54" fill="#F0F0F0"/>
<rect x="445.60" y="75.43" width="10.50" height="8.54" fill="#F0F0F0"/>
<rect x="455.50" y="75.43" width="10.50" height="8.54" fill="#F0F0F0"/>
<rect x="465.40" y="75.43" width="10.50" height="8.54" fill="#595959"/>
<rect x="475.30" y="75.43" width="9.90" height="8.54" fill="#F0F0F0"/>
<rect x="425.80" y="83.37" width="10.50" height="8.54" fill="#F0F0F0"/>
<rect x="435.70" y="83.37" width="10.50" height="8.54" fill="#F0F0F0"/>
<rect x="445.60" y="83.37" width="10.50" height="8.54" fill="#F0F0F0"/>
<rect x="455.50" y="83.37" width="10.50" height="8.54" fill="#F0F0F0"/>
<rect x="465.40" y="83.37" width="10.50" height="8.54" fill="#595959"/>
<rect x="475.30" y="83.37" width="9.90" height="8.54" fill="#F0F0F0"/>
<rect x="425.80" y="91.31" width="10.50" height="8.54" fill="#F0F0F0"/>
<rect x="435.70" y="91.31" width="10.50" height="8.54" fill="#F0F0F0"/>
<rect x="445.60" y="91.31" width="10.50" height="8.54" fill="#F0F0F0"/>
<rect x="455.50" y="91.31" width="10.50" height="8.54" fill="#F0F0F0"/>
<rect x="465.40" y="91.31" width="10.50" height="8.54" fill="#595959"/>
<rect x="475.30" y="91.31" width="9.90" height="8.54" fill="#F0F0F0"/>
<rect x="425.80" y="99.25" width="10.50" height="8.54" fill="#F0F0F0"/>
<rect x="435.70" y="99.25" width="10.50" height="8.54" fill="#F0F0F0"/>
<rect x="445.60" y="99.25" width="10.50" height="8.54" fill="#595959"/>
<rect x="455.50" y="99.25" width="10.50" height="8.54" fill="#F0F0F0"/>
<rect x="465.40" y="99.25" width="10.50" height="8.54" fill="#F0F0F0"/>
<rect x="475.30" y="99.25" width="9.90" height="8.54" fill="#F0F0F0"/>
<rect x="425.80" y="107.19" width="10.50" height="8.54" fill="#F0F0F0"/>
<rect x="435.70" y="107.19" width="10.50" height="8.54" fill="#F0F0F0"/>
<rect x="445.60" y="107.19" width="10.50" height="8.54" fill="#F0F0F0"/>
<rect x="455.50" y="107.19" width="10.50" height="8.54" fill="#F0F0F0"/>
<rect x="465.40" y="107.19" width="10.50" height="8.54" fill="#595959"/>
<rect x="475.30" y="107.19" width="9.90" height="8.54" fill="#F0F0F0"/>
<rect x="425.80" y="115.13" width="10.50" height="8.54" fill="#F0F0F0"/>
<rect x="435.70" y="115.13" width="10.50" height="8.54" fill="#F0F0F0"/>
<rect x="445.60" y="115.13" width="10.50" height="8.54" fill="#F0F0F0"/>
<rect x="455.50" y="115.13" width="10.50" height="8.54" fill="#F0F0F0"/>
<rect x="465.40" y="115.13" width="10.50" height="8.54" fill="#F0F0F0"/>
<rect x="475.30" y="115.13" width="9.90" height="8.54" fill="#595959"/>
<rect x="425.80" y="123.07" width="10.50" height="8.54" fill="#F0F0F0"/>
<rect x="435.70" y="123.07" width="10.50" height="8.54" fill="#595959"/>
<rect x="445.60" y="123.07" width="10.50" height="8.54" fill="#F0F0F0"/>
<rect x="455.50" y="123.07" width="10.50" height="8.54" fill="#F0F0F0"/>
<rect x="465.40" y="123.07" width="10.50" height="8.54" fill="#F0F0F0"/>
<rect x="475.30" y="123.07" width="9.90" height="8.54" fill="#F0F0F0"/>
<rect x="425.80" y="131.01" width="10.50" height="8.54" fill="#F0F0F0"/>
<rect x="435.70" y="131.01" width="10.50" height="8.54" fill="#F0F0F0"/>
<rect x="445.60" y="131.01" width="10.50" height="8.54" fill="#F0F0F0"/>
<rect x="455.50" y="131.01" width="10.50" height="8.54" fill="#F0F0F0"/>
<rect x="465.40" y="131.01" width="10.50" height="8.54" fill="#F0F0F0"/>
<rect x="475.30" y="131.01" width="9.90" height="8.54" fill="#595959"/>
<rect x="425.80" y="138.95" width="10.50" height="8.54" fill="#595959"/>
<rect x="435.70" y="138.95" width="10.50" height="8.54" fill="#F0F0F0"/>
<rect x="445.60" y="138.95" width="10.50" height="8.54" fill="#F0F0F0"/>
<rect x="455.50" y="138.95" width="10.50" height="8.54" fill="#F0F0F0"/>
<rect x="465.40" y="138.95" width="10.50" height="8.54" fill="#F0F0F0"/>
<rect x="475.30" y="138.95" width="9.90" height="8.54" fill="#F0F0F0"/>
<rect x="425.80" y="146.89" width="10.50" height="8.54" fill="#F0F0F0"/>
<rect x="435.70" y="146.89" width="10.50" height="8.54" fill="#F0F0F0"/>
<rect x="445.60" y="146.89" width="10.50" height="8.54" fill="#F0F0F0"/>
<rect x="455.50" y="146.89" width="10.50" height="8.54" fill="#F0F0F0"/>
<rect x="465.40" y="146.89" width="10.50" height="8.54" fill="#F0F0F0"/>
<rect x="475.30" y="146.89" width="9.90" height="8.54" fill="#595959"/>
<rect x="425.80" y="154.83" width="10.50" height="8.54" fill="#595959"/>
<rect x="435.70" y="154.83" width="10.50" height="8.54" fill="#F0F0F0"/>
<rect x="445.60" y="154.83" width="10.50" height="8.54" fill="#F0F0F0"/>
<rect x="455.50" y="154.83" width="10.50" height="8.54" fill="#F0F0F0"/>
<rect x="465.40" y="154.83" width="10.50" height="8.54" fill="#F0F0F0"/>
<rect x="475.30" y="154.83" width="9.90" height="8.54" fill="#F0F0F0"/>
<rect x="425.80" y="162.77" width="10.50" height="8.54" fill="#F0F0F0"/>
<rect x="435.70" y="162.77" width="10.50" height="8.54" fill="#F0F0F0"/>
<rect x="445.60" y="162.77" width="10.50" height="8.54" fill="#F0F0F0"/>
<rect x="455.50" y="162.77" width="10.50" height="8.54" fill="#F0F0F0"/>
<rect x="465.40" y="162.77" width="10.50" height="8.54" fill="#595959"/>
<rect x="475.30" y="162.77" width="9.90" height="8.54" fill="#F0F0F0"/>
<rect x="425.80" y="170.71" width="10.50" height="8.54" fill="#F0F0F0"/>
<rect x="435.70" y="170.71" width="10.50" height="8.54" fill="#F0F0F0"/>
<rect x="445.60" y="170.71" width="10.50" height="8.54" fill="#F0F0F0"/>
<rect x="455.50" y="170.71" width="10.50" height="8.54" fill="#F0F0F0"/>
<rect x="465.40" y="170.71" width="10.50" height="8.54" fill="#595959"/>
<rect x="475.30" y="170.71" width="9.90" height="8.54" fill="#F0F0F0"/>
<rect x="425.80" y="178.65" width="10.50" height="8.54" fill="#595959"/>
<rect x="435.70" y="178.65" width="10.50" height="8.54" fill="#F0F0F0"/>
<rect x="445.60" y="178.65" width="10.50" height="8.54" fill="#F0F0F0"/>
<rect x="455.50" y="178.65" width="10.50" height="8.54" fill="#F0F0F0"/>
<rect x="465.40" y="178.65" width="10.50" height="8.54" fill="#F0F0F0"/>
<rect x="475.30" y="178.65" width="9.90" height="8.54" fill="#F0F0F0"/>
<rect x="425.80" y="186.59" width="10.50" height="8.54" fill="#F0F0F0"/>
<rect x="435.70" y="186.59" width="10.50" height="8.54" fill="#F0F0F0"/>
<rect x="445.60" y="186.59" width="10.50" height="8.54" fill="#F0F0F0"/>
<rect x="455.50" y="186.59" width="10.50" height="8.54" fill="#F0F0F0"/>
<rect x="465.40" y="186.59" width="10.50" height="8.54" fill="#595959"/>
<rect x="475.30" y="186.59" width="9.90" height="8.54" fill="#F0F0F0"/>
<rect x="425.80" y="194.53" width="10.50" height="8.54" fill="#F0F0F0"/>
<rect x="435.70" y="194.53" width="10.50" height="8.54" fill="#F0F0F0"/>
<rect x="445.60" y="194.53" width="10.50" height="8.54" fill="#F0F0F0"/>
<rect x="455.50" y="194.53" width="10.50" height="8.54" fill="#F0F0F0"/>
<rect x="465.40" y="194.53" width="10.50" height="8.54" fill="#F0F0F0"/>
<rect x="475.30" y="194.53" width="9.90" height="8.54" fill="#595959"/>
<rect x="425.80" y="202.47" width="10.50" height="8.54" fill="#F0F0F0"/>
<rect x="435.70" y="202.47" width="10.50" height="8.54" fill="#595959"/>
<rect x="445.60" y="202.47" width="10.50" height="8.54" fill="#F0F0F0"/>
<rect x="455.50" y="202.47" width="10.50" height="8.54" fill="#F0F0F0"/>
<rect x="465.40" y="202.47" width="10.50" height="8.54" fill="#F0F0F0"/>
<rect x="475.30" y="202.47" width="9.90" height="8.54" fill="#F0F0F0"/>
<rect x="425.80" y="210.41" width="10.50" height="8.54" fill="#F0F0F0"/>
<rect x="435.70" y="210.41" width="10.50" height="8.54" fill="#F0F0F0"/>
<rect x="445.60" y="210.41" width="10.50" height="8.54" fill="#F0F0F0"/>
<rect x="455.50" y="210.41" width="10.50" height="8.54" fill="#F0F0F0"/>
<rect x="465.40" y="210.41" width="10.50" height="8.54" fill="#F0F0F0"/>
<rect x="475.30" y="210.41" width="9.90" height="8.54" fill="#595959"/>
<rect x="425.80" y="218.35" width="10.50" height="8.54" fill="#F0F0F0"/>
<rect x="435.70" y="218.35" width="10.50" height="8.54" fill="#F0F0F0"/>
<rect x="445.60" y="218.35" width="10.50" height="8.54" fill="#F0F0F0"/>
<rect x="455.50" y="218.35" width="10.50" height="8.54" fill="#F0F0F0"/>
<rect x="465.40" y="218.35" width="10.50" height="8.54" fill="#595959"/>
<rect x="475.30" y="218.35" width="9.90" height="8.54" fill="#F0F0F0"/>
<rect x="425.80" y="226.29" width="10.50" height="8.54" fill="#F0F0F0"/>
<rect x="435.70" y="226.29" width="10.50" height="8.54" fill="#F0F0F0"/>
<rect x="445.60" y="226.29" width="10.50" height="8.54" fill="#F0F0F0"/>
<rect x="455.50" y="226.29" width="10.50" height="8.54" fill="#F0F0F0"/>
<rect x="465.40" y="226.29" width="10.50" height="8.54" fill="#595959"/>
<rect x="475.30" y="226.29" width="9.90" height="8.54" fill="#F0F0F0"/>
<rect x="425.80" y="234.23" width="10.50" height="8.54" fill="#F0F0F0"/>
<rect x="435.70" y="234.23" width="10.50" height="8.54" fill="#F0F0F0"/>
<rect x="445.60" y="234.23" width="10.50" height="8.54" fill="#F0F0F0"/>
<rect x="455.50" y="234.23" width="10.50" height="8.54" fill="#F0F0F0"/>
<rect x="465.40" y="234.23" width="10.50" height="8.54" fill="#F0F0F0"/>
<rect x="475.30" y="234.23" width="9.90" height="8.54" fill="#595959"/>
<rect x="425.80" y="242.17" width="10.50" height="8.54" fill="#F0F0F0"/>
<rect x="435.70" y="242.17" width="10.50" height="8.54" fill="#F0F0F0"/>
<rect x="445.60" y="242.17" width="10.50" height="8.54" fill="#F0F0F0"/>
<rect x="455.50" y="242.17" width="10.50" height="8.54" fill="#F0F0F0"/>
<rect x="465.40" y="242.17" width="10.50" height="8.54" fill="#F0F0F0"/>
<rect x="475.30" y="242.17" width="9.90" height="8.54" fill="#595959"/>
<rect x="425.80" y="250.11" width="10.50" height="8.54" fill="#F0F0F0"/>
<rect x="435.70" y="250.11" width="10.50" height="8.54" fill="#F0F0F0"/>
<rect x="445.60" y="250.11" width="10.50" height="8.54" fill="#F0F0F0"/>
<rect x="455.50" y="250.11" width="10.50" height="8.54" fill="#F0F0F0"/>
<rect x="465.40" y="250.11" width="10.50" height="8.54" fill="#F0F0F0"/>
<rect x="475.30" y="250.11" width="9.90" height="8.54" fill="#595959"/>
<rect x="425.80" y="258.05" width="10.50" height="8.54" fill="#F0F0F0"/>
<rect x="435.70" y="258.05" width="10.50" height="8.54" fill="#F0F0F0"/>
<rect x="445.60" y="258.05" width="10.50" height="8.54" fill="#F0F0F0"/>
<rect x="455.50" y="258.05" width="10.50" height="8.54" fill="#F0F0F0"/>
<rect x="465.40" y="258.05" width="10.50" height="8.54" fill="#F0F0F0"/>
<rect x="475.30" y="258.05" width="9.90" height="8.54" fill="#595959"/>
<rect x="425.80" y="266.00" width="10.50" height="8.54" fill="#F0F0F0"/>
<rect x="435.70" y="266.00" width="10.50" height="8.54" fill="#F0F0F0"/>
<rect x="445.60" y="266.00" width="10.50" height="8.54" fill="#595959"/>
<rect x="455.50" y="266.00" width="10.50" height="8.54" fill="#F0F0F0"/>
<rect x="465.40" y="266.00" width="10.50" height="8.54" fill="#F0F0F0"/>
<rect x="475.30" y="266.00" width="9.90" height="8.54" fill="#F0F0F0"/>
<rect x="425.80" y="273.94" width="10.50" height="8.54" fill="#595959"/>
<rect x="435.70" y="273.94" width="10.50" height="8.54" fill="#F0F0F0"/>
<rect x="445.60" y="273.94" width="10.50" height="8.54" fill="#F0F0F0"/>
<rect x="455.50" y="273.94" width="10.50" height="8.54" fill="#F0F0F0"/>
<rect x="465.40" y="273.94" width="10.50" height="8.54" fill="#F0F0F0"/>
<rect x="475.30" y="273.94" width="9.90" height="8.54" fill="#F0F0F0"/>
<rect x="425.80" y="281.88" width="10.50" height="8.54" fill="#F0F0F0"/>
<rect x="435.70" y="281.88" width="10.50" height="8.54" fill="#F0F0F0"/>
<rect x="445.60" y="281.88" width="10.50" height="8.54" fill="#595959"/>
<rect x="455.50" y="281.88" width="10.50" height="8.54" fill="#F0F0F0"/>
<rect x="465.40" y="281.88" width="10.50" height="8.54" fill="#F0F0F0"/>
<rect x="475.30" y="281.88" width="9.90" height="8.54" fill="#F0F0F0"/>
<rect x="425.80" y="289.82" width="10.50" height="8.54" fill="#595959"/>
<rect x="435.70" y="289.82" width="10.50" height="8.54" fill="#F0F0F0"/>
<rect x="445.60" y="289.82" width="10.50" height="8.54" fill="#F0F0F0"/>
<rect x="455.50" y="289.82" width="10.50" height="8.54" fill="#F0F0F0"/>
<rect x="465.40" y="289.82" width="10.50" height="8.54" fill="#F0F0F0"/>
<rect x="475.30" y="289.82" width="9.90" height="8.54" fill="#F0F0F0"/>
<rect x="425.80" y="297.76" width="10.50" height="8.54" fill="#F0F0F0"/>
<rect x="435.70" y="297.76" width="10.50" height="8.54" fill="#595959"/>
<rect x="445.60" y="297.76" width="10.50" height="8.54" fill="#F0F0F0"/>
<rect x="455.50" y="297.76" width="10.50" height="8.54" fill="#F0F0F0"/>
<rect x="465.40" y="297.76" width="10.50" height="8.54" fill="#F0F0F0"/>
<rect x="475.30" y="297.76" width="9.90" height="8.54" fill="#F0F0F0"/>
<rect x="425.80" y="305.70" width="10.50" height="8.54" fill="#F0F0F0"/>
<rect x="435.70" y="305.70" width="10.50" height="8.54" fill="#F0F0F0"/>
<rect x="445.60" y="305.70" width="10.50" height="8.54" fill="#F0F0F0"/>
<rect x="455.50" y="305.70" width="10.50" height="8.54" fill="#595959"/>
<rect x="465.40" y="305.70" width="10.50" height="8.54" fill="#F0F0F0"/>
<rect x="475.30" y="305.70" width="9.90" height="8.54" fill="#F0F0F0"/>
<rect x="425.80" y="313.64" width="10.50" height="8.54" fill="#F0F0F0"/>
<rect x="435.70" y="313.64" width="10.50" height="8.54" fill="#595959"/>
<rect x="445.60" y="313.64" width="10.50" height="8.54" fill="#F0F0F0"/>
<rect x="455.50" y="313.64" width="10.50" height="8.54" fill="#F0F0F0"/>
<rect x="465.40" y="313.64" width="10.50" height="8.54" fill="#F0F0F0"/>
<rect x="475.30" y="313.64" width="9.90" height="8.54" fill="#F0F0F0"/>
<rect x="425.80" y="321.58" width="10.50" height="8.54" fill="#595959"/>
<rect x="435.70" y="321.58" width="10.50" height="8.54" fill="#F0F0F0"/>
<rect x="445.60" y="321.58" width="10.50" height="8.54" fill="#F0F0F0"/>
<rect x="455.50" y="321.58" width="10.50" height="8.54" fill="#F0F0F0"/>
<rect x="465.40" y="321.58" width="10.50" height="8.54" fill="#F0F0F0"/>
<rect x="475.30" y="321.58" width="9.90" height="8.54" fill="#F0F0F0"/>
<rect x="425.80" y="329.52" width="10.50" height="8.54" fill="#F0F0F0"/>
<rect x="435.70" y="329.52" width="10.50" height="8.54" fill="#F0F0F0"/>
<rect x="445.60" y="329.52" width="10.50" height="8.54" fill="#F0F0F0"/>
<rect x="455.50" y="329.52" width="10.50" height="8.54" fill="#F0F0F0"/>
<rect x="465.40" y="329.52" width="10.50" height="8.54" fill="#595959"/>
<rect x="475.30" y="329.52" width="9.90" height="8.54" fill="#F0F0F0"/>
<rect x="425.80" y="337.46" width="10.50" height="8.54" fill="#F0F0F0"/>
<rect x="435.70" y="337.46" width="10.50" height="8.54" fill="#F0F0F0"/>
<rect x="445.60" y="337.46" width="10.50" height="8.54" fill="#F0F0F0"/>
<rect x="455.50" y="337.46" width="10.50" height="8.54" fill="#595959"/>
<rect x="465.40" y="337.46" width="10.50" height="8.54" fill="#F0F0F0"/>
<rect x="475.30" y="337.46" width="9.90" height="8.54" fill="#F0F0F0"/>
<rect x="425.80" y="345.40" width="10.50" height="8.54" fill="#595959"/>
<rect x="435.70" y="345.40" width="10.50" height="8.54" fill="#F0F0F0"/>
<rect x="445.60" y="345.40" width="10.50" height="8.54" fill="#F0F0F0"/>
<rect x="455.50" y="345.40" width="10.50" height="8.54" fill="#F0F0F0"/>
<rect x="465.40" y="345.40" width="10.50" height="8.54" fill="#F0F0F0"/>
<rect x="475.30" y="345.40" width="9.90" height="8.54" fill="#F0F0F0"/>
<rect x="425.80" y="353.34" width="10.50" height="8.54" fill="#F0F0F0"/>
<rect x="435.70" y="353.34" width="10.50" height="8.54" fill="#F0F0F0"/>
<rect x="445.60" y="353.34" width="10.50" height="8.54" fill="#F0F0F0"/>
<rect x="455.50" y="353.34" width="10.50" height="8.54" fill="#595959"/>
<rect x="465.40" y="353.34" width="10.50" height="8.54" fill="#F0F0F0"/>
<rect x="475.30" y="353.34" width="9.90" height="8.54" fill="#F0F0F0"/>
<rect x="425.80" y="361.28" width="10.50" height="8.54" fill="#595959"/>
<rect x="435.70" y="361.28" width="10.50" height="8.54" fill="#F0F0F0"/>
<rect x="445.60" y="361.28" width="10.50" height="8.54" fill="#F0F0F0"/>
<rect x="455.50" y="361.28" width="10.50" height="8.54" fill="#F0F0F0"/>
<rect x="465.40" y="361.28" width="10.50" height="8.54" fill="#F0F0F0"/>
<rect x="475.30" y="361.28" width="9.90" height="8.54" fill="#F0F0F0"/>
<rect x="425.80" y="369.22" width="10.50" height="8.54" fill="#595959"/>
<rect x="435.70" y="369.22" width="10.50" height="8.54" fill="#F0F0F0"/>
<rect x="445.60" y="369.22" width="10.50" height="8.54" fill="#F0F0F0"/>
<rect x="455.50" y="369.22" width="10.50" height="8.54" fill="#F0F0F0"/>
<rect x="465.40" y="369.22" width="10.50" height="8.54" fill="#F0F0F0"/>
<rect x="475.30" y="369.22" width="9.90" height="8.54" fill="#F0F0F0"/>
<rect x="425.80" y="377.16" width="10.50" height="8.54" fill="#595959"/>
<rect x="435.70" y="377.16" width="10.50" height="8.54" fill="#F0F0F0"/>
<rect x="445.60" y="377.16" width="10.50" height="8.54" fill="#F0F0F0"/>
<rect x="455.50" y="377.16" width="10.50" height="8.54" fill="#F0F0F0"/>
<rect x="465.40" y="377.16" width="10.50" height="8.54" fill="#F0F0F0"/>
<rect x="475.30" y="377.16" width="9.90" height="8.54" fill="#F0F0F0"/>
<rect x="425.80" y="385.10" width="10.50" height="8.54" fill="#595959"/>
<rect x="435.70" y="385.10" width="10.50" height="8.54" fill="#F0F0F0"/>
<rect x="445.60" y="385.10" width="10.50" height="8.54" fill="#F0F0F0"/>
<rect x="455.50" y="385.10" width="10.50" height="8.54" fill="#F0F0F0"/>
<rect x="465.40" y="385.10" width="10.50" height="8.54" fill="#F0F0F0"/>
<rect x="475.30" y="385.10" width="9.90" height="8.54" fill="#F0F0F0"/>
<rect x="425.80" y="393.04" width="10.50" height="8.54" fill="#F0F0F0"/>
<rect x="435.70" y="393.04" width="10.50" height="8.54" fill="#F0F0F0"/>
<rect x="445.60" y="393.04" width="10.50" height="8.54" fill="#F0F0F0"/>
<rect x="455.50" y="393.04" width="10.50" height="8.54" fill="#F0F0F0"/>
<rect x="465.40" y="393.04" width="10.50" height="8.54" fill="#595959"/>
<rect x="475.30" y="393.04" width="9.90" height="8.54" fill="#F0F0F0"/>
<rect x="425.80" y="400.98" width="10.50" height="8.54" fill="#F0F0F0"/>
<rect x="435.70" y="400.98" width="10.50" height="8.54" fill="#F0F0F0"/>
<rect x="445.60" y="400.98" width="10.50" height="8.54" fill="#F0F0F0"/>
<rect x="455.50" y="400.98" width="10.50" height="8.54" fill="#595959"/>
<rect x="465.40" y="400.98" width="10.50" height="8.54" fill="#F0F0F0"/>
<rect x="475.30" y="400.98" width="9.90" height="8.54" fill="#F0F0F0"/>
<rect x="425.80" y="408.92" width="10.50" height="8.54" fill="#F0F0F0"/>
<rect x="435.70" y="408.92" width="10.50" height="8.54" fill="#F0F0F0"/>
<rect x="445.60" y="408.92" width="10.50" height="8.54" fill="#F0F0F0"/>
<rect x="455.50" y="408.92" width="10.50" height="8.54" fill="#F0F0F0"/>
<rect x="465.40" y="408.92" width="10.50" height="8.54" fill="#595959"/>
<rect x="475.30" y="408.92" width="9.90" height="8.54" fill="#F0F0F0"/>
<rect x="425.80" y="416.86" width="10.50" height="8.54" fill="#595959"/>
<rect x="435.70" y="416.86" width="10.50" height="8.54" fill="#F0F0F0"/>
<rect x="445.60" y="416.86" width="10.50" height="8.54" fill="#F0F0F0"/>
<rect x="455.50" y="416.86" width="10.50" height="8.54" fill="#F0F0F0"/>
<rect x="465.40" y="416.86" width="10.50" height="8.54" fill="#F0F0F0"/>
<rect x="475.30" y="416.86" width="9.90" height="8.54" fill="#F0F0F0"/>
<rect x="425.80" y="424.80" width="10.50" height="8.54" fill="#595959"/>
<rect x="435.70" y="424.80" width="10.50" height="8.54" fill="#F0F0F0"/>
<rect x="445.60" y="424.80" width="10.50" height="8.54" fill="#F0F0F0"/>
<rect x="455.50" y="424.80" width="10.50" height="8.54" fill="#F0F0F0"/>
<rect x="465.40" y="424.80" width="10.50" height="8.54" fill="#F0F0F0"/>
<rect x="475.30" y="424.80" width="9.90" height="8.54" fill="#F0F0F0"/>
<rect x="425.80" y="432.74" width="10.50" height="8.54" fill="#F0F0F0"/>
<rect x="435.70" y="432.74" width="10.50" height="8.54" fill="#F0F0F0"/>
<rect x="445.60" y="432.74" width="10.50" height="8.54" fill="#F0F0F0"/>
<rect x="455.50" y="432.74" width="10.50" height="8.54" fill="#F0F0F0"/>
<rect x="465.40" y="432.74" width="10.50" height="8.54" fill="#F0F0F0"/>
<rect x="475.30" y="432.74" width="9.90" height="8.54" fill="#595959"/>
<rect x="425.80" y="440.68" width="10.50" height="8.54" fill="#F0F0F0"/>
<rect x="435.70" y="440.68" width="10.50" height="8.54" fill="#F0F0F0"/>
<rect x="445.60" y="440.68" width="10.50" height="8.54" fill="#F0F0F0"/>
<rect x="455.50" y="440.68" width="10.50" height="8.54" fill="#F0F0F0"/>
<rect x="465.40" y="440.68" width="10.50" height="8.54" fill="#F0F0F0"/>
<rect x="475.30" y="440.68" width="9.90" height="8.54" fill="#595959"/>
<rect x="425.80" y="448.62" width="10.50" height="8.54" fill="#F0F0F0"/>
<rect x="435.70" y="448.62" width="10.50" height="8.54" fill="#F0F0F0"/>
<rect x="445.60" y="448.62" width="10.50" height="8.54" fill="#F0F0F0"/>
<rect x="455.50" y="448.62" width="10.50" height="8.54" fill="#595959"/>
<rect x="465.40" y="448.62" width="10.50" height="8.54" fill="#F0F0F0"/>
<rect x="475.30" y="448.62" width="9.90" height="8.54" fill="#F0F0F0"/>
<rect x="425.80" y="456.56" width="10.50" height="7.94" fill="#F0F0F0"/>
<rect x="435.70" y="456.56" width="10.50" height="7.94" fill="#F0F0F0"/>
<rect x="445.60" y="456.56" width="10.50" height="7.94" fill="#F0F0F0"/>
<rect x="455.50" y="456.56" width="10.50" height="7.94" fill="#F0F0F0"/>
<rect x="465.40" y="456.56" width="10.50" height="7.94" fill="#595959"/>
<rect x="475.30" y="456.56" width="9.90" height="7.94" fill="#F0F0F0"/>
<rect x="424.80" y="59.20" width="61.60" height="405.80" fill="none" stroke="#333333" stroke-width="1.3"/>
<line x1="430.40" y1="465.50" x2="430.40" y2="471.30" stroke="#333333" stroke-width="1"/>
<text x="433.90" y="474.70" font-size="10.6" text-anchor="end" transform="rotate(-90 433.90 474.70)">Kernel method</text>
<line x1="439.90" y1="465.50" x2="439.90" y2="471.30" stroke="#333333" stroke-width="1"/>
<text x="443.40" y="474.70" font-size="10.6" text-anchor="end" transform="rotate(-90 443.40 474.70)">Nonlinear regression</text>
<line x1="450.20" y1="465.50" x2="450.20" y2="471.30" stroke="#333333" stroke-width="1"/>
<text x="453.70" y="474.70" font-size="10.6" text-anchor="end" transform="rotate(-90 453.70 474.70)">Sparse linear regression</text>
<line x1="459.70" y1="465.50" x2="459.70" y2="471.30" stroke="#333333" stroke-width="1"/>
<text x="463.20" y="474.70" font-size="10.6" text-anchor="end" transform="rotate(-90 463.20 474.70)">PLS or PC regression</text>
<line x1="469.90" y1="465.50" x2="469.90" y2="471.30" stroke="#333333" stroke-width="1"/>
<text x="473.40" y="474.70" font-size="10.6" text-anchor="end" transform="rotate(-90 473.40 474.70)">Ensemble</text>
<line x1="479.80" y1="465.50" x2="479.80" y2="471.30" stroke="#333333" stroke-width="1"/>
<text x="483.30" y="474.70" font-size="10.6" text-anchor="end" transform="rotate(-90 483.30 474.70)">Others</text>
<text x="454.80" y="43.00" font-size="9.5" text-anchor="middle">Prediction</text>
<text x="454.80" y="54.30" font-size="9.5" text-anchor="middle">algorithm</text>
<rect x="491.20" y="59.55" width="10.96" height="8.54" fill="#595959"/>
<rect x="501.56" y="59.55" width="10.96" height="8.54" fill="#F0F0F0"/>
<rect x="511.92" y="59.55" width="10.96" height="8.54" fill="#F0F0F0"/>
<rect x="522.28" y="59.55" width="10.96" height="8.54" fill="#F0F0F0"/>
<rect x="532.64" y="59.55" width="10.36" height="8.54" fill="#F0F0F0"/>
<rect x="491.20" y="67.49" width="10.96" height="8.54" fill="#595959"/>
<rect x="501.56" y="67.49" width="10.96" height="8.54" fill="#F0F0F0"/>
<rect x="511.92" y="67.49" width="10.96" height="8.54" fill="#F0F0F0"/>
<rect x="522.28" y="67.49" width="10.96" height="8.54" fill="#F0F0F0"/>
<rect x="532.64" y="67.49" width="10.36" height="8.54" fill="#F0F0F0"/>
<rect x="491.20" y="75.43" width="10.96" height="8.54" fill="#595959"/>
<rect x="501.56" y="75.43" width="10.96" height="8.54" fill="#F0F0F0"/>
<rect x="511.92" y="75.43" width="10.96" height="8.54" fill="#F0F0F0"/>
<rect x="522.28" y="75.43" width="10.96" height="8.54" fill="#F0F0F0"/>
<rect x="532.64" y="75.43" width="10.36" height="8.54" fill="#F0F0F0"/>
<rect x="491.20" y="83.37" width="10.96" height="8.54" fill="#595959"/>
<rect x="501.56" y="83.37" width="10.96" height="8.54" fill="#F0F0F0"/>
<rect x="511.92" y="83.37" width="10.96" height="8.54" fill="#F0F0F0"/>
<rect x="522.28" y="83.37" width="10.96" height="8.54" fill="#F0F0F0"/>
<rect x="532.64" y="83.37" width="10.36" height="8.54" fill="#F0F0F0"/>
<rect x="491.20" y="91.31" width="10.96" height="8.54" fill="#595959"/>
<rect x="501.56" y="91.31" width="10.96" height="8.54" fill="#F0F0F0"/>
<rect x="511.92" y="91.31" width="10.96" height="8.54" fill="#F0F0F0"/>
<rect x="522.28" y="91.31" width="10.96" height="8.54" fill="#F0F0F0"/>
<rect x="532.64" y="91.31" width="10.36" height="8.54" fill="#F0F0F0"/>
<rect x="491.20" y="99.25" width="10.96" height="8.54" fill="#595959"/>
<rect x="501.56" y="99.25" width="10.96" height="8.54" fill="#F0F0F0"/>
<rect x="511.92" y="99.25" width="10.96" height="8.54" fill="#F0F0F0"/>
<rect x="522.28" y="99.25" width="10.96" height="8.54" fill="#F0F0F0"/>
<rect x="532.64" y="99.25" width="10.36" height="8.54" fill="#F0F0F0"/>
<rect x="491.20" y="107.19" width="10.96" height="8.54" fill="#F0F0F0"/>
<rect x="501.56" y="107.19" width="10.96" height="8.54" fill="#F0F0F0"/>
<rect x="511.92" y="107.19" width="10.96" height="8.54" fill="#595959"/>
<rect x="522.28" y="107.19" width="10.96" height="8.54" fill="#F0F0F0"/>
<rect x="532.64" y="107.19" width="10.36" height="8.54" fill="#F0F0F0"/>
<rect x="491.20" y="115.13" width="10.96" height="8.54" fill="#F0F0F0"/>
<rect x="501.56" y="115.13" width="10.96" height="8.54" fill="#595959"/>
<rect x="511.92" y="115.13" width="10.96" height="8.54" fill="#F0F0F0"/>
<rect x="522.28" y="115.13" width="10.96" height="8.54" fill="#F0F0F0"/>
<rect x="532.64" y="115.13" width="10.36" height="8.54" fill="#F0F0F0"/>
<rect x="491.20" y="123.07" width="10.96" height="8.54" fill="#F0F0F0"/>
<rect x="501.56" y="123.07" width="10.96" height="8.54" fill="#F0F0F0"/>
<rect x="511.92" y="123.07" width="10.96" height="8.54" fill="#F0F0F0"/>
<rect x="522.28" y="123.07" width="10.96" height="8.54" fill="#F0F0F0"/>
<rect x="532.64" y="123.07" width="10.36" height="8.54" fill="#595959"/>
<rect x="491.20" y="131.01" width="10.96" height="8.54" fill="#F0F0F0"/>
<rect x="501.56" y="131.01" width="10.96" height="8.54" fill="#595959"/>
<rect x="511.92" y="131.01" width="10.96" height="8.54" fill="#F0F0F0"/>
<rect x="522.28" y="131.01" width="10.96" height="8.54" fill="#F0F0F0"/>
<rect x="532.64" y="131.01" width="10.36" height="8.54" fill="#F0F0F0"/>
<rect x="491.20" y="138.95" width="10.96" height="8.54" fill="#595959"/>
<rect x="501.56" y="138.95" width="10.96" height="8.54" fill="#F0F0F0"/>
<rect x="511.92" y="138.95" width="10.96" height="8.54" fill="#F0F0F0"/>
<rect x="522.28" y="138.95" width="10.96" height="8.54" fill="#F0F0F0"/>
<rect x="532.64" y="138.95" width="10.36" height="8.54" fill="#F0F0F0"/>
<rect x="491.20" y="146.89" width="10.96" height="8.54" fill="#F0F0F0"/>
<rect x="501.56" y="146.89" width="10.96" height="8.54" fill="#595959"/>
<rect x="511.92" y="146.89" width="10.96" height="8.54" fill="#F0F0F0"/>
<rect x="522.28" y="146.89" width="10.96" height="8.54" fill="#F0F0F0"/>
<rect x="532.64" y="146.89" width="10.36" height="8.54" fill="#F0F0F0"/>
<rect x="491.20" y="154.83" width="10.96" height="8.54" fill="#595959"/>
<rect x="501.56" y="154.83" width="10.96" height="8.54" fill="#F0F0F0"/>
<rect x="511.92" y="154.83" width="10.96" height="8.54" fill="#F0F0F0"/>
<rect x="522.28" y="154.83" width="10.96" height="8.54" fill="#F0F0F0"/>
<rect x="532.64" y="154.83" width="10.36" height="8.54" fill="#F0F0F0"/>
<rect x="491.20" y="162.77" width="10.96" height="8.54" fill="#595959"/>
<rect x="501.56" y="162.77" width="10.96" height="8.54" fill="#F0F0F0"/>
<rect x="511.92" y="162.77" width="10.96" height="8.54" fill="#F0F0F0"/>
<rect x="522.28" y="162.77" width="10.96" height="8.54" fill="#F0F0F0"/>
<rect x="532.64" y="162.77" width="10.36" height="8.54" fill="#595959"/>
<rect x="491.20" y="170.71" width="10.96" height="8.54" fill="#F0F0F0"/>
<rect x="501.56" y="170.71" width="10.96" height="8.54" fill="#F0F0F0"/>
<rect x="511.92" y="170.71" width="10.96" height="8.54" fill="#595959"/>
<rect x="522.28" y="170.71" width="10.96" height="8.54" fill="#F0F0F0"/>
<rect x="532.64" y="170.71" width="10.36" height="8.54" fill="#F0F0F0"/>
<rect x="491.20" y="178.65" width="10.96" height="8.54" fill="#595959"/>
<rect x="501.56" y="178.65" width="10.96" height="8.54" fill="#F0F0F0"/>
<rect x="511.92" y="178.65" width="10.96" height="8.54" fill="#F0F0F0"/>
<rect x="522.28" y="178.65" width="10.96" height="8.54" fill="#F0F0F0"/>
<rect x="532.64" y="178.65" width="10.36" height="8.54" fill="#F0F0F0"/>
<rect x="491.20" y="186.59" width="10.96" height="8.54" fill="#F0F0F0"/>
<rect x="501.56" y="186.59" width="10.96" height="8.54" fill="#F0F0F0"/>
<rect x="511.92" y="186.59" width="10.96" height="8.54" fill="#595959"/>
<rect x="522.28" y="186.59" width="10.96" height="8.54" fill="#F0F0F0"/>
<rect x="532.64" y="186.59" width="10.36" height="8.54" fill="#F0F0F0"/>
<rect x="491.20" y="194.53" width="10.96" height="8.54" fill="#F0F0F0"/>
<rect x="501.56" y="194.53" width="10.96" height="8.54" fill="#595959"/>
<rect x="511.92" y="194.53" width="10.96" height="8.54" fill="#F0F0F0"/>
<rect x="522.28" y="194.53" width="10.96" height="8.54" fill="#F0F0F0"/>
<rect x="532.64" y="194.53" width="10.36" height="8.54" fill="#F0F0F0"/>
<rect x="491.20" y="202.47" width="10.96" height="8.54" fill="#F0F0F0"/>
<rect x="501.56" y="202.47" width="10.96" height="8.54" fill="#F0F0F0"/>
<rect x="511.92" y="202.47" width="10.96" height="8.54" fill="#F0F0F0"/>
<rect x="522.28" y="202.47" width="10.96" height="8.54" fill="#F0F0F0"/>
<rect x="532.64" y="202.47" width="10.36" height="8.54" fill="#595959"/>
<rect x="491.20" y="210.41" width="10.96" height="8.54" fill="#F0F0F0"/>
<rect x="501.56" y="210.41" width="10.96" height="8.54" fill="#595959"/>
<rect x="511.92" y="210.41" width="10.96" height="8.54" fill="#F0F0F0"/>
<rect x="522.28" y="210.41" width="10.96" height="8.54" fill="#F0F0F0"/>
<rect x="532.64" y="210.41" width="10.36" height="8.54" fill="#F0F0F0"/>
<rect x="491.20" y="218.35" width="10.96" height="8.54" fill="#595959"/>
<rect x="501.56" y="218.35" width="10.96" height="8.54" fill="#F0F0F0"/>
<rect x="511.92" y="218.35" width="10.96" height="8.54" fill="#F0F0F0"/>
<rect x="522.28" y="218.35" width="10.96" height="8.54" fill="#F0F0F0"/>
<rect x="532.64" y="218.35" width="10.36" height="8.54" fill="#F0F0F0"/>
<rect x="491.20" y="226.29" width="10.96" height="8.54" fill="#595959"/>
<rect x="501.56" y="226.29" width="10.96" height="8.54" fill="#F0F0F0"/>
<rect x="511.92" y="226.29" width="10.96" height="8.54" fill="#F0F0F0"/>
<rect x="522.28" y="226.29" width="10.96" height="8.54" fill="#F0F0F0"/>
<rect x="532.64" y="226.29" width="10.36" height="8.54" fill="#F0F0F0"/>
<rect x="491.20" y="234.23" width="10.96" height="8.54" fill="#F0F0F0"/>
<rect x="501.56" y="234.23" width="10.96" height="8.54" fill="#F0F0F0"/>
<rect x="511.92" y="234.23" width="10.96" height="8.54" fill="#F0F0F0"/>
<rect x="522.28" y="234.23" width="10.96" height="8.54" fill="#F0F0F0"/>
<rect x="532.64" y="234.23" width="10.36" height="8.54" fill="#595959"/>
<rect x="491.20" y="242.17" width="10.96" height="8.54" fill="#F0F0F0"/>
<rect x="501.56" y="242.17" width="10.96" height="8.54" fill="#F0F0F0"/>
<rect x="511.92" y="242.17" width="10.96" height="8.54" fill="#F0F0F0"/>
<rect x="522.28" y="242.17" width="10.96" height="8.54" fill="#F0F0F0"/>
<rect x="532.64" y="242.17" width="10.36" height="8.54" fill="#595959"/>
<rect x="491.20" y="250.11" width="10.96" height="8.54" fill="#F0F0F0"/>
<rect x="501.56" y="250.11" width="10.96" height="8.54" fill="#F0F0F0"/>
<rect x="511.92" y="250.11" width="10.96" height="8.54" fill="#F0F0F0"/>
<rect x="522.28" y="250.11" width="10.96" height="8.54" fill="#F0F0F0"/>
<rect x="532.64" y="250.11" width="10.36" height="8.54" fill="#595959"/>
<rect x="491.20" y="258.05" width="10.96" height="8.54" fill="#F0F0F0"/>
<rect x="501.56" y="258.05" width="10.96" height="8.54" fill="#F0F0F0"/>
<rect x="511.92" y="258.05" width="10.96" height="8.54" fill="#F0F0F0"/>
<rect x="522.28" y="258.05" width="10.96" height="8.54" fill="#F0F0F0"/>
<rect x="532.64" y="258.05" width="10.36" height="8.54" fill="#595959"/>
<rect x="491.20" y="266.00" width="10.96" height="8.54" fill="#595959"/>
<rect x="501.56" y="266.00" width="10.96" height="8.54" fill="#F0F0F0"/>
<rect x="511.92" y="266.00" width="10.96" height="8.54" fill="#F0F0F0"/>
<rect x="522.28" y="266.00" width="10.96" height="8.54" fill="#F0F0F0"/>
<rect x="532.64" y="266.00" width="10.36" height="8.54" fill="#F0F0F0"/>
<rect x="491.20" y="273.94" width="10.96" height="8.54" fill="#595959"/>
<rect x="501.56" y="273.94" width="10.96" height="8.54" fill="#F0F0F0"/>
<rect x="511.92" y="273.94" width="10.96" height="8.54" fill="#F0F0F0"/>
<rect x="522.28" y="273.94" width="10.96" height="8.54" fill="#F0F0F0"/>
<rect x="532.64" y="273.94" width="10.36" height="8.54" fill="#F0F0F0"/>
<rect x="491.20" y="281.88" width="10.96" height="8.54" fill="#595959"/>
<rect x="501.56" y="281.88" width="10.96" height="8.54" fill="#F0F0F0"/>
<rect x="511.92" y="281.88" width="10.96" height="8.54" fill="#F0F0F0"/>
<rect x="522.28" y="281.88" width="10.96" height="8.54" fill="#F0F0F0"/>
<rect x="532.64" y="281.88" width="10.36" height="8.54" fill="#F0F0F0"/>
<rect x="491.20" y="289.82" width="10.96" height="8.54" fill="#595959"/>
<rect x="501.56" y="289.82" width="10.96" height="8.54" fill="#F0F0F0"/>
<rect x="511.92" y="289.82" width="10.96" height="8.54" fill="#F0F0F0"/>
<rect x="522.28" y="289.82" width="10.96" height="8.54" fill="#F0F0F0"/>
<rect x="532.64" y="289.82" width="10.36" height="8.54" fill="#F0F0F0"/>
<rect x="491.20" y="297.76" width="10.96" height="8.54" fill="#F0F0F0"/>
<rect x="501.56" y="297.76" width="10.96" height="8.54" fill="#F0F0F0"/>
<rect x="511.92" y="297.76" width="10.96" height="8.54" fill="#F0F0F0"/>
<rect x="522.28" y="297.76" width="10.96" height="8.54" fill="#F0F0F0"/>
<rect x="532.64" y="297.76" width="10.36" height="8.54" fill="#595959"/>
<rect x="491.20" y="305.70" width="10.96" height="8.54" fill="#F0F0F0"/>
<rect x="501.56" y="305.70" width="10.96" height="8.54" fill="#595959"/>
<rect x="511.92" y="305.70" width="10.96" height="8.54" fill="#F0F0F0"/>
<rect x="522.28" y="305.70" width="10.96" height="8.54" fill="#F0F0F0"/>
<rect x="532.64" y="305.70" width="10.36" height="8.54" fill="#F0F0F0"/>
<rect x="491.20" y="313.64" width="10.96" height="8.54" fill="#F0F0F0"/>
<rect x="501.56" y="313.64" width="10.96" height="8.54" fill="#F0F0F0"/>
<rect x="511.92" y="313.64" width="10.96" height="8.54" fill="#595959"/>
<rect x="522.28" y="313.64" width="10.96" height="8.54" fill="#F0F0F0"/>
<rect x="532.64" y="313.64" width="10.36" height="8.54" fill="#F0F0F0"/>
<rect x="491.20" y="321.58" width="10.96" height="8.54" fill="#595959"/>
<rect x="501.56" y="321.58" width="10.96" height="8.54" fill="#F0F0F0"/>
<rect x="511.92" y="321.58" width="10.96" height="8.54" fill="#F0F0F0"/>
<rect x="522.28" y="321.58" width="10.96" height="8.54" fill="#F0F0F0"/>
<rect x="532.64" y="321.58" width="10.36" height="8.54" fill="#F0F0F0"/>
<rect x="491.20" y="329.52" width="10.96" height="8.54" fill="#595959"/>
<rect x="501.56" y="329.52" width="10.96" height="8.54" fill="#F0F0F0"/>
<rect x="511.92" y="329.52" width="10.96" height="8.54" fill="#F0F0F0"/>
<rect x="522.28" y="329.52" width="10.96" height="8.54" fill="#F0F0F0"/>
<rect x="532.64" y="329.52" width="10.36" height="8.54" fill="#F0F0F0"/>
<rect x="491.20" y="337.46" width="10.96" height="8.54" fill="#F0F0F0"/>
<rect x="501.56" y="337.46" width="10.96" height="8.54" fill="#595959"/>
<rect x="511.92" y="337.46" width="10.96" height="8.54" fill="#F0F0F0"/>
<rect x="522.28" y="337.46" width="10.96" height="8.54" fill="#F0F0F0"/>
<rect x="532.64" y="337.46" width="10.36" height="8.54" fill="#F0F0F0"/>
<rect x="491.20" y="345.40" width="10.96" height="8.54" fill="#595959"/>
<rect x="501.56" y="345.40" width="10.96" height="8.54" fill="#F0F0F0"/>
<rect x="511.92" y="345.40" width="10.96" height="8.54" fill="#F0F0F0"/>
<rect x="522.28" y="345.40" width="10.96" height="8.54" fill="#F0F0F0"/>
<rect x="532.64" y="345.40" width="10.36" height="8.54" fill="#F0F0F0"/>
<rect x="491.20" y="353.34" width="10.96" height="8.54" fill="#F0F0F0"/>
<rect x="501.56" y="353.34" width="10.96" height="8.54" fill="#595959"/>
<rect x="511.92" y="353.34" width="10.96" height="8.54" fill="#F0F0F0"/>
<rect x="522.28" y="353.34" width="10.96" height="8.54" fill="#F0F0F0"/>
<rect x="532.64" y="353.34" width="10.36" height="8.54" fill="#F0F0F0"/>
<rect x="491.20" y="361.28" width="10.96" height="8.54" fill="#F0F0F0"/>
<rect x="501.56" y="361.28" width="10.96" height="8.54" fill="#F0F0F0"/>
<rect x="511.92" y="361.28" width="10.96" height="8.54" fill="#F0F0F0"/>
<rect x="522.28" y="361.28" width="10.96" height="8.54" fill="#F0F0F0"/>
<rect x="532.64" y="361.28" width="10.36" height="8.54" fill="#595959"/>
<rect x="491.20" y="369.22" width="10.96" height="8.54" fill="#595959"/>
<rect x="501.56" y="369.22" width="10.96" height="8.54" fill="#F0F0F0"/>
<rect x="511.92" y="369.22" width="10.96" height="8.54" fill="#F0F0F0"/>
<rect x="522.28" y="369.22" width="10.96" height="8.54" fill="#F0F0F0"/>
<rect x="532.64" y="369.22" width="10.36" height="8.54" fill="#F0F0F0"/>
<rect x="491.20" y="377.16" width="10.96" height="8.54" fill="#595959"/>
<rect x="501.56" y="377.16" width="10.96" height="8.54" fill="#F0F0F0"/>
<rect x="511.92" y="377.16" width="10.96" height="8.54" fill="#F0F0F0"/>
<rect x="522.28" y="377.16" width="10.96" height="8.54" fill="#F0F0F0"/>
<rect x="532.64" y="377.16" width="10.36" height="8.54" fill="#F0F0F0"/>
<rect x="491.20" y="385.10" width="10.96" height="8.54" fill="#595959"/>
<rect x="501.56" y="385.10" width="10.96" height="8.54" fill="#F0F0F0"/>
<rect x="511.92" y="385.10" width="10.96" height="8.54" fill="#F0F0F0"/>
<rect x="522.28" y="385.10" width="10.96" height="8.54" fill="#F0F0F0"/>
<rect x="532.64" y="385.10" width="10.36" height="8.54" fill="#F0F0F0"/>
<rect x="491.20" y="393.04" width="10.96" height="8.54" fill="#F0F0F0"/>
<rect x="501.56" y="393.04" width="10.96" height="8.54" fill="#F0F0F0"/>
<rect x="511.92" y="393.04" width="10.96" height="8.54" fill="#595959"/>
<rect x="522.28" y="393.04" width="10.96" height="8.54" fill="#F0F0F0"/>
<rect x="532.64" y="393.04" width="10.36" height="8.54" fill="#F0F0F0"/>
<rect x="491.20" y="400.98" width="10.96" height="8.54" fill="#F0F0F0"/>
<rect x="501.56" y="400.98" width="10.96" height="8.54" fill="#595959"/>
<rect x="511.92" y="400.98" width="10.96" height="8.54" fill="#F0F0F0"/>
<rect x="522.28" y="400.98" width="10.96" height="8.54" fill="#F0F0F0"/>
<rect x="532.64" y="400.98" width="10.36" height="8.54" fill="#F0F0F0"/>
<rect x="491.20" y="408.92" width="10.96" height="8.54" fill="#F0F0F0"/>
<rect x="501.56" y="408.92" width="10.96" height="8.54" fill="#F0F0F0"/>
<rect x="511.92" y="408.92" width="10.96" height="8.54" fill="#F0F0F0"/>
<rect x="522.28" y="408.92" width="10.96" height="8.54" fill="#F0F0F0"/>
<rect x="532.64" y="408.92" width="10.36" height="8.54" fill="#595959"/>
<rect x="491.20" y="416.86" width="10.96" height="8.54" fill="#595959"/>
<rect x="501.56" y="416.86" width="10.96" height="8.54" fill="#F0F0F0"/>
<rect x="511.92" y="416.86" width="10.96" height="8.54" fill="#F0F0F0"/>
<rect x="522.28" y="416.86" width="10.96" height="8.54" fill="#F0F0F0"/>
<rect x="532.64" y="416.86" width="10.36" height="8.54" fill="#F0F0F0"/>
<rect x="491.20" y="424.80" width="10.96" height="8.54" fill="#595959"/>
<rect x="501.56" y="424.80" width="10.96" height="8.54" fill="#F0F0F0"/>
<rect x="511.92" y="424.80" width="10.96" height="8.54" fill="#F0F0F0"/>
<rect x="522.28" y="424.80" width="10.96" height="8.54" fill="#F0F0F0"/>
<rect x="532.64" y="424.80" width="10.36" height="8.54" fill="#F0F0F0"/>
<rect x="491.20" y="432.74" width="10.96" height="8.54" fill="#F0F0F0"/>
<rect x="501.56" y="432.74" width="10.96" height="8.54" fill="#F0F0F0"/>
<rect x="511.92" y="432.74" width="10.96" height="8.54" fill="#F0F0F0"/>
<rect x="522.28" y="432.74" width="10.96" height="8.54" fill="#F0F0F0"/>
<rect x="532.64" y="432.74" width="10.36" height="8.54" fill="#595959"/>
<rect x="491.20" y="440.68" width="10.96" height="8.54" fill="#595959"/>
<rect x="501.56" y="440.68" width="10.96" height="8.54" fill="#F0F0F0"/>
<rect x="511.92" y="440.68" width="10.96" height="8.54" fill="#F0F0F0"/>
<rect x="522.28" y="440.68" width="10.96" height="8.54" fill="#F0F0F0"/>
<rect x="532.64" y="440.68" width="10.36" height="8.54" fill="#F0F0F0"/>
<rect x="491.20" y="448.62" width="10.96" height="8.54" fill="#F0F0F0"/>
<rect x="501.56" y="448.62" width="10.96" height="8.54" fill="#595959"/>
<rect x="511.92" y="448.62" width="10.96" height="8.54" fill="#F0F0F0"/>
<rect x="522.28" y="448.62" width="10.96" height="8.54" fill="#F0F0F0"/>
<rect x="532.64" y="448.62" width="10.36" height="8.54" fill="#F0F0F0"/>
<rect x="491.20" y="456.56" width="10.96" height="7.94" fill="#F0F0F0"/>
<rect x="501.56" y="456.56" width="10.96" height="7.94" fill="#F0F0F0"/>
<rect x="511.92" y="456.56" width="10.96" height="7.94" fill="#F0F0F0"/>
<rect x="522.28" y="456.56" width="10.96" height="7.94" fill="#F0F0F0"/>
<rect x="532.64" y="456.56" width="10.36" height="7.94" fill="#595959"/>
<rect x="490.30" y="59.20" width="53.60" height="405.80" fill="none" stroke="#333333" stroke-width="1.3"/>
<line x1="495.80" y1="465.50" x2="495.80" y2="471.30" stroke="#333333" stroke-width="1"/>
<text x="499.30" y="474.70" font-size="10.6" text-anchor="end" transform="rotate(-90 499.30 474.70)">10-fold cross-validation</text>
<line x1="506.10" y1="465.50" x2="506.10" y2="471.30" stroke="#333333" stroke-width="1"/>
<text x="509.60" y="474.70" font-size="10.6" text-anchor="end" transform="rotate(-90 509.60 474.70)">Leave-one-out cross-validation</text>
<line x1="516.50" y1="465.50" x2="516.50" y2="471.30" stroke="#333333" stroke-width="1"/>
<text x="520.00" y="474.70" font-size="10.6" text-anchor="end" transform="rotate(-90 520.00 474.70)">5-fold cross-validation</text>
<line x1="526.80" y1="465.50" x2="526.80" y2="471.30" stroke="#333333" stroke-width="1"/>
<text x="530.30" y="474.70" font-size="10.6" text-anchor="end" transform="rotate(-90 530.30 474.70)">No cross-validation</text>
<line x1="537.60" y1="465.50" x2="537.60" y2="471.30" stroke="#333333" stroke-width="1"/>
<text x="541.10" y="474.70" font-size="10.6" text-anchor="end" transform="rotate(-90 541.10 474.70)">Others</text>
<text x="514.10" y="43.00" font-size="9.5" text-anchor="middle">Model</text>
<text x="514.10" y="54.30" font-size="9.5" text-anchor="middle">validation</text>
<text x="420.60" y="15.90" font-size="16" text-anchor="middle" class="t">Subchallenge 2</text>
<rect x="310.00" y="693.60" width="22.10" height="21.40" fill="#F8766D"/>
<text x="337.20" y="707.90" font-size="9.6" text-anchor="start">Also from an external source</text>
<rect x="310.00" y="715.40" width="22.10" height="21.80" fill="#7CAE00"/>
<text x="337.20" y="729.90" font-size="9.6" text-anchor="start">As provided by organizers</text>
<rect x="310.00" y="737.60" width="22.10" height="22.20" fill="#00BFC4"/>
<text x="337.20" y="752.30" font-size="9.6" text-anchor="start">No, I did not use it</text>
<rect x="310.00" y="760.20" width="22.10" height="22.00" fill="#C77CFF"/>
<text x="337.20" y="774.80" font-size="9.6" text-anchor="start">Only from external source</text>
<rect x="492.20" y="693.60" width="22.10" height="21.70" fill="#F0F0F0"/>
<rect x="492.20" y="715.60" width="22.10" height="22.20" fill="#595959"/>
<text x="517.40" y="708.40" font-size="9.8" text-anchor="start">No</text>
<text x="517.40" y="730.40" font-size="9.8" text-anchor="start">Yes</text>
</svg>
</body></html>
